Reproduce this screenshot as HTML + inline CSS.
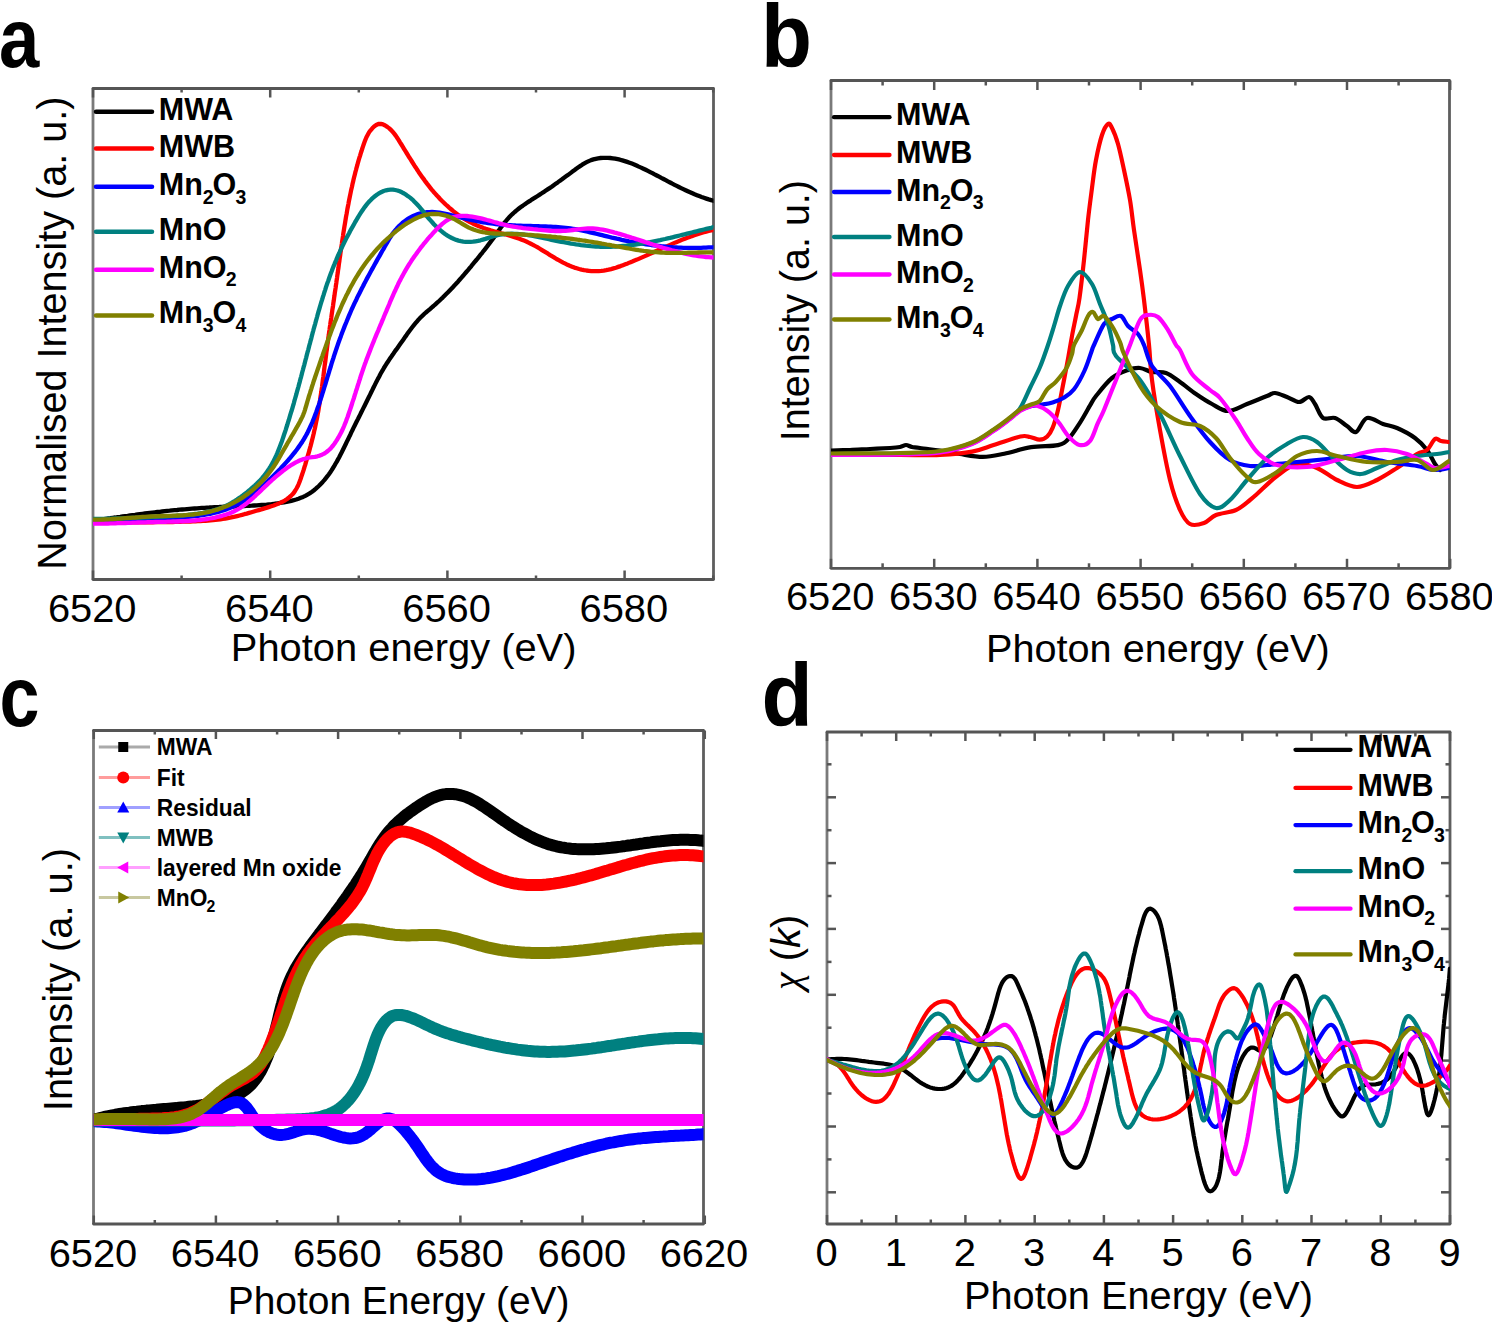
<!DOCTYPE html>
<html><head><meta charset="utf-8"><title>XANES figure</title>
<style>
html,body{margin:0;padding:0;background:#fff;}
body{width:1492px;height:1325px;overflow:hidden;font-family:"Liberation Sans",sans-serif;}
svg{display:block;}
</style></head><body>
<svg width="1492" height="1325" viewBox="0 0 1492 1325" font-family="Liberation Sans, sans-serif" fill="#000">
<defs>
<clipPath id="ca"><rect x="93" y="88.5" width="620.5" height="491"/></clipPath>
<clipPath id="cb"><rect x="831" y="80.5" width="618.5" height="487.5"/></clipPath>
<clipPath id="cc"><rect x="93.75" y="730.5" width="609.75" height="493.5"/></clipPath>
<clipPath id="cd"><rect x="827" y="732" width="623" height="492"/></clipPath>
</defs>
<text transform="translate(-1.0,66.7) scale(0.862,1)" font-size="84" font-weight="bold">a</text>
<text transform="translate(761.0,66.7) scale(0.945,1)" font-size="88.3" font-weight="bold">b</text>
<text transform="translate(-0.6,726.4) scale(0.84,1)" font-size="85.6" font-weight="bold">c</text>
<text transform="translate(761.6,725.5) scale(0.938,1)" font-size="89.4" font-weight="bold">d</text>
<path d="M93,88.5 L93,579.5" stroke="#7a7a7a" stroke-width="2.8" fill="none"/>
<path d="M713.5,88.5 L713.5,579.5" stroke="#5e5e5e" stroke-width="2.8" fill="none"/>
<path d="M93,88.5 L713.5,88.5" stroke="#555" stroke-width="2.8" fill="none" stroke-linecap="round"/>
<path d="M93,579.5 L713.5,579.5" stroke="#555" stroke-width="2.8" fill="none" stroke-linecap="round"/>
<line x1="93.0" y1="579.5" x2="93.0" y2="570.5" stroke="#555555" stroke-width="2.5"/>
<line x1="93.0" y1="88.5" x2="93.0" y2="97.5" stroke="#555555" stroke-width="2.5"/>
<line x1="181.6" y1="579.5" x2="181.6" y2="575.5" stroke="#555555" stroke-width="2.5"/>
<line x1="181.6" y1="88.5" x2="181.6" y2="92.5" stroke="#555555" stroke-width="2.5"/>
<line x1="270.2" y1="579.5" x2="270.2" y2="570.5" stroke="#555555" stroke-width="2.5"/>
<line x1="270.2" y1="88.5" x2="270.2" y2="97.5" stroke="#555555" stroke-width="2.5"/>
<line x1="358.8" y1="579.5" x2="358.8" y2="575.5" stroke="#555555" stroke-width="2.5"/>
<line x1="358.8" y1="88.5" x2="358.8" y2="92.5" stroke="#555555" stroke-width="2.5"/>
<line x1="447.4" y1="579.5" x2="447.4" y2="570.5" stroke="#555555" stroke-width="2.5"/>
<line x1="447.4" y1="88.5" x2="447.4" y2="97.5" stroke="#555555" stroke-width="2.5"/>
<line x1="536.0" y1="579.5" x2="536.0" y2="575.5" stroke="#555555" stroke-width="2.5"/>
<line x1="536.0" y1="88.5" x2="536.0" y2="92.5" stroke="#555555" stroke-width="2.5"/>
<line x1="624.6" y1="579.5" x2="624.6" y2="570.5" stroke="#555555" stroke-width="2.5"/>
<line x1="624.6" y1="88.5" x2="624.6" y2="97.5" stroke="#555555" stroke-width="2.5"/>
<line x1="713.2" y1="579.5" x2="713.2" y2="575.5" stroke="#555555" stroke-width="2.5"/>
<line x1="713.2" y1="88.5" x2="713.2" y2="92.5" stroke="#555555" stroke-width="2.5"/>
<text transform="translate(92.20,622.00) scale(1.022,1)" font-size="39" text-anchor="middle" font-weight="normal" >6520</text>
<text transform="translate(269.40,622.00) scale(1.022,1)" font-size="39" text-anchor="middle" font-weight="normal" >6540</text>
<text transform="translate(446.60,622.00) scale(1.022,1)" font-size="39" text-anchor="middle" font-weight="normal" >6560</text>
<text transform="translate(623.80,622.00) scale(1.022,1)" font-size="39" text-anchor="middle" font-weight="normal" >6580</text>
<text transform="translate(403.65,661.20) scale(1.0227,1)" font-size="39" text-anchor="middle" font-weight="normal" >Photon energy (eV)</text>
<text transform="translate(65.50,333.15) rotate(-90) scale(1,1.01)" font-size="39.6" text-anchor="middle" >Normalised Intensity (a. u.)</text>
<g clip-path="url(#ca)">
<path d="M93.0,520.7 L95.5,520.4 L98.0,520.0 L100.4,519.6 L102.9,519.3 L105.4,518.9 L107.8,518.5 L110.3,518.2 L112.8,517.8 L115.2,517.5 L117.7,517.1 L120.2,516.8 L122.6,516.4 L125.1,516.1 L127.6,515.8 L130.1,515.4 L132.5,515.1 L135.0,514.8 L137.5,514.4 L139.9,514.1 L142.4,513.8 L144.9,513.5 L147.4,513.2 L149.8,512.9 L152.3,512.6 L154.8,512.3 L157.3,512.0 L159.7,511.8 L162.2,511.5 L164.7,511.2 L167.2,510.9 L169.7,510.7 L172.1,510.4 L174.6,510.2 L177.1,510.0 L179.6,509.7 L182.1,509.5 L184.5,509.3 L187.0,509.1 L189.5,508.9 L192.0,508.7 L194.5,508.5 L197.0,508.3 L199.4,508.1 L201.9,507.9 L204.4,507.8 L206.9,507.6 L209.4,507.5 L211.9,507.3 L214.4,507.2 L216.8,507.1 L219.3,507.0 L221.8,506.8 L224.3,506.7 L226.8,506.7 L229.3,506.6 L231.8,506.5 L234.3,506.4 L236.8,506.3 L239.2,506.2 L241.7,506.1 L244.2,506.0 L246.7,505.9 L249.2,505.8 L251.7,505.7 L254.2,505.5 L256.7,505.4 L259.2,505.2 L261.7,505.0 L264.1,504.8 L266.6,504.6 L269.1,504.3 L271.6,504.1 L274.1,503.8 L276.6,503.5 L279.1,503.1 L281.5,502.7 L284.0,502.3 L286.5,501.9 L288.9,501.4 L291.4,500.8 L293.8,500.2 L296.2,499.5 L298.5,498.7 L300.8,497.8 L303.1,496.9 L305.3,495.8 L307.5,494.6 L309.6,493.4 L311.7,492.0 L313.7,490.5 L315.6,488.9 L317.5,487.2 L319.3,485.5 L321.0,483.7 L322.7,481.9 L324.3,480.1 L325.9,478.1 L327.4,476.2 L328.9,474.2 L330.3,472.2 L331.7,470.1 L333.0,468.0 L334.3,465.9 L335.5,463.8 L336.8,461.6 L338.0,459.4 L339.2,457.2 L340.3,455.0 L341.5,452.7 L342.6,450.5 L343.7,448.2 L344.8,446.0 L345.9,443.7 L347.0,441.4 L348.1,439.2 L349.2,436.9 L350.3,434.7 L351.3,432.4 L352.4,430.2 L353.5,427.9 L354.6,425.7 L355.7,423.5 L356.8,421.2 L358.0,419.0 L359.1,416.8 L360.2,414.6 L361.3,412.3 L362.4,410.1 L363.5,407.9 L364.6,405.7 L365.7,403.5 L366.8,401.2 L367.9,399.0 L369.0,396.8 L370.1,394.6 L371.2,392.3 L372.3,390.1 L373.4,387.8 L374.5,385.6 L375.6,383.4 L376.8,381.1 L377.9,378.9 L379.1,376.7 L380.2,374.5 L381.4,372.3 L382.7,370.2 L383.9,368.0 L385.2,365.9 L386.5,363.8 L387.9,361.7 L389.3,359.6 L390.7,357.6 L392.1,355.5 L393.5,353.5 L394.9,351.4 L396.4,349.4 L397.8,347.4 L399.3,345.3 L400.7,343.3 L402.2,341.2 L403.6,339.2 L405.0,337.1 L406.5,335.1 L407.9,333.1 L409.4,331.0 L410.9,329.0 L412.4,327.0 L413.9,325.1 L415.5,323.2 L417.1,321.3 L418.7,319.4 L420.5,317.6 L422.2,315.9 L424.0,314.2 L425.9,312.5 L427.8,310.9 L429.7,309.3 L431.6,307.6 L433.5,306.0 L435.4,304.3 L437.2,302.7 L439.1,301.0 L440.9,299.3 L442.7,297.6 L444.5,295.8 L446.2,294.1 L448.0,292.3 L449.7,290.5 L451.4,288.7 L453.1,286.9 L454.8,285.1 L456.5,283.2 L458.2,281.4 L459.8,279.5 L461.5,277.6 L463.1,275.8 L464.7,273.9 L466.3,272.0 L468.0,270.1 L469.6,268.2 L471.2,266.3 L472.7,264.3 L474.3,262.4 L475.9,260.5 L477.5,258.6 L479.1,256.6 L480.6,254.7 L482.2,252.8 L483.7,250.8 L485.3,248.8 L486.8,246.9 L488.3,244.9 L489.8,242.9 L491.3,240.9 L492.8,238.9 L494.3,236.9 L495.7,234.8 L497.2,232.8 L498.6,230.7 L500.0,228.7 L501.5,226.6 L503.0,224.6 L504.5,222.7 L506.1,220.8 L507.7,218.9 L509.4,217.1 L511.1,215.3 L512.9,213.6 L514.7,212.0 L516.6,210.4 L518.6,208.8 L520.5,207.3 L522.6,205.9 L524.6,204.4 L526.6,203.0 L528.7,201.6 L530.8,200.3 L532.9,198.9 L535.0,197.6 L537.2,196.2 L539.3,194.9 L541.4,193.5 L543.5,192.2 L545.5,190.8 L547.6,189.4 L549.6,188.1 L551.7,186.7 L553.7,185.2 L555.7,183.8 L557.7,182.4 L559.7,180.9 L561.7,179.5 L563.7,178.0 L565.7,176.6 L567.8,175.1 L569.8,173.6 L571.8,172.1 L573.9,170.6 L575.9,169.0 L578.0,167.5 L580.1,166.1 L582.2,164.7 L584.4,163.4 L586.6,162.2 L588.8,161.1 L591.1,160.1 L593.4,159.4 L595.7,158.8 L598.1,158.3 L600.5,158.0 L603.0,157.8 L605.4,157.8 L607.9,157.8 L610.3,158.0 L612.8,158.3 L615.2,158.7 L617.6,159.2 L620.0,159.7 L622.4,160.4 L624.8,161.1 L627.2,161.9 L629.5,162.7 L631.9,163.6 L634.2,164.5 L636.5,165.5 L638.8,166.6 L641.1,167.6 L643.4,168.7 L645.7,169.8 L647.9,170.9 L650.2,172.1 L652.4,173.2 L654.6,174.4 L656.8,175.5 L659.1,176.7 L661.3,177.9 L663.5,179.0 L665.7,180.2 L667.9,181.4 L670.1,182.5 L672.3,183.7 L674.5,184.8 L676.7,185.9 L678.9,187.0 L681.1,188.1 L683.3,189.2 L685.6,190.3 L687.8,191.3 L690.1,192.3 L692.4,193.3 L694.6,194.3 L696.9,195.2 L699.2,196.1 L701.6,197.0 L703.9,197.8 L706.3,198.6 L708.7,199.4 L711.1,200.1 L713.5,200.8 L716.0,201.5" fill="none" stroke="#000000" stroke-width="4.3" stroke-linejoin="round" stroke-linecap="round" />
<path d="M92.9,522.6 L95.5,522.6 L98.0,522.6 L100.5,522.6 L103.0,522.5 L105.5,522.5 L108.0,522.5 L110.5,522.5 L113.0,522.5 L115.5,522.5 L118.0,522.5 L120.5,522.4 L123.0,522.4 L125.5,522.4 L128.0,522.4 L130.5,522.4 L133.0,522.4 L135.5,522.4 L137.9,522.4 L140.4,522.4 L142.9,522.3 L145.4,522.3 L147.9,522.3 L150.4,522.3 L152.8,522.3 L155.3,522.2 L157.8,522.2 L160.3,522.2 L162.8,522.1 L165.3,522.1 L167.8,522.1 L170.3,522.0 L172.8,522.0 L175.3,521.9 L177.8,521.9 L180.3,521.8 L182.8,521.7 L185.3,521.7 L187.8,521.6 L190.3,521.5 L192.9,521.4 L195.4,521.3 L197.9,521.2 L200.4,521.1 L202.9,520.9 L205.5,520.8 L208.0,520.6 L210.5,520.4 L213.0,520.2 L215.4,519.9 L217.9,519.6 L220.4,519.3 L222.8,518.9 L225.3,518.6 L227.7,518.1 L230.1,517.7 L232.5,517.2 L234.8,516.7 L237.2,516.1 L239.6,515.5 L242.0,514.9 L244.3,514.2 L246.7,513.6 L249.1,512.9 L251.5,512.2 L253.9,511.5 L256.3,510.8 L258.8,510.1 L261.2,509.4 L263.7,508.6 L266.2,507.9 L268.7,507.1 L271.2,506.3 L273.7,505.5 L276.1,504.6 L278.4,503.6 L280.7,502.6 L283.0,501.5 L285.1,500.3 L287.1,499.0 L289.0,497.5 L290.8,496.0 L292.5,494.3 L294.0,492.5 L295.3,490.5 L296.5,488.5 L297.7,486.3 L298.7,484.0 L299.6,481.7 L300.5,479.3 L301.3,476.9 L302.1,474.5 L302.9,472.1 L303.7,469.7 L304.4,467.3 L305.2,464.9 L305.9,462.4 L306.6,460.0 L307.3,457.6 L308.0,455.2 L308.7,452.8 L309.4,450.4 L310.0,448.0 L310.7,445.6 L311.3,443.2 L311.9,440.8 L312.5,438.4 L313.1,435.9 L313.7,433.5 L314.2,431.1 L314.8,428.7 L315.3,426.3 L315.8,423.8 L316.3,421.4 L316.8,419.0 L317.3,416.5 L317.7,414.1 L318.2,411.6 L318.6,409.2 L319.0,406.7 L319.4,404.2 L319.8,401.8 L320.2,399.3 L320.5,396.8 L320.9,394.4 L321.3,391.9 L321.6,389.4 L322.0,387.0 L322.3,384.5 L322.6,382.0 L322.9,379.5 L323.3,377.0 L323.6,374.6 L323.9,372.1 L324.2,369.6 L324.5,367.1 L324.8,364.6 L325.2,362.2 L325.5,359.7 L325.8,357.2 L326.1,354.7 L326.4,352.2 L326.8,349.8 L327.1,347.3 L327.4,344.8 L327.8,342.3 L328.1,339.9 L328.4,337.4 L328.8,334.9 L329.1,332.4 L329.5,330.0 L329.8,327.5 L330.2,325.0 L330.5,322.6 L330.9,320.1 L331.3,317.6 L331.6,315.2 L332.0,312.7 L332.3,310.2 L332.7,307.8 L333.1,305.3 L333.4,302.8 L333.8,300.4 L334.1,297.9 L334.5,295.4 L334.8,292.9 L335.2,290.5 L335.6,288.0 L335.9,285.5 L336.3,283.1 L336.6,280.6 L337.0,278.1 L337.3,275.7 L337.7,273.2 L338.0,270.7 L338.4,268.2 L338.7,265.8 L339.0,263.3 L339.4,260.8 L339.7,258.3 L340.1,255.9 L340.4,253.4 L340.8,250.9 L341.1,248.5 L341.5,246.0 L341.9,243.5 L342.2,241.0 L342.6,238.6 L343.0,236.1 L343.3,233.6 L343.7,231.2 L344.1,228.7 L344.5,226.2 L344.9,223.8 L345.3,221.3 L345.7,218.8 L346.1,216.4 L346.6,213.9 L347.0,211.5 L347.4,209.0 L347.9,206.5 L348.4,204.1 L348.8,201.6 L349.3,199.2 L349.8,196.8 L350.3,194.3 L350.8,191.9 L351.3,189.4 L351.9,187.0 L352.4,184.6 L353.0,182.1 L353.5,179.7 L354.1,177.3 L354.7,174.9 L355.3,172.4 L356.0,170.0 L356.6,167.6 L357.3,165.2 L357.9,162.8 L358.6,160.4 L359.3,158.0 L360.1,155.6 L360.8,153.2 L361.6,150.8 L362.3,148.5 L363.1,146.1 L363.9,143.7 L364.8,141.3 L365.7,139.0 L366.7,136.7 L367.9,134.5 L369.1,132.3 L370.6,130.3 L372.3,128.3 L374.1,126.5 L376.2,125.0 L378.4,124.0 L380.7,123.8 L383.0,124.4 L385.2,125.5 L387.3,126.9 L389.3,128.4 L391.1,130.1 L392.8,131.9 L394.4,133.9 L395.9,135.9 L397.3,138.0 L398.7,140.1 L400.0,142.3 L401.4,144.5 L402.7,146.6 L404.0,148.8 L405.3,150.9 L406.6,153.0 L407.9,155.2 L409.2,157.3 L410.6,159.4 L411.9,161.5 L413.2,163.6 L414.5,165.7 L415.9,167.7 L417.2,169.8 L418.6,171.9 L420.0,173.9 L421.4,175.9 L422.8,177.9 L424.3,179.9 L425.7,181.9 L427.2,183.9 L428.8,185.9 L430.3,187.8 L431.9,189.8 L433.5,191.7 L435.2,193.6 L436.9,195.5 L438.6,197.3 L440.3,199.2 L442.1,201.0 L443.9,202.7 L445.7,204.5 L447.6,206.2 L449.4,207.8 L451.4,209.5 L453.3,211.1 L455.3,212.6 L457.3,214.1 L459.3,215.6 L461.4,217.0 L463.5,218.3 L465.6,219.6 L467.7,220.9 L469.9,222.1 L472.1,223.2 L474.3,224.3 L476.6,225.3 L478.9,226.2 L481.2,227.1 L483.5,228.0 L485.9,228.8 L488.3,229.5 L490.6,230.3 L493.0,231.0 L495.4,231.7 L497.8,232.3 L500.2,233.0 L502.7,233.7 L505.1,234.3 L507.5,235.0 L509.9,235.7 L512.3,236.4 L514.6,237.2 L517.0,238.0 L519.4,238.8 L521.7,239.7 L524.0,240.6 L526.3,241.5 L528.5,242.6 L530.8,243.7 L533.0,244.8 L535.1,246.0 L537.3,247.2 L539.5,248.5 L541.6,249.8 L543.7,251.1 L545.9,252.4 L548.0,253.7 L550.1,255.1 L552.3,256.4 L554.4,257.7 L556.5,259.0 L558.7,260.2 L560.9,261.4 L563.1,262.6 L565.3,263.7 L567.5,264.8 L569.8,265.8 L572.1,266.7 L574.4,267.6 L576.7,268.3 L579.1,269.0 L581.5,269.6 L584.0,270.1 L586.4,270.5 L588.9,270.8 L591.4,271.1 L593.9,271.2 L596.3,271.2 L598.8,271.1 L601.3,270.9 L603.7,270.6 L606.2,270.2 L608.6,269.7 L611.1,269.1 L613.5,268.4 L615.9,267.7 L618.2,266.9 L620.6,266.1 L623.0,265.2 L625.3,264.3 L627.7,263.4 L630.0,262.4 L632.3,261.5 L634.6,260.5 L637.0,259.6 L639.3,258.6 L641.5,257.6 L643.8,256.6 L646.1,255.6 L648.4,254.5 L650.7,253.5 L653.0,252.5 L655.2,251.5 L657.5,250.4 L659.8,249.4 L662.1,248.4 L664.3,247.4 L666.6,246.4 L668.9,245.4 L671.2,244.4 L673.4,243.4 L675.7,242.4 L678.0,241.5 L680.3,240.5 L682.6,239.6 L684.9,238.7 L687.3,237.8 L689.6,237.0 L691.9,236.1 L694.3,235.3 L696.6,234.5 L699.0,233.7 L701.4,233.0 L703.8,232.3 L706.2,231.6 L708.6,231.0 L711.1,230.4 L713.5,229.8 L716.0,229.3" fill="none" stroke="#ff0000" stroke-width="4.3" stroke-linejoin="round" stroke-linecap="round" />
<path d="M93.0,520.4 L95.5,520.4 L98.0,520.4 L100.5,520.4 L103.0,520.3 L105.5,520.3 L108.0,520.2 L110.5,520.2 L113.0,520.1 L115.5,520.0 L118.0,520.0 L120.5,519.9 L123.0,519.8 L125.5,519.7 L128.0,519.6 L130.5,519.5 L133.0,519.4 L135.4,519.3 L137.9,519.2 L140.4,519.1 L142.9,519.0 L145.4,518.9 L147.9,518.8 L150.4,518.7 L152.9,518.6 L155.4,518.5 L157.9,518.4 L160.4,518.3 L162.9,518.2 L165.4,518.0 L167.9,517.9 L170.4,517.8 L172.9,517.7 L175.4,517.6 L177.9,517.5 L180.4,517.3 L182.9,517.2 L185.4,517.0 L187.9,516.8 L190.4,516.6 L192.9,516.3 L195.4,516.1 L197.9,515.8 L200.4,515.4 L202.8,515.1 L205.3,514.7 L207.7,514.2 L210.2,513.8 L212.6,513.2 L215.0,512.7 L217.4,512.1 L219.8,511.4 L222.2,510.7 L224.6,509.9 L226.9,509.1 L229.2,508.2 L231.5,507.3 L233.8,506.3 L236.0,505.2 L238.3,504.1 L240.4,502.9 L242.6,501.6 L244.7,500.3 L246.8,498.9 L248.8,497.5 L250.8,496.0 L252.8,494.4 L254.7,492.8 L256.6,491.1 L258.5,489.5 L260.4,487.8 L262.3,486.1 L264.1,484.5 L265.9,482.8 L267.8,481.1 L269.6,479.4 L271.4,477.7 L273.2,475.9 L274.9,474.2 L276.7,472.4 L278.4,470.7 L280.2,468.9 L281.9,467.1 L283.6,465.3 L285.3,463.4 L286.9,461.6 L288.6,459.7 L290.2,457.8 L291.8,455.9 L293.4,453.9 L295.0,452.0 L296.5,450.0 L298.0,447.9 L299.5,445.9 L300.9,443.8 L302.3,441.7 L303.6,439.6 L304.9,437.4 L306.1,435.3 L307.3,433.1 L308.4,430.8 L309.4,428.6 L310.5,426.3 L311.5,424.1 L312.5,421.8 L313.4,419.5 L314.3,417.2 L315.2,414.9 L316.1,412.5 L316.9,410.2 L317.7,407.8 L318.6,405.5 L319.4,403.1 L320.1,400.8 L320.9,398.4 L321.7,396.0 L322.4,393.6 L323.2,391.2 L323.9,388.9 L324.6,386.5 L325.4,384.1 L326.1,381.7 L326.8,379.3 L327.5,376.9 L328.3,374.5 L329.0,372.1 L329.7,369.7 L330.5,367.3 L331.2,364.9 L331.9,362.5 L332.7,360.1 L333.5,357.7 L334.2,355.4 L335.0,353.0 L335.8,350.6 L336.6,348.2 L337.4,345.9 L338.2,343.5 L339.1,341.1 L339.9,338.8 L340.8,336.4 L341.6,334.1 L342.5,331.8 L343.4,329.4 L344.3,327.1 L345.2,324.8 L346.2,322.5 L347.1,320.2 L348.1,317.8 L349.0,315.6 L350.0,313.3 L351.0,311.0 L352.0,308.7 L353.1,306.4 L354.1,304.2 L355.2,301.9 L356.3,299.7 L357.3,297.4 L358.4,295.2 L359.6,292.9 L360.7,290.7 L361.8,288.5 L363.0,286.3 L364.1,284.0 L365.3,281.8 L366.4,279.6 L367.6,277.4 L368.8,275.2 L370.0,273.0 L371.2,270.8 L372.4,268.6 L373.6,266.5 L374.8,264.3 L376.0,262.1 L377.2,259.9 L378.5,257.7 L379.7,255.6 L380.9,253.4 L382.1,251.2 L383.4,249.1 L384.6,246.9 L385.9,244.7 L387.1,242.6 L388.4,240.4 L389.6,238.3 L391.0,236.2 L392.3,234.1 L393.8,232.1 L395.4,230.2 L397.0,228.3 L398.7,226.4 L400.5,224.7 L402.3,223.0 L404.3,221.4 L406.3,220.0 L408.3,218.6 L410.5,217.3 L412.7,216.2 L415.0,215.2 L417.3,214.4 L419.7,213.6 L422.1,213.0 L424.6,212.6 L427.0,212.2 L429.5,212.1 L432.0,212.0 L434.5,212.1 L437.0,212.3 L439.4,212.6 L441.9,213.1 L444.3,213.6 L446.8,214.1 L449.2,214.7 L451.7,215.3 L454.1,215.9 L456.5,216.4 L458.9,217.0 L461.4,217.6 L463.8,218.2 L466.2,218.8 L468.7,219.4 L471.1,219.9 L473.5,220.5 L476.0,221.0 L478.4,221.5 L480.9,221.9 L483.3,222.3 L485.8,222.7 L488.2,223.1 L490.7,223.4 L493.2,223.7 L495.7,224.0 L498.1,224.3 L500.6,224.5 L503.1,224.7 L505.6,224.9 L508.1,225.1 L510.6,225.2 L513.1,225.3 L515.6,225.5 L518.1,225.6 L520.6,225.7 L523.1,225.8 L525.6,225.9 L528.1,225.9 L530.6,226.0 L533.1,226.1 L535.6,226.1 L538.1,226.2 L540.6,226.3 L543.2,226.4 L545.7,226.5 L548.2,226.6 L550.7,226.7 L553.1,226.9 L555.6,227.0 L558.1,227.2 L560.6,227.4 L563.1,227.6 L565.6,227.9 L568.0,228.2 L570.5,228.5 L573.0,228.8 L575.4,229.2 L577.9,229.7 L580.3,230.1 L582.8,230.6 L585.2,231.2 L587.6,231.7 L590.1,232.3 L592.5,232.8 L594.9,233.4 L597.3,234.0 L599.8,234.6 L602.2,235.2 L604.6,235.8 L607.0,236.4 L609.5,237.0 L611.9,237.6 L614.4,238.1 L616.8,238.7 L619.2,239.2 L621.7,239.8 L624.1,240.3 L626.6,240.8 L629.0,241.3 L631.5,241.7 L633.9,242.2 L636.4,242.6 L638.9,243.1 L641.3,243.5 L643.8,243.9 L646.3,244.3 L648.7,244.6 L651.2,245.0 L653.7,245.3 L656.1,245.6 L658.6,245.9 L661.1,246.2 L663.6,246.4 L666.1,246.7 L668.5,246.9 L671.0,247.1 L673.5,247.3 L676.0,247.4 L678.5,247.6 L681.0,247.7 L683.5,247.8 L686.0,247.9 L688.5,247.9 L691.0,247.9 L693.5,247.9 L696.0,247.9 L698.5,247.9 L701.0,247.8 L703.5,247.7 L706.0,247.6 L708.5,247.4 L711.0,247.3 L713.5,247.1 L716.0,246.8" fill="none" stroke="#0000ff" stroke-width="4.3" stroke-linejoin="round" stroke-linecap="round" />
<path d="M93.0,518.9 L95.5,518.9 L98.0,518.9 L100.5,518.8 L103.0,518.8 L105.5,518.8 L108.0,518.7 L110.5,518.6 L113.0,518.6 L115.5,518.5 L118.0,518.4 L120.5,518.4 L123.0,518.3 L125.5,518.2 L127.9,518.1 L130.4,518.0 L132.9,517.9 L135.4,517.8 L137.9,517.7 L140.4,517.6 L142.9,517.5 L145.4,517.4 L147.9,517.3 L150.4,517.2 L152.9,517.1 L155.4,516.9 L157.9,516.8 L160.4,516.7 L162.9,516.6 L165.3,516.5 L167.8,516.3 L170.3,516.2 L172.8,516.1 L175.3,515.9 L177.8,515.7 L180.3,515.6 L182.8,515.4 L185.3,515.1 L187.8,514.9 L190.3,514.6 L192.8,514.3 L195.2,514.0 L197.7,513.7 L200.2,513.3 L202.7,512.9 L205.1,512.4 L207.6,511.9 L210.0,511.4 L212.4,510.7 L214.8,510.1 L217.2,509.4 L219.5,508.6 L221.8,507.7 L224.1,506.8 L226.3,505.7 L228.5,504.6 L230.7,503.5 L232.8,502.2 L235.0,500.9 L237.0,499.6 L239.1,498.1 L241.1,496.7 L243.1,495.2 L245.1,493.6 L247.1,492.1 L249.1,490.5 L251.0,488.8 L252.9,487.2 L254.8,485.5 L256.6,483.8 L258.4,482.0 L260.2,480.2 L261.9,478.4 L263.5,476.5 L265.0,474.5 L266.5,472.6 L267.9,470.5 L269.3,468.5 L270.6,466.4 L271.8,464.3 L273.0,462.1 L274.1,459.9 L275.2,457.7 L276.3,455.4 L277.3,453.1 L278.2,450.8 L279.1,448.5 L280.0,446.2 L280.9,443.8 L281.8,441.5 L282.6,439.1 L283.4,436.7 L284.2,434.3 L285.0,432.0 L285.8,429.6 L286.5,427.2 L287.3,424.8 L288.0,422.4 L288.8,420.0 L289.5,417.6 L290.2,415.2 L290.9,412.8 L291.7,410.5 L292.4,408.1 L293.1,405.7 L293.8,403.3 L294.4,400.9 L295.1,398.5 L295.8,396.1 L296.5,393.7 L297.1,391.3 L297.8,388.9 L298.5,386.5 L299.1,384.1 L299.8,381.6 L300.4,379.2 L301.1,376.8 L301.7,374.4 L302.3,372.0 L303.0,369.6 L303.6,367.2 L304.3,364.8 L304.9,362.4 L305.5,360.0 L306.2,357.6 L306.8,355.1 L307.4,352.7 L308.1,350.3 L308.7,347.9 L309.3,345.5 L310.0,343.1 L310.6,340.7 L311.3,338.3 L311.9,335.8 L312.5,333.4 L313.2,331.0 L313.8,328.6 L314.5,326.2 L315.2,323.8 L315.8,321.4 L316.5,319.0 L317.2,316.5 L317.8,314.1 L318.5,311.7 L319.2,309.3 L319.9,306.9 L320.6,304.5 L321.3,302.1 L322.1,299.7 L322.8,297.3 L323.6,294.9 L324.3,292.5 L325.1,290.1 L325.8,287.8 L326.6,285.4 L327.4,283.0 L328.3,280.7 L329.1,278.3 L329.9,276.0 L330.8,273.6 L331.7,271.3 L332.5,269.0 L333.4,266.7 L334.4,264.4 L335.3,262.1 L336.3,259.8 L337.2,257.5 L338.2,255.2 L339.3,253.0 L340.3,250.7 L341.3,248.5 L342.4,246.2 L343.5,244.0 L344.6,241.8 L345.7,239.6 L346.8,237.4 L348.0,235.2 L349.2,233.0 L350.3,230.8 L351.5,228.6 L352.8,226.4 L354.0,224.2 L355.2,222.0 L356.5,219.9 L357.8,217.7 L359.1,215.5 L360.4,213.4 L361.8,211.3 L363.2,209.2 L364.7,207.1 L366.2,205.1 L367.8,203.1 L369.5,201.2 L371.3,199.4 L373.2,197.7 L375.2,196.0 L377.2,194.5 L379.3,193.2 L381.5,192.0 L383.7,191.0 L386.0,190.3 L388.3,189.8 L390.6,189.6 L392.9,189.6 L395.2,190.0 L397.4,190.5 L399.7,191.3 L401.9,192.3 L404.1,193.5 L406.3,194.9 L408.4,196.4 L410.4,197.9 L412.4,199.6 L414.2,201.4 L416.0,203.2 L417.7,205.0 L419.4,206.9 L421.0,208.8 L422.5,210.7 L424.1,212.7 L425.6,214.6 L427.2,216.6 L428.8,218.5 L430.5,220.4 L432.2,222.3 L433.9,224.2 L435.7,226.0 L437.5,227.8 L439.4,229.5 L441.4,231.1 L443.4,232.7 L445.4,234.2 L447.5,235.6 L449.6,236.8 L451.8,238.0 L454.0,239.0 L456.3,239.9 L458.5,240.6 L460.9,241.2 L463.3,241.6 L465.7,241.8 L468.1,241.9 L470.6,241.9 L473.0,241.7 L475.5,241.3 L478.0,240.9 L480.5,240.3 L482.9,239.6 L485.4,238.9 L487.8,238.1 L490.3,237.3 L492.7,236.5 L495.1,235.8 L497.5,235.2 L500.0,234.7 L502.4,234.4 L504.8,234.1 L507.3,233.9 L509.7,233.8 L512.1,233.7 L514.6,233.8 L517.0,233.9 L519.5,234.1 L521.9,234.3 L524.4,234.6 L526.8,234.9 L529.3,235.3 L531.7,235.7 L534.2,236.2 L536.6,236.7 L539.1,237.2 L541.6,237.7 L544.0,238.2 L546.5,238.7 L548.9,239.2 L551.4,239.8 L553.9,240.3 L556.3,240.8 L558.8,241.3 L561.3,241.8 L563.7,242.2 L566.2,242.7 L568.7,243.1 L571.1,243.6 L573.6,244.0 L576.1,244.4 L578.5,244.7 L581.0,245.1 L583.5,245.4 L585.9,245.7 L588.4,245.9 L590.9,246.2 L593.4,246.4 L595.8,246.5 L598.3,246.7 L600.8,246.8 L603.3,246.8 L605.7,246.8 L608.2,246.8 L610.7,246.8 L613.2,246.7 L615.7,246.6 L618.1,246.4 L620.6,246.2 L623.1,246.0 L625.6,245.8 L628.1,245.5 L630.5,245.2 L633.0,244.9 L635.5,244.6 L638.0,244.2 L640.4,243.8 L642.9,243.4 L645.4,243.0 L647.9,242.5 L650.3,242.1 L652.8,241.6 L655.3,241.1 L657.7,240.6 L660.2,240.1 L662.6,239.5 L665.1,239.0 L667.6,238.4 L670.0,237.9 L672.5,237.3 L674.9,236.7 L677.3,236.1 L679.8,235.5 L682.2,234.9 L684.6,234.3 L687.1,233.7 L689.5,233.1 L691.9,232.5 L694.3,231.9 L696.7,231.3 L699.2,230.7 L701.6,230.1 L704.0,229.5 L706.3,228.9 L708.7,228.3 L711.1,227.8 L713.5,227.2 L715.9,226.7" fill="none" stroke="#008080" stroke-width="4.3" stroke-linejoin="round" stroke-linecap="round" />
<path d="M93.0,523.5 L95.5,523.5 L98.0,523.5 L100.5,523.5 L103.0,523.5 L105.5,523.5 L108.0,523.5 L110.5,523.4 L112.9,523.4 L115.4,523.3 L117.9,523.2 L120.4,523.2 L122.9,523.1 L125.4,523.0 L127.9,522.9 L130.4,522.8 L132.9,522.7 L135.4,522.6 L137.8,522.5 L140.3,522.4 L142.8,522.4 L145.3,522.3 L147.8,522.2 L150.3,522.1 L152.8,522.1 L155.3,522.0 L157.8,521.9 L160.3,521.9 L162.8,521.8 L165.3,521.8 L167.8,521.7 L170.2,521.7 L172.7,521.6 L175.2,521.6 L177.7,521.5 L180.2,521.4 L182.7,521.3 L185.2,521.2 L187.7,521.0 L190.2,520.9 L192.7,520.7 L195.1,520.5 L197.6,520.2 L200.1,520.0 L202.6,519.7 L205.0,519.3 L207.5,519.0 L210.0,518.5 L212.4,518.1 L214.9,517.6 L217.3,517.0 L219.7,516.4 L222.1,515.8 L224.5,515.0 L226.9,514.3 L229.2,513.4 L231.5,512.5 L233.7,511.5 L235.9,510.4 L238.1,509.2 L240.2,508.0 L242.2,506.6 L244.2,505.2 L246.2,503.8 L248.1,502.2 L250.0,500.6 L251.9,499.0 L253.8,497.3 L255.6,495.6 L257.4,493.8 L259.3,492.1 L261.1,490.4 L262.9,488.6 L264.7,486.9 L266.6,485.1 L268.4,483.4 L270.3,481.7 L272.1,480.0 L274.0,478.3 L275.9,476.7 L277.8,475.1 L279.7,473.5 L281.6,472.0 L283.5,470.4 L285.5,469.0 L287.5,467.5 L289.5,466.2 L291.6,464.8 L293.7,463.6 L295.8,462.4 L298.0,461.3 L300.2,460.3 L302.5,459.4 L304.9,458.7 L307.3,458.0 L309.8,457.5 L312.3,457.1 L314.9,456.8 L317.4,456.3 L319.8,455.6 L322.0,454.7 L324.2,453.6 L326.2,452.3 L328.1,450.8 L329.8,449.2 L331.5,447.4 L333.1,445.5 L334.6,443.5 L336.0,441.4 L337.3,439.3 L338.6,437.2 L339.8,435.0 L341.0,432.8 L342.1,430.5 L343.1,428.3 L344.1,426.0 L345.0,423.7 L346.0,421.3 L346.8,419.0 L347.7,416.7 L348.5,414.3 L349.3,411.9 L350.1,409.6 L350.9,407.2 L351.7,404.8 L352.4,402.4 L353.2,400.1 L354.0,397.7 L354.7,395.3 L355.5,392.9 L356.2,390.5 L357.0,388.2 L357.7,385.8 L358.5,383.4 L359.2,381.1 L360.0,378.7 L360.7,376.3 L361.5,374.0 L362.3,371.6 L363.1,369.3 L363.9,366.9 L364.7,364.6 L365.6,362.2 L366.4,359.9 L367.3,357.6 L368.2,355.2 L369.1,352.9 L370.0,350.6 L370.9,348.3 L371.8,346.0 L372.7,343.7 L373.7,341.3 L374.6,339.0 L375.6,336.7 L376.5,334.4 L377.5,332.1 L378.5,329.8 L379.4,327.5 L380.4,325.2 L381.4,322.9 L382.3,320.6 L383.3,318.3 L384.2,316.0 L385.2,313.7 L386.2,311.4 L387.1,309.1 L388.1,306.8 L389.1,304.5 L390.0,302.2 L391.0,299.9 L392.0,297.6 L393.0,295.3 L394.0,293.0 L395.1,290.8 L396.1,288.5 L397.2,286.3 L398.2,284.0 L399.3,281.8 L400.5,279.6 L401.6,277.4 L402.8,275.2 L404.0,273.0 L405.2,270.9 L406.5,268.7 L407.7,266.6 L409.0,264.5 L410.4,262.4 L411.7,260.3 L413.1,258.3 L414.5,256.2 L416.0,254.2 L417.4,252.2 L418.9,250.2 L420.4,248.2 L422.0,246.2 L423.5,244.2 L425.1,242.3 L426.7,240.4 L428.3,238.4 L430.0,236.5 L431.7,234.7 L433.3,232.8 L435.1,230.9 L436.8,229.1 L438.6,227.3 L440.4,225.6 L442.3,223.9 L444.2,222.4 L446.1,220.9 L448.2,219.6 L450.3,218.5 L452.4,217.6 L454.7,216.8 L457.0,216.3 L459.5,216.0 L462.0,215.8 L464.5,215.9 L467.0,216.0 L469.6,216.3 L472.2,216.7 L474.7,217.1 L477.2,217.6 L479.7,218.1 L482.1,218.7 L484.6,219.3 L487.0,220.0 L489.4,220.6 L491.7,221.3 L494.1,222.0 L496.5,222.6 L498.8,223.3 L501.2,223.9 L503.6,224.5 L506.0,225.1 L508.4,225.7 L510.8,226.2 L513.2,226.6 L515.7,227.0 L518.2,227.4 L520.7,227.7 L523.2,228.1 L525.6,228.4 L528.2,228.6 L530.7,228.9 L533.2,229.2 L535.7,229.4 L538.1,229.7 L540.6,229.9 L543.1,230.2 L545.6,230.4 L548.0,230.6 L550.5,230.8 L553.0,230.9 L555.4,231.0 L557.9,231.0 L560.4,231.0 L562.9,230.9 L565.4,230.8 L567.8,230.6 L570.3,230.3 L572.8,230.0 L575.3,229.7 L577.8,229.4 L580.3,229.1 L582.8,228.8 L585.3,228.6 L587.8,228.5 L590.3,228.5 L592.8,228.5 L595.2,228.7 L597.7,229.0 L600.1,229.3 L602.6,229.7 L605.0,230.2 L607.4,230.7 L609.8,231.3 L612.3,231.9 L614.7,232.6 L617.1,233.2 L619.5,233.9 L621.9,234.6 L624.3,235.3 L626.6,236.1 L629.0,236.8 L631.4,237.6 L633.8,238.3 L636.2,239.1 L638.5,239.8 L640.9,240.6 L643.3,241.4 L645.7,242.2 L648.0,242.9 L650.4,243.7 L652.8,244.5 L655.2,245.2 L657.5,246.0 L659.9,246.7 L662.3,247.5 L664.7,248.2 L667.1,248.9 L669.5,249.6 L671.9,250.3 L674.3,250.9 L676.7,251.5 L679.1,252.2 L681.5,252.7 L683.9,253.3 L686.3,253.8 L688.8,254.4 L691.2,254.8 L693.7,255.3 L696.1,255.7 L698.6,256.1 L701.0,256.4 L703.5,256.7 L706.0,257.0 L708.5,257.2 L711.0,257.4 L713.5,257.5 L716.1,257.6" fill="none" stroke="#ff00ff" stroke-width="4.3" stroke-linejoin="round" stroke-linecap="round" />
<path d="M92.9,519.7 L95.5,519.7 L98.0,519.7 L100.5,519.6 L103.0,519.5 L105.5,519.4 L108.0,519.3 L110.5,519.2 L113.0,519.0 L115.5,518.9 L118.0,518.7 L120.5,518.6 L122.9,518.4 L125.4,518.2 L127.9,518.0 L130.4,517.8 L132.8,517.6 L135.3,517.5 L137.8,517.3 L140.3,517.1 L142.7,516.9 L145.2,516.8 L147.7,516.6 L150.2,516.5 L152.7,516.4 L155.2,516.3 L157.7,516.2 L160.2,516.1 L162.7,516.0 L165.2,515.9 L167.8,515.9 L170.3,515.8 L172.8,515.7 L175.3,515.6 L177.8,515.5 L180.3,515.4 L182.9,515.3 L185.4,515.1 L187.9,514.9 L190.4,514.7 L192.8,514.5 L195.3,514.2 L197.8,513.9 L200.2,513.5 L202.7,513.1 L205.1,512.7 L207.6,512.2 L210.0,511.6 L212.4,511.0 L214.7,510.3 L217.1,509.6 L219.5,508.8 L221.8,508.0 L224.1,507.1 L226.4,506.2 L228.6,505.2 L230.9,504.1 L233.1,503.0 L235.3,501.9 L237.5,500.7 L239.6,499.4 L241.7,498.1 L243.8,496.7 L245.8,495.3 L247.9,493.9 L249.8,492.4 L251.8,490.8 L253.7,489.2 L255.6,487.5 L257.4,485.8 L259.2,484.1 L261.0,482.3 L262.7,480.4 L264.4,478.6 L266.1,476.6 L267.7,474.7 L269.2,472.7 L270.7,470.7 L272.2,468.7 L273.6,466.7 L275.0,464.6 L276.3,462.5 L277.6,460.4 L278.9,458.3 L280.1,456.2 L281.3,454.0 L282.5,451.9 L283.8,449.7 L285.0,447.6 L286.3,445.4 L287.5,443.2 L288.8,441.1 L290.1,438.9 L291.3,436.7 L292.6,434.6 L293.9,432.4 L295.1,430.2 L296.3,428.1 L297.6,425.9 L298.8,423.7 L300.0,421.5 L301.1,419.3 L302.2,417.1 L303.2,414.8 L304.1,412.5 L304.9,410.1 L305.6,407.7 L306.3,405.3 L307.0,402.9 L307.7,400.5 L308.4,398.1 L309.1,395.7 L309.9,393.4 L310.6,391.0 L311.4,388.6 L312.1,386.2 L312.9,383.9 L313.6,381.5 L314.4,379.2 L315.2,376.8 L316.0,374.5 L316.8,372.1 L317.6,369.8 L318.4,367.4 L319.2,365.1 L320.0,362.7 L320.8,360.4 L321.6,358.0 L322.5,355.7 L323.3,353.3 L324.1,351.0 L325.0,348.6 L325.8,346.3 L326.6,343.9 L327.5,341.6 L328.3,339.2 L329.2,336.8 L330.1,334.5 L330.9,332.1 L331.8,329.8 L332.7,327.4 L333.6,325.1 L334.5,322.7 L335.5,320.4 L336.4,318.1 L337.3,315.8 L338.3,313.4 L339.3,311.1 L340.3,308.8 L341.3,306.5 L342.3,304.2 L343.3,302.0 L344.4,299.7 L345.5,297.4 L346.5,295.2 L347.7,293.0 L348.8,290.7 L349.9,288.5 L351.1,286.3 L352.3,284.2 L353.5,282.0 L354.7,279.8 L356.0,277.7 L357.3,275.6 L358.6,273.5 L359.9,271.4 L361.3,269.3 L362.7,267.3 L364.1,265.3 L365.5,263.3 L367.0,261.3 L368.5,259.3 L370.0,257.4 L371.6,255.5 L373.2,253.6 L374.8,251.7 L376.4,249.8 L378.1,248.0 L379.8,246.2 L381.5,244.4 L383.3,242.6 L385.1,240.9 L386.9,239.2 L388.8,237.5 L390.7,235.8 L392.6,234.2 L394.5,232.5 L396.5,230.9 L398.5,229.4 L400.5,227.8 L402.6,226.3 L404.7,224.8 L406.8,223.4 L409.0,222.1 L411.2,220.8 L413.4,219.6 L415.6,218.5 L417.8,217.5 L420.1,216.6 L422.4,215.8 L424.8,215.1 L427.1,214.6 L429.5,214.2 L431.8,214.0 L434.3,213.9 L436.7,214.0 L439.1,214.2 L441.5,214.6 L444.0,215.1 L446.4,215.8 L448.8,216.6 L451.1,217.6 L453.5,218.7 L455.7,219.8 L457.9,221.1 L460.1,222.5 L462.3,223.8 L464.5,225.1 L466.6,226.4 L468.8,227.6 L471.1,228.6 L473.4,229.5 L475.7,230.3 L478.0,231.0 L480.4,231.6 L482.8,232.1 L485.2,232.5 L487.6,232.8 L490.1,233.1 L492.6,233.3 L495.1,233.5 L497.6,233.6 L500.1,233.7 L502.6,233.8 L505.1,233.9 L507.6,233.9 L510.1,234.0 L512.7,234.1 L515.2,234.2 L517.7,234.3 L520.2,234.4 L522.7,234.5 L525.2,234.7 L527.7,234.8 L530.2,234.9 L532.7,235.1 L535.2,235.3 L537.7,235.5 L540.2,235.7 L542.6,235.9 L545.1,236.1 L547.6,236.3 L550.1,236.5 L552.6,236.8 L555.0,237.0 L557.5,237.3 L560.0,237.5 L562.5,237.8 L564.9,238.1 L567.4,238.4 L569.9,238.7 L572.3,239.0 L574.8,239.3 L577.3,239.7 L579.7,240.0 L582.2,240.4 L584.7,240.7 L587.1,241.1 L589.6,241.5 L592.1,241.9 L594.5,242.3 L597.0,242.7 L599.4,243.1 L601.9,243.6 L604.3,244.0 L606.8,244.5 L609.3,244.9 L611.7,245.4 L614.2,245.8 L616.6,246.3 L619.1,246.7 L621.5,247.2 L624.0,247.7 L626.5,248.1 L628.9,248.5 L631.4,249.0 L633.8,249.4 L636.3,249.8 L638.8,250.2 L641.2,250.5 L643.7,250.9 L646.2,251.2 L648.7,251.5 L651.1,251.8 L653.6,252.0 L656.1,252.2 L658.6,252.4 L661.1,252.6 L663.6,252.7 L666.1,252.8 L668.6,252.9 L671.1,252.9 L673.6,252.9 L676.1,252.9 L678.6,252.9 L681.1,252.9 L683.6,252.9 L686.1,252.8 L688.6,252.7 L691.1,252.7 L693.6,252.6 L696.1,252.6 L698.6,252.5 L701.1,252.4 L703.6,252.4 L706.0,252.3 L708.5,252.3 L711.0,252.3 L713.5,252.3 L716.0,252.3" fill="none" stroke="#808000" stroke-width="4.3" stroke-linejoin="round" stroke-linecap="round" />
</g>
<path d="M96,111.7 L152,111.7" fill="none" stroke="#000000" stroke-width="4.5" stroke-linejoin="round" stroke-linecap="round" />
<text transform="translate(158.80,119.80) scale(1.0,1)" font-size="30.5" text-anchor="start" font-weight="bold" >MWA</text>
<path d="M96,148.5 L152,148.5" fill="none" stroke="#ff0000" stroke-width="4.5" stroke-linejoin="round" stroke-linecap="round" />
<text transform="translate(158.80,157.00) scale(1.0,1)" font-size="30.5" text-anchor="start" font-weight="bold" >MWB</text>
<path d="M96,186.7 L152,186.7" fill="none" stroke="#0000ff" stroke-width="4.5" stroke-linejoin="round" stroke-linecap="round" />
<text transform="translate(158.80,195.30) scale(1.0,1)" font-size="30.5" text-anchor="start" font-weight="bold" >Mn<tspan font-size='19.5' dy='8.8'>2</tspan><tspan dy='-8.8' dx='-1.2'>O</tspan><tspan font-size='19.5' dy='8.8' dx='-0.8'>3</tspan></text>
<path d="M96,231.7 L152,231.7" fill="none" stroke="#008080" stroke-width="4.5" stroke-linejoin="round" stroke-linecap="round" />
<text transform="translate(158.80,240.10) scale(1.0,1)" font-size="30.5" text-anchor="start" font-weight="bold" >MnO</text>
<path d="M96,269.7 L152,269.7" fill="none" stroke="#ff00ff" stroke-width="4.5" stroke-linejoin="round" stroke-linecap="round" />
<text transform="translate(158.80,277.50) scale(1.0,1)" font-size="30.5" text-anchor="start" font-weight="bold" >MnO<tspan font-size='19.5' dy='8.8' dx='-0.8'>2</tspan></text>
<path d="M96,315.5 L152,315.5" fill="none" stroke="#808000" stroke-width="4.5" stroke-linejoin="round" stroke-linecap="round" />
<text transform="translate(158.80,323.00) scale(1.0,1)" font-size="30.5" text-anchor="start" font-weight="bold" >Mn<tspan font-size='19.5' dy='8.8'>3</tspan><tspan dy='-8.8' dx='-1.2'>O</tspan><tspan font-size='19.5' dy='8.8' dx='-0.8'>4</tspan></text>
<path d="M831,80.5 L831,568.3" stroke="#7a7a7a" stroke-width="2.8" fill="none"/>
<path d="M1449.5,80.5 L1449.5,568.3" stroke="#5e5e5e" stroke-width="2.8" fill="none"/>
<path d="M831,80.5 L1449.5,80.5" stroke="#555" stroke-width="2.8" fill="none" stroke-linecap="round"/>
<path d="M831,568.3 L1449.5,568.3" stroke="#555" stroke-width="2.8" fill="none" stroke-linecap="round"/>
<line x1="831.0" y1="568.3" x2="831.0" y2="558.8" stroke="#555555" stroke-width="2.5"/>
<line x1="831.0" y1="80.5" x2="831.0" y2="90.0" stroke="#555555" stroke-width="2.5"/>
<line x1="882.6" y1="568.3" x2="882.6" y2="563.3" stroke="#555555" stroke-width="2.5"/>
<line x1="882.6" y1="80.5" x2="882.6" y2="85.5" stroke="#555555" stroke-width="2.5"/>
<line x1="934.2" y1="568.3" x2="934.2" y2="558.8" stroke="#555555" stroke-width="2.5"/>
<line x1="934.2" y1="80.5" x2="934.2" y2="90.0" stroke="#555555" stroke-width="2.5"/>
<line x1="985.8" y1="568.3" x2="985.8" y2="563.3" stroke="#555555" stroke-width="2.5"/>
<line x1="985.8" y1="80.5" x2="985.8" y2="85.5" stroke="#555555" stroke-width="2.5"/>
<line x1="1037.4" y1="568.3" x2="1037.4" y2="558.8" stroke="#555555" stroke-width="2.5"/>
<line x1="1037.4" y1="80.5" x2="1037.4" y2="90.0" stroke="#555555" stroke-width="2.5"/>
<line x1="1089.0" y1="568.3" x2="1089.0" y2="563.3" stroke="#555555" stroke-width="2.5"/>
<line x1="1089.0" y1="80.5" x2="1089.0" y2="85.5" stroke="#555555" stroke-width="2.5"/>
<line x1="1140.6" y1="568.3" x2="1140.6" y2="558.8" stroke="#555555" stroke-width="2.5"/>
<line x1="1140.6" y1="80.5" x2="1140.6" y2="90.0" stroke="#555555" stroke-width="2.5"/>
<line x1="1192.2" y1="568.3" x2="1192.2" y2="563.3" stroke="#555555" stroke-width="2.5"/>
<line x1="1192.2" y1="80.5" x2="1192.2" y2="85.5" stroke="#555555" stroke-width="2.5"/>
<line x1="1243.8" y1="568.3" x2="1243.8" y2="558.8" stroke="#555555" stroke-width="2.5"/>
<line x1="1243.8" y1="80.5" x2="1243.8" y2="90.0" stroke="#555555" stroke-width="2.5"/>
<line x1="1295.4" y1="568.3" x2="1295.4" y2="563.3" stroke="#555555" stroke-width="2.5"/>
<line x1="1295.4" y1="80.5" x2="1295.4" y2="85.5" stroke="#555555" stroke-width="2.5"/>
<line x1="1347.0" y1="568.3" x2="1347.0" y2="558.8" stroke="#555555" stroke-width="2.5"/>
<line x1="1347.0" y1="80.5" x2="1347.0" y2="90.0" stroke="#555555" stroke-width="2.5"/>
<line x1="1398.6" y1="568.3" x2="1398.6" y2="563.3" stroke="#555555" stroke-width="2.5"/>
<line x1="1398.6" y1="80.5" x2="1398.6" y2="85.5" stroke="#555555" stroke-width="2.5"/>
<line x1="1450.2" y1="568.3" x2="1450.2" y2="558.8" stroke="#555555" stroke-width="2.5"/>
<line x1="1450.2" y1="80.5" x2="1450.2" y2="90.0" stroke="#555555" stroke-width="2.5"/>
<text transform="translate(830.20,609.80) scale(1.022,1)" font-size="39" text-anchor="middle" font-weight="normal" >6520</text>
<text transform="translate(933.40,609.80) scale(1.022,1)" font-size="39" text-anchor="middle" font-weight="normal" >6530</text>
<text transform="translate(1036.60,609.80) scale(1.022,1)" font-size="39" text-anchor="middle" font-weight="normal" >6540</text>
<text transform="translate(1139.80,609.80) scale(1.022,1)" font-size="39" text-anchor="middle" font-weight="normal" >6550</text>
<text transform="translate(1243.00,609.80) scale(1.022,1)" font-size="39" text-anchor="middle" font-weight="normal" >6560</text>
<text transform="translate(1346.20,609.80) scale(1.022,1)" font-size="39" text-anchor="middle" font-weight="normal" >6570</text>
<text transform="translate(1449.40,609.80) scale(1.022,1)" font-size="39" text-anchor="middle" font-weight="normal" >6580</text>
<text transform="translate(1157.85,662.10) scale(1.016,1)" font-size="39" text-anchor="middle" font-weight="normal" >Photon energy (eV)</text>
<text transform="translate(809.00,310.60) rotate(-90) scale(1,1.022)" font-size="39.5" text-anchor="middle" >Intensity (a. u.)</text>
<g clip-path="url(#cb)">
<path d="M831.0,450.5 C834.2,450.4 843.5,450.2 850.0,450.0 C856.5,449.8 863.3,449.3 870.0,449.0 C876.7,448.7 885.0,448.3 890.0,448.0 C895.0,447.7 897.3,447.5 900.0,447.0 C902.7,446.5 904.0,445.0 906.0,445.0 C908.0,445.0 909.7,446.5 912.0,447.0 C914.3,447.5 914.3,447.2 920.0,448.0 C925.7,448.8 939.3,450.5 946.0,451.5 C952.7,452.5 953.9,453.1 960.0,454.0 C966.1,454.9 975.5,456.9 982.9,456.9 C990.3,456.8 996.2,455.3 1004.3,453.7 C1012.3,452.1 1022.2,448.6 1031.2,447.2 C1040.2,445.8 1051.8,446.5 1058.0,445.1 C1064.2,443.7 1065.1,442.2 1068.7,438.6 C1072.3,435.0 1075.8,429.1 1079.4,423.6 C1083.0,418.1 1087.3,410.0 1090.1,405.4 C1092.9,400.8 1092.3,400.6 1096.0,396.0 C1099.7,391.4 1106.7,382.3 1112.0,378.0 C1117.3,373.7 1123.3,371.7 1128.0,370.0 C1132.7,368.3 1136.0,367.7 1140.0,368.0 C1144.0,368.3 1147.7,371.2 1152.0,372.0 C1156.3,372.8 1161.3,371.3 1166.0,373.0 C1170.7,374.7 1175.0,378.5 1180.0,382.0 C1185.0,385.5 1190.7,390.3 1196.0,394.0 C1201.3,397.7 1206.7,401.2 1212.0,404.0 C1217.3,406.8 1222.2,411.0 1228.0,411.0 C1233.8,411.0 1240.5,406.5 1247.0,404.0 C1253.5,401.5 1262.3,397.8 1267.0,396.0 C1271.7,394.2 1271.7,392.8 1275.0,393.0 C1278.3,393.2 1283.0,395.5 1287.0,397.0 C1291.0,398.5 1295.3,402.0 1299.0,402.0 C1302.7,402.0 1306.3,396.7 1309.0,397.0 C1311.7,397.3 1312.7,400.5 1315.0,404.0 C1317.3,407.5 1319.7,415.7 1323.0,418.0 C1326.3,420.3 1331.0,416.7 1335.0,418.0 C1339.0,419.3 1343.5,423.7 1347.0,426.0 C1350.5,428.3 1352.7,433.3 1356.0,432.0 C1359.3,430.7 1362.5,419.3 1367.0,418.0 C1371.5,416.7 1378.0,422.3 1383.0,424.0 C1388.0,425.7 1391.7,425.7 1397.0,428.0 C1402.3,430.3 1410.0,434.3 1415.0,438.0 C1420.0,441.7 1423.7,445.7 1427.0,450.0 C1430.3,454.3 1432.8,460.7 1435.0,464.0 C1437.2,467.3 1439.2,469.0 1440.0,470.0" fill="none" stroke="#000000" stroke-width="4.2" stroke-linejoin="round" stroke-linecap="round" />
<path d="M831.0,455.0 C842.5,455.0 881.8,455.0 900.0,455.0 C918.2,455.0 928.0,455.4 940.0,454.8 C952.0,454.2 963.3,453.2 972.2,451.6 C981.1,450.0 985.6,447.6 993.6,445.1 C1001.6,442.6 1014.3,437.9 1020.4,436.5 C1026.5,435.1 1026.8,436.5 1030.0,437.0 C1033.2,437.5 1036.8,439.8 1039.7,439.7 C1042.6,439.6 1045.1,438.5 1047.2,436.5 C1049.3,434.5 1050.8,432.3 1052.6,427.9 C1054.4,423.5 1056.1,418.0 1058.0,410.0 C1059.9,402.0 1062.2,389.0 1064.0,380.0 C1065.8,371.0 1067.2,363.3 1068.5,356.0 C1069.8,348.7 1070.8,342.7 1072.0,336.0 C1073.2,329.3 1074.8,322.3 1076.0,316.0 C1077.2,309.7 1078.2,307.3 1079.5,298.0 C1080.8,288.7 1082.6,273.0 1084.0,260.0 C1085.4,247.0 1086.7,232.0 1088.0,220.0 C1089.3,208.0 1090.7,198.0 1092.0,188.0 C1093.3,178.0 1094.3,168.8 1096.0,160.0 C1097.7,151.2 1100.0,141.0 1102.0,135.0 C1104.0,129.0 1106.3,125.2 1108.0,124.0 C1109.7,122.8 1110.3,124.7 1112.0,128.0 C1113.7,131.3 1116.0,137.0 1118.0,144.0 C1120.0,151.0 1122.0,160.7 1124.0,170.0 C1126.0,179.3 1128.3,190.0 1130.0,200.0 C1131.7,210.0 1132.3,218.3 1134.0,230.0 C1135.7,241.7 1138.3,258.3 1140.0,270.0 C1141.7,281.7 1142.5,287.5 1144.0,300.0 C1145.5,312.5 1147.7,331.7 1149.0,345.0 C1150.3,358.3 1150.2,365.8 1152.0,380.0 C1153.8,394.2 1157.0,413.3 1160.0,430.0 C1163.0,446.7 1166.7,466.7 1170.0,480.0 C1173.3,493.3 1176.7,502.7 1180.0,510.0 C1183.3,517.3 1186.0,521.8 1190.0,524.0 C1194.0,526.2 1199.7,524.5 1204.0,523.0 C1208.3,521.5 1210.7,517.2 1216.0,515.0 C1221.3,512.8 1230.3,512.5 1236.0,510.0 C1241.7,507.5 1246.5,502.7 1250.0,500.0 C1253.5,497.3 1252.5,498.0 1257.0,494.0 C1261.5,490.0 1270.3,481.0 1277.0,476.0 C1283.7,471.0 1290.3,465.3 1297.0,464.0 C1303.7,462.7 1310.3,465.3 1317.0,468.0 C1323.7,470.7 1330.3,476.8 1337.0,480.0 C1343.7,483.2 1350.3,487.0 1357.0,487.0 C1363.7,487.0 1370.3,483.2 1377.0,480.0 C1383.7,476.8 1390.3,472.3 1397.0,468.0 C1403.7,463.7 1412.0,457.0 1417.0,454.0 C1422.0,451.0 1424.0,452.5 1427.0,450.0 C1430.0,447.5 1432.7,440.5 1435.0,439.0 C1437.3,437.5 1438.7,440.5 1441.0,441.0 C1443.3,441.5 1447.7,441.8 1449.0,442.0" fill="none" stroke="#ff0000" stroke-width="4.2" stroke-linejoin="round" stroke-linecap="round" />
<path d="M831.0,454.5 C842.5,454.4 881.8,454.4 900.0,454.0 C918.2,453.6 928.0,453.8 940.0,452.0 C952.0,450.2 963.1,447.1 972.0,443.5 C980.9,439.9 987.3,434.6 993.6,430.5 C999.9,426.4 1005.2,422.2 1009.7,418.8 C1014.2,415.4 1016.8,412.3 1020.4,410.2 C1024.0,408.1 1027.6,406.9 1031.2,406.0 C1034.8,405.1 1038.3,405.2 1041.9,404.6 C1045.5,404.0 1049.0,403.5 1052.6,402.4 C1056.2,401.3 1059.8,400.2 1063.4,398.0 C1067.0,395.8 1070.4,394.0 1074.0,389.3 C1077.6,384.6 1081.8,376.6 1084.8,370.0 C1087.8,363.4 1090.5,354.2 1092.0,350.0 C1093.5,345.8 1092.0,349.3 1094.0,345.0 C1096.0,340.7 1101.0,328.3 1104.0,324.0 C1107.0,319.7 1109.2,320.3 1112.0,319.0 C1114.8,317.7 1118.3,314.8 1121.0,316.0 C1123.7,317.2 1125.2,323.0 1128.0,326.0 C1130.8,329.0 1135.3,330.8 1138.0,334.0 C1140.7,337.2 1141.7,339.7 1144.0,345.0 C1146.3,350.3 1147.7,359.2 1152.0,366.0 C1156.3,372.8 1163.7,377.7 1170.0,386.0 C1176.3,394.3 1183.3,406.7 1190.0,416.0 C1196.7,425.3 1203.3,434.7 1210.0,442.0 C1216.7,449.3 1223.3,456.0 1230.0,460.0 C1236.7,464.0 1243.8,465.2 1250.0,466.0 C1256.2,466.8 1260.8,465.5 1267.0,465.0 C1273.2,464.5 1277.0,464.0 1287.0,463.0 C1297.0,462.0 1315.3,460.2 1327.0,459.0 C1338.7,457.8 1347.0,455.5 1357.0,456.0 C1367.0,456.5 1377.0,460.3 1387.0,462.0 C1397.0,463.7 1409.3,464.7 1417.0,466.0 C1424.7,467.3 1427.7,469.7 1433.0,470.0 C1438.3,470.3 1446.3,468.3 1449.0,468.0" fill="none" stroke="#0000ff" stroke-width="4.2" stroke-linejoin="round" stroke-linecap="round" />
<path d="M831.0,454.0 C842.5,453.9 881.8,453.9 900.0,453.5 C918.2,453.1 928.0,453.2 940.0,451.5 C952.0,449.8 963.1,446.6 972.0,443.0 C980.9,439.4 987.3,434.1 993.6,430.0 C999.9,425.9 1005.3,421.9 1009.7,418.3 C1014.1,414.7 1016.6,413.6 1020.0,408.5 C1023.4,403.4 1026.7,394.9 1030.0,388.0 C1033.3,381.1 1037.0,374.2 1040.0,367.0 C1043.0,359.8 1045.7,351.8 1048.0,345.0 C1050.3,338.2 1052.0,332.5 1054.0,326.0 C1056.0,319.5 1057.7,312.7 1060.0,306.0 C1062.3,299.3 1064.7,291.7 1068.0,286.0 C1071.3,280.3 1076.0,272.3 1080.0,272.0 C1084.0,271.7 1088.7,278.7 1092.0,284.0 C1095.3,289.3 1097.3,297.3 1100.0,304.0 C1102.7,310.7 1105.8,317.2 1108.0,324.0 C1110.2,330.8 1111.7,339.7 1113.0,345.0 C1114.3,350.3 1111.5,350.2 1116.0,356.0 C1120.5,361.8 1132.7,370.3 1140.0,380.0 C1147.3,389.7 1153.3,401.3 1160.0,414.0 C1166.7,426.7 1173.3,442.7 1180.0,456.0 C1186.7,469.3 1194.0,485.3 1200.0,494.0 C1206.0,502.7 1211.0,507.0 1216.0,508.0 C1221.0,509.0 1224.8,504.7 1230.0,500.0 C1235.2,495.3 1240.8,487.0 1247.0,480.0 C1253.2,473.0 1260.3,464.0 1267.0,458.0 C1273.7,452.0 1281.0,447.5 1287.0,444.0 C1293.0,440.5 1298.0,437.3 1303.0,437.0 C1308.0,436.7 1312.0,438.5 1317.0,442.0 C1322.0,445.5 1328.0,453.3 1333.0,458.0 C1338.0,462.7 1342.3,467.3 1347.0,470.0 C1351.7,472.7 1356.0,474.3 1361.0,474.0 C1366.0,473.7 1371.0,470.3 1377.0,468.0 C1383.0,465.7 1390.3,462.0 1397.0,460.0 C1403.7,458.0 1410.3,457.0 1417.0,456.0 C1423.7,455.0 1431.7,454.7 1437.0,454.0 C1442.3,453.3 1447.0,452.3 1449.0,452.0" fill="none" stroke="#008080" stroke-width="4.2" stroke-linejoin="round" stroke-linecap="round" />
<path d="M831.0,455.0 C842.5,454.9 881.8,454.9 900.0,454.5 C918.2,454.1 928.0,454.2 940.0,452.5 C952.0,450.8 963.1,447.6 972.0,444.0 C980.9,440.4 987.3,435.1 993.6,431.0 C999.9,426.9 1005.2,422.7 1009.7,419.3 C1014.2,415.9 1016.8,412.9 1020.4,410.7 C1024.0,408.5 1028.5,407.0 1031.2,406.2 C1033.9,405.4 1033.8,404.8 1036.5,405.6 C1039.2,406.4 1043.6,408.2 1047.2,410.8 C1050.8,413.4 1054.4,417.2 1058.0,421.5 C1061.6,425.8 1065.1,432.6 1068.7,436.5 C1072.3,440.4 1075.8,444.3 1079.4,445.0 C1083.0,445.7 1087.1,444.4 1090.1,440.8 C1093.1,437.2 1095.3,428.7 1097.6,423.6 C1099.9,418.5 1100.9,417.3 1104.0,410.0 C1107.1,402.7 1112.0,390.0 1116.0,380.0 C1120.0,370.0 1125.7,355.8 1128.0,350.0 C1130.3,344.2 1128.0,350.0 1130.0,345.0 C1132.0,340.0 1137.0,325.0 1140.0,320.0 C1143.0,315.0 1145.0,315.5 1148.0,315.0 C1151.0,314.5 1154.7,314.5 1158.0,317.0 C1161.3,319.5 1165.0,325.3 1168.0,330.0 C1171.0,334.7 1174.0,341.7 1176.0,345.0 C1178.0,348.3 1177.3,345.2 1180.0,350.0 C1182.7,354.8 1187.0,367.3 1192.0,374.0 C1197.0,380.7 1205.3,386.0 1210.0,390.0 C1214.7,394.0 1215.7,393.0 1220.0,398.0 C1224.3,403.0 1231.5,413.3 1236.0,420.0 C1240.5,426.7 1243.2,432.3 1247.0,438.0 C1250.8,443.7 1254.0,449.5 1259.0,454.0 C1264.0,458.5 1269.0,462.8 1277.0,465.0 C1285.0,467.2 1297.0,467.8 1307.0,467.0 C1317.0,466.2 1327.0,462.5 1337.0,460.0 C1347.0,457.5 1358.7,453.7 1367.0,452.0 C1375.3,450.3 1380.3,449.7 1387.0,450.0 C1393.7,450.3 1400.3,451.7 1407.0,454.0 C1413.7,456.3 1422.3,461.7 1427.0,464.0 C1431.7,466.3 1431.3,467.7 1435.0,468.0 C1438.7,468.3 1446.7,466.3 1449.0,466.0" fill="none" stroke="#ff00ff" stroke-width="4.2" stroke-linejoin="round" stroke-linecap="round" />
<path d="M831.0,453.5 C842.5,453.4 881.8,453.4 900.0,453.0 C918.2,452.6 928.0,452.8 940.0,451.0 C952.0,449.2 963.1,446.1 972.0,442.5 C980.9,438.9 987.3,433.6 993.6,429.5 C999.9,425.4 1005.2,421.2 1009.7,417.8 C1014.2,414.4 1016.8,411.4 1020.4,409.2 C1024.0,407.0 1028.0,405.9 1031.2,404.5 C1034.4,403.1 1037.0,403.5 1039.7,401.0 C1042.4,398.5 1044.5,392.5 1047.2,389.3 C1049.9,386.1 1052.6,385.4 1055.8,381.8 C1059.0,378.2 1063.8,372.6 1066.5,368.0 C1069.2,363.4 1070.8,357.8 1072.0,354.0 C1073.2,350.2 1072.3,349.0 1074.0,345.0 C1075.7,341.0 1079.7,334.8 1082.0,330.0 C1084.3,325.2 1086.2,319.0 1088.0,316.0 C1089.8,313.0 1091.3,311.5 1093.0,312.0 C1094.7,312.5 1096.2,318.3 1098.0,319.0 C1099.8,319.7 1101.7,314.8 1104.0,316.0 C1106.3,317.2 1109.3,321.7 1112.0,326.0 C1114.7,330.3 1118.0,337.3 1120.0,342.0 C1122.0,346.7 1120.7,346.7 1124.0,354.0 C1127.3,361.3 1134.7,377.3 1140.0,386.0 C1145.3,394.7 1149.3,400.0 1156.0,406.0 C1162.7,412.0 1172.7,418.7 1180.0,422.0 C1187.3,425.3 1194.0,423.3 1200.0,426.0 C1206.0,428.7 1211.0,432.7 1216.0,438.0 C1221.0,443.3 1225.0,451.7 1230.0,458.0 C1235.0,464.3 1241.5,472.0 1246.0,476.0 C1250.5,480.0 1251.8,482.7 1257.0,482.0 C1262.2,481.3 1270.3,476.3 1277.0,472.0 C1283.7,467.7 1290.3,459.5 1297.0,456.0 C1303.7,452.5 1310.3,451.0 1317.0,451.0 C1323.7,451.0 1328.7,454.2 1337.0,456.0 C1345.3,457.8 1357.0,461.0 1367.0,462.0 C1377.0,463.0 1388.7,462.3 1397.0,462.0 C1405.3,461.7 1411.0,458.7 1417.0,460.0 C1423.0,461.3 1427.7,469.8 1433.0,470.0 C1438.3,470.2 1446.3,462.5 1449.0,461.0" fill="none" stroke="#808000" stroke-width="4.2" stroke-linejoin="round" stroke-linecap="round" />
</g>
<path d="M834,117.2 L889.5,117.2" fill="none" stroke="#000000" stroke-width="4.3" stroke-linejoin="round" stroke-linecap="round" />
<text transform="translate(896.00,125.30) scale(1.0,1)" font-size="30.5" text-anchor="start" font-weight="bold" >MWA</text>
<path d="M834,155 L889.5,155" fill="none" stroke="#ff0000" stroke-width="4.3" stroke-linejoin="round" stroke-linecap="round" />
<text transform="translate(896.00,163.00) scale(1.0,1)" font-size="30.5" text-anchor="start" font-weight="bold" >MWB</text>
<path d="M834,192 L889.5,192" fill="none" stroke="#0000ff" stroke-width="4.3" stroke-linejoin="round" stroke-linecap="round" />
<text transform="translate(896.00,200.50) scale(1.0,1)" font-size="30.5" text-anchor="start" font-weight="bold" >Mn<tspan font-size='19.5' dy='8.8'>2</tspan><tspan dy='-8.8' dx='-1.2'>O</tspan><tspan font-size='19.5' dy='8.8' dx='-0.8'>3</tspan></text>
<path d="M834,237 L889.5,237" fill="none" stroke="#008080" stroke-width="4.3" stroke-linejoin="round" stroke-linecap="round" />
<text transform="translate(896.00,245.50) scale(1.0,1)" font-size="30.5" text-anchor="start" font-weight="bold" >MnO</text>
<path d="M834,274.5 L889.5,274.5" fill="none" stroke="#ff00ff" stroke-width="4.3" stroke-linejoin="round" stroke-linecap="round" />
<text transform="translate(896.00,283.00) scale(1.0,1)" font-size="30.5" text-anchor="start" font-weight="bold" >MnO<tspan font-size='19.5' dy='8.8' dx='-0.8'>2</tspan></text>
<path d="M834,319.5 L889.5,319.5" fill="none" stroke="#808000" stroke-width="4.3" stroke-linejoin="round" stroke-linecap="round" />
<text transform="translate(896.00,328.00) scale(1.0,1)" font-size="30.5" text-anchor="start" font-weight="bold" >Mn<tspan font-size='19.5' dy='8.8'>3</tspan><tspan dy='-8.8' dx='-1.2'>O</tspan><tspan font-size='19.5' dy='8.8' dx='-0.8'>4</tspan></text>
<path d="M93.5,730.5 L93.5,1224" stroke="#7a7a7a" stroke-width="2.8" fill="none"/>
<path d="M703.5,730.5 L703.5,1224" stroke="#5e5e5e" stroke-width="2.8" fill="none"/>
<path d="M93.5,730.5 L703.5,730.5" stroke="#555" stroke-width="2.8" fill="none" stroke-linecap="round"/>
<path d="M93.5,1224 L703.5,1224" stroke="#555" stroke-width="2.8" fill="none" stroke-linecap="round"/>
<line x1="93.8" y1="1224.0" x2="93.8" y2="1215.5" stroke="#555555" stroke-width="2.5"/>
<line x1="93.8" y1="730.5" x2="93.8" y2="739.0" stroke="#555555" stroke-width="2.5"/>
<line x1="154.8" y1="1224.0" x2="154.8" y2="1220.0" stroke="#555555" stroke-width="2.5"/>
<line x1="154.8" y1="730.5" x2="154.8" y2="734.5" stroke="#555555" stroke-width="2.5"/>
<line x1="215.9" y1="1224.0" x2="215.9" y2="1215.5" stroke="#555555" stroke-width="2.5"/>
<line x1="215.9" y1="730.5" x2="215.9" y2="739.0" stroke="#555555" stroke-width="2.5"/>
<line x1="277.1" y1="1224.0" x2="277.1" y2="1220.0" stroke="#555555" stroke-width="2.5"/>
<line x1="277.1" y1="730.5" x2="277.1" y2="734.5" stroke="#555555" stroke-width="2.5"/>
<line x1="338.1" y1="1224.0" x2="338.1" y2="1215.5" stroke="#555555" stroke-width="2.5"/>
<line x1="338.1" y1="730.5" x2="338.1" y2="739.0" stroke="#555555" stroke-width="2.5"/>
<line x1="399.2" y1="1224.0" x2="399.2" y2="1220.0" stroke="#555555" stroke-width="2.5"/>
<line x1="399.2" y1="730.5" x2="399.2" y2="734.5" stroke="#555555" stroke-width="2.5"/>
<line x1="460.4" y1="1224.0" x2="460.4" y2="1215.5" stroke="#555555" stroke-width="2.5"/>
<line x1="460.4" y1="730.5" x2="460.4" y2="739.0" stroke="#555555" stroke-width="2.5"/>
<line x1="521.5" y1="1224.0" x2="521.5" y2="1220.0" stroke="#555555" stroke-width="2.5"/>
<line x1="521.5" y1="730.5" x2="521.5" y2="734.5" stroke="#555555" stroke-width="2.5"/>
<line x1="582.5" y1="1224.0" x2="582.5" y2="1215.5" stroke="#555555" stroke-width="2.5"/>
<line x1="582.5" y1="730.5" x2="582.5" y2="739.0" stroke="#555555" stroke-width="2.5"/>
<line x1="643.6" y1="1224.0" x2="643.6" y2="1220.0" stroke="#555555" stroke-width="2.5"/>
<line x1="643.6" y1="730.5" x2="643.6" y2="734.5" stroke="#555555" stroke-width="2.5"/>
<line x1="704.8" y1="1224.0" x2="704.8" y2="1215.5" stroke="#555555" stroke-width="2.5"/>
<line x1="704.8" y1="730.5" x2="704.8" y2="739.0" stroke="#555555" stroke-width="2.5"/>
<text transform="translate(92.95,1266.50) scale(1.022,1)" font-size="39" text-anchor="middle" font-weight="normal" >6520</text>
<text transform="translate(215.15,1266.50) scale(1.022,1)" font-size="39" text-anchor="middle" font-weight="normal" >6540</text>
<text transform="translate(337.35,1266.50) scale(1.022,1)" font-size="39" text-anchor="middle" font-weight="normal" >6560</text>
<text transform="translate(459.55,1266.50) scale(1.022,1)" font-size="39" text-anchor="middle" font-weight="normal" >6580</text>
<text transform="translate(581.75,1266.50) scale(1.022,1)" font-size="39" text-anchor="middle" font-weight="normal" >6600</text>
<text transform="translate(703.95,1266.50) scale(1.022,1)" font-size="39" text-anchor="middle" font-weight="normal" >6620</text>
<text transform="translate(398.60,1313.50) scale(0.998,1)" font-size="39" text-anchor="middle" font-weight="normal" >Photon Energy (eV)</text>
<text transform="translate(71.70,979.55) rotate(-90) scale(1,1.022)" font-size="39.8" text-anchor="middle" >Intensity (a. u.)</text>
<g clip-path="url(#cc)">
<path d="M90.0,1120.8 L92.5,1120.1 L95.0,1119.4 L97.5,1118.7 L99.9,1118.1 L102.4,1117.5 L104.8,1116.9 L107.3,1116.3 L109.8,1115.8 L112.2,1115.3 L114.7,1114.9 L117.1,1114.4 L119.6,1114.0 L122.0,1113.6 L124.5,1113.2 L127.0,1112.9 L129.4,1112.6 L131.9,1112.2 L134.3,1111.9 L136.8,1111.7 L139.2,1111.4 L141.7,1111.1 L144.1,1110.9 L146.6,1110.6 L149.1,1110.4 L151.5,1110.2 L154.0,1110.0 L156.4,1109.8 L158.9,1109.5 L161.4,1109.3 L163.9,1109.1 L166.3,1108.9 L168.8,1108.7 L171.3,1108.5 L173.8,1108.3 L176.3,1108.1 L178.8,1107.8 L181.3,1107.6 L183.8,1107.4 L186.3,1107.1 L188.8,1106.8 L191.3,1106.6 L193.9,1106.3 L196.4,1106.0 L198.9,1105.6 L201.4,1105.3 L204.0,1104.9 L206.5,1104.5 L209.0,1104.0 L211.5,1103.6 L213.9,1103.0 L216.4,1102.5 L218.8,1101.9 L221.2,1101.2 L223.6,1100.5 L225.9,1099.8 L228.2,1099.0 L230.5,1098.1 L232.7,1097.2 L234.8,1096.2 L237.0,1095.1 L239.0,1094.0 L241.1,1092.7 L243.0,1091.4 L244.9,1090.1 L246.8,1088.6 L248.5,1087.1 L250.2,1085.4 L251.9,1083.7 L253.4,1081.9 L254.9,1080.0 L256.4,1078.1 L257.8,1076.0 L259.1,1073.9 L260.4,1071.8 L261.6,1069.6 L262.7,1067.3 L263.9,1065.0 L264.9,1062.7 L265.9,1060.3 L266.9,1057.9 L267.9,1055.4 L268.8,1053.0 L269.6,1050.5 L270.4,1048.0 L271.2,1045.5 L272.0,1043.0 L272.7,1040.5 L273.4,1037.9 L274.1,1035.4 L274.7,1033.0 L275.4,1030.5 L276.0,1028.0 L276.6,1025.5 L277.2,1023.1 L277.8,1020.6 L278.4,1018.2 L278.9,1015.8 L279.5,1013.3 L280.1,1010.9 L280.7,1008.5 L281.3,1006.1 L282.0,1003.8 L282.6,1001.4 L283.3,999.0 L283.9,996.7 L284.7,994.4 L285.4,992.1 L286.2,989.8 L287.0,987.5 L287.8,985.2 L288.7,983.0 L289.6,980.7 L290.6,978.5 L291.6,976.3 L292.7,974.1 L293.8,971.9 L294.9,969.7 L296.1,967.6 L297.4,965.5 L298.7,963.3 L300.0,961.2 L301.3,959.1 L302.7,957.0 L304.1,955.0 L305.5,952.9 L306.9,950.8 L308.4,948.8 L309.9,946.7 L311.4,944.7 L312.9,942.6 L314.4,940.6 L315.9,938.6 L317.4,936.6 L318.9,934.6 L320.4,932.5 L321.9,930.5 L323.4,928.5 L324.9,926.5 L326.5,924.5 L328.0,922.5 L329.5,920.5 L331.0,918.5 L332.5,916.5 L334.0,914.5 L335.5,912.5 L336.9,910.5 L338.4,908.5 L339.9,906.5 L341.4,904.5 L342.8,902.4 L344.3,900.4 L345.7,898.4 L347.2,896.4 L348.6,894.3 L350.0,892.3 L351.4,890.2 L352.8,888.2 L354.2,886.1 L355.6,884.1 L356.9,882.0 L358.3,879.9 L359.6,877.8 L361.0,875.7 L362.3,873.6 L363.6,871.5 L364.8,869.4 L366.1,867.3 L367.4,865.1 L368.6,863.0 L369.8,860.8 L371.1,858.7 L372.3,856.5 L373.5,854.3 L374.8,852.2 L376.1,850.1 L377.3,847.9 L378.6,845.8 L380.0,843.7 L381.3,841.7 L382.7,839.6 L384.1,837.6 L385.6,835.6 L387.1,833.6 L388.7,831.7 L390.3,829.8 L392.0,828.0 L393.7,826.1 L395.5,824.3 L397.3,822.6 L399.1,820.9 L401.0,819.2 L403.0,817.5 L404.9,815.9 L406.9,814.3 L409.0,812.8 L411.0,811.3 L413.1,809.8 L415.2,808.3 L417.3,806.9 L419.4,805.5 L421.6,804.1 L423.7,802.8 L425.9,801.5 L428.1,800.3 L430.3,799.1 L432.5,798.0 L434.7,797.1 L436.9,796.2 L439.2,795.5 L441.4,794.9 L443.7,794.4 L446.0,794.1 L448.3,793.9 L450.6,793.9 L452.9,794.0 L455.2,794.2 L457.5,794.6 L459.8,795.1 L462.1,795.7 L464.3,796.4 L466.6,797.2 L468.8,798.1 L471.0,799.2 L473.2,800.3 L475.4,801.4 L477.6,802.7 L479.8,804.0 L481.9,805.4 L484.1,806.8 L486.2,808.2 L488.4,809.7 L490.5,811.2 L492.7,812.7 L494.8,814.2 L496.9,815.7 L499.0,817.2 L501.2,818.7 L503.3,820.2 L505.4,821.6 L507.6,823.1 L509.7,824.5 L511.8,825.9 L514.0,827.2 L516.1,828.6 L518.3,829.9 L520.4,831.2 L522.6,832.4 L524.8,833.6 L527.0,834.8 L529.2,836.0 L531.4,837.1 L533.6,838.2 L535.8,839.2 L538.0,840.2 L540.3,841.1 L542.5,842.0 L544.8,842.9 L547.1,843.7 L549.4,844.4 L551.8,845.1 L554.1,845.7 L556.5,846.3 L558.9,846.8 L561.3,847.3 L563.7,847.7 L566.1,848.1 L568.6,848.4 L571.0,848.7 L573.5,848.9 L576.0,849.1 L578.5,849.2 L581.0,849.3 L583.5,849.3 L586.0,849.3 L588.5,849.3 L591.1,849.3 L593.6,849.2 L596.1,849.0 L598.6,848.9 L601.1,848.7 L603.7,848.5 L606.2,848.3 L608.7,848.0 L611.2,847.8 L613.7,847.5 L616.2,847.2 L618.6,846.9 L621.1,846.6 L623.6,846.2 L626.1,845.9 L628.6,845.5 L631.0,845.2 L633.5,844.8 L636.0,844.5 L638.4,844.1 L640.9,843.7 L643.4,843.4 L645.8,843.0 L648.3,842.7 L650.7,842.4 L653.2,842.0 L655.7,841.7 L658.1,841.4 L660.6,841.2 L663.1,840.9 L665.5,840.7 L668.0,840.5 L670.5,840.3 L673.0,840.1 L675.4,840.0 L677.9,839.9 L680.4,839.8 L682.9,839.8 L685.4,839.8 L687.9,839.8 L690.4,839.9 L692.9,840.0 L695.5,840.1 L698.0,840.3 L700.5,840.6 L703.0,840.8 L705.6,841.2 L708.1,841.6" fill="none" stroke="#000000" stroke-width="12" stroke-linejoin="round" stroke-linecap="butt" />
<path d="M90.0,1120.1 L92.5,1120.0 L95.0,1119.9 L97.5,1119.8 L100.0,1119.7 L102.5,1119.6 L105.0,1119.5 L107.5,1119.4 L110.0,1119.4 L112.4,1119.3 L114.9,1119.3 L117.4,1119.2 L119.9,1119.2 L122.4,1119.1 L124.9,1119.1 L127.4,1119.0 L129.9,1119.0 L132.4,1119.0 L134.9,1118.9 L137.4,1118.9 L139.9,1118.8 L142.4,1118.8 L144.9,1118.8 L147.4,1118.7 L149.9,1118.7 L152.4,1118.6 L154.9,1118.6 L157.5,1118.5 L160.0,1118.4 L162.5,1118.3 L165.0,1118.1 L167.5,1117.9 L170.0,1117.7 L172.4,1117.4 L174.9,1117.1 L177.3,1116.7 L179.7,1116.3 L182.1,1115.7 L184.4,1115.1 L186.7,1114.4 L189.0,1113.7 L191.2,1112.8 L193.4,1111.8 L195.6,1110.8 L197.7,1109.6 L199.8,1108.4 L201.9,1107.1 L203.9,1105.7 L205.9,1104.3 L207.9,1102.8 L209.9,1101.3 L211.9,1099.7 L213.9,1098.2 L215.9,1096.6 L217.9,1095.1 L220.0,1093.5 L222.0,1092.0 L224.1,1090.5 L226.2,1089.0 L228.3,1087.6 L230.4,1086.2 L232.6,1084.9 L234.9,1083.7 L237.1,1082.5 L239.4,1081.3 L241.6,1080.1 L243.8,1078.9 L245.9,1077.7 L248.0,1076.4 L250.1,1075.1 L252.0,1073.7 L253.9,1072.2 L255.6,1070.6 L257.2,1068.8 L258.7,1067.0 L260.1,1065.1 L261.4,1063.0 L262.6,1060.9 L263.7,1058.8 L264.8,1056.6 L265.9,1054.3 L266.9,1052.1 L268.0,1049.8 L268.9,1047.6 L269.9,1045.3 L270.8,1043.0 L271.7,1040.6 L272.6,1038.3 L273.5,1036.0 L274.4,1033.6 L275.2,1031.2 L276.1,1028.9 L276.9,1026.5 L277.7,1024.1 L278.5,1021.7 L279.3,1019.3 L280.1,1016.9 L280.9,1014.5 L281.7,1012.1 L282.5,1009.7 L283.3,1007.3 L284.1,1004.9 L284.9,1002.6 L285.8,1000.2 L286.6,997.8 L287.4,995.4 L288.3,993.1 L289.2,990.7 L290.1,988.4 L291.0,986.1 L291.9,983.7 L292.9,981.4 L293.8,979.2 L294.8,976.9 L295.9,974.6 L296.9,972.4 L298.0,970.2 L299.2,968.0 L300.3,965.8 L301.5,963.7 L302.8,961.6 L304.0,959.5 L305.3,957.4 L306.7,955.4 L308.1,953.3 L309.6,951.4 L311.0,949.4 L312.6,947.5 L314.1,945.5 L315.7,943.6 L317.3,941.8 L319.0,939.9 L320.6,938.0 L322.3,936.2 L324.0,934.4 L325.7,932.5 L327.4,930.7 L329.1,928.9 L330.9,927.1 L332.6,925.3 L334.3,923.5 L336.0,921.6 L337.8,919.8 L339.5,918.0 L341.2,916.1 L342.8,914.3 L344.5,912.4 L346.1,910.6 L347.7,908.7 L349.3,906.7 L350.9,904.8 L352.4,902.8 L353.8,900.9 L355.3,898.8 L356.7,896.8 L358.0,894.7 L359.3,892.6 L360.6,890.5 L361.8,888.3 L362.9,886.1 L364.0,883.9 L365.0,881.6 L366.0,879.3 L367.0,877.0 L368.0,874.7 L368.9,872.3 L369.9,870.0 L370.9,867.6 L371.8,865.3 L372.8,862.9 L373.8,860.6 L374.9,858.3 L376.0,856.0 L377.1,853.7 L378.3,851.5 L379.6,849.3 L381.0,847.1 L382.4,845.0 L383.9,843.0 L385.5,841.0 L387.2,839.2 L388.9,837.5 L390.7,836.0 L392.6,834.6 L394.5,833.5 L396.5,832.6 L398.6,832.0 L400.7,831.6 L402.8,831.6 L405.0,831.7 L407.3,832.1 L409.5,832.6 L411.8,833.3 L414.0,834.1 L416.3,834.9 L418.6,835.8 L420.8,836.7 L423.0,837.7 L425.3,838.7 L427.5,839.8 L429.7,840.9 L431.9,842.0 L434.2,843.2 L436.4,844.4 L438.6,845.6 L440.8,846.9 L443.0,848.2 L445.2,849.5 L447.4,850.8 L449.6,852.2 L451.8,853.5 L454.0,854.9 L456.2,856.2 L458.4,857.6 L460.6,858.9 L462.8,860.3 L465.0,861.7 L467.2,863.0 L469.4,864.3 L471.7,865.6 L473.9,866.9 L476.1,868.2 L478.3,869.4 L480.6,870.6 L482.8,871.8 L485.1,873.0 L487.3,874.1 L489.6,875.2 L491.8,876.2 L494.1,877.2 L496.4,878.1 L498.7,879.0 L501.0,879.8 L503.3,880.6 L505.6,881.3 L508.0,882.0 L510.3,882.5 L512.7,883.1 L515.0,883.5 L517.4,883.9 L519.8,884.3 L522.2,884.5 L524.6,884.7 L527.0,884.9 L529.4,885.0 L531.9,885.1 L534.3,885.1 L536.7,885.1 L539.2,885.0 L541.6,884.9 L544.1,884.7 L546.5,884.5 L549.0,884.2 L551.4,883.9 L553.9,883.6 L556.4,883.2 L558.8,882.8 L561.3,882.4 L563.8,881.9 L566.2,881.5 L568.7,880.9 L571.2,880.4 L573.7,879.8 L576.1,879.3 L578.6,878.6 L581.1,878.0 L583.5,877.4 L586.0,876.7 L588.4,876.0 L590.9,875.4 L593.3,874.7 L595.8,874.0 L598.2,873.2 L600.7,872.5 L603.1,871.8 L605.5,871.1 L607.9,870.4 L610.3,869.6 L612.7,868.9 L615.1,868.2 L617.5,867.5 L619.9,866.7 L622.3,866.0 L624.6,865.3 L627.0,864.7 L629.4,864.0 L631.8,863.3 L634.1,862.7 L636.5,862.1 L638.9,861.4 L641.3,860.8 L643.7,860.3 L646.0,859.7 L648.4,859.2 L650.8,858.7 L653.2,858.2 L655.6,857.8 L658.0,857.4 L660.4,857.0 L662.9,856.6 L665.3,856.3 L667.7,856.0 L670.2,855.7 L672.6,855.5 L675.1,855.4 L677.6,855.2 L680.1,855.1 L682.6,855.1 L685.1,855.1 L687.7,855.1 L690.2,855.2 L692.8,855.3 L695.3,855.5 L697.9,855.8 L700.6,856.1 L703.2,856.4 L705.8,856.8 L708.5,857.3" fill="none" stroke="#ff0000" stroke-width="12" stroke-linejoin="round" stroke-linecap="butt" />
<path d="M90.4,1121.4 L92.7,1121.3 L95.0,1121.3 L97.4,1121.4 L99.7,1121.5 L102.1,1121.7 L104.6,1121.9 L107.0,1122.1 L109.4,1122.3 L111.9,1122.6 L114.4,1122.9 L116.9,1123.3 L119.4,1123.6 L121.9,1123.9 L124.4,1124.3 L127.0,1124.7 L129.5,1125.0 L132.0,1125.4 L134.6,1125.8 L137.1,1126.1 L139.7,1126.4 L142.2,1126.8 L144.8,1127.1 L147.3,1127.3 L149.9,1127.6 L152.4,1127.8 L154.9,1128.0 L157.5,1128.1 L160.0,1128.2 L162.5,1128.2 L165.0,1128.2 L167.5,1128.2 L169.9,1128.0 L172.4,1127.8 L174.8,1127.6 L177.2,1127.3 L179.6,1126.9 L182.0,1126.4 L184.4,1125.9 L186.7,1125.2 L189.0,1124.5 L191.3,1123.7 L193.6,1122.8 L195.8,1121.8 L198.0,1120.8 L200.2,1119.7 L202.4,1118.5 L204.6,1117.3 L206.8,1116.1 L209.0,1114.8 L211.1,1113.6 L213.3,1112.3 L215.5,1111.0 L217.7,1109.8 L219.9,1108.6 L222.1,1107.4 L224.3,1106.3 L226.5,1105.2 L228.7,1104.2 L231.0,1103.3 L233.2,1102.7 L235.4,1102.2 L237.5,1102.1 L239.6,1102.4 L241.5,1103.1 L243.3,1104.3 L245.1,1105.9 L246.8,1107.8 L248.4,1110.0 L250.0,1112.3 L251.5,1114.7 L253.1,1117.0 L254.7,1119.3 L256.4,1121.4 L258.1,1123.4 L259.8,1125.3 L261.6,1127.0 L263.4,1128.5 L265.3,1129.9 L267.2,1131.1 L269.2,1132.2 L271.3,1133.1 L273.3,1133.8 L275.5,1134.4 L277.7,1134.7 L279.9,1134.9 L282.2,1134.9 L284.6,1134.6 L287.1,1134.2 L289.6,1133.5 L292.1,1132.7 L294.7,1131.9 L297.3,1131.0 L299.9,1130.2 L302.4,1129.5 L305.0,1129.1 L307.4,1128.8 L309.9,1128.8 L312.3,1128.9 L314.6,1129.2 L317.0,1129.6 L319.4,1130.2 L321.7,1130.8 L324.1,1131.6 L326.5,1132.3 L328.9,1133.1 L331.3,1134.0 L333.7,1134.8 L336.1,1135.6 L338.5,1136.3 L340.9,1137.0 L343.3,1137.5 L345.6,1137.9 L348.0,1138.2 L350.3,1138.4 L352.7,1138.3 L355.0,1138.1 L357.2,1137.6 L359.5,1136.8 L361.7,1135.8 L363.9,1134.6 L366.1,1133.0 L368.2,1131.4 L370.4,1129.6 L372.4,1127.7 L374.5,1125.9 L376.6,1124.1 L378.6,1122.5 L380.7,1121.1 L382.7,1119.9 L384.7,1119.0 L386.7,1118.5 L388.7,1118.4 L390.7,1118.8 L392.7,1119.5 L394.7,1120.6 L396.6,1122.0 L398.5,1123.6 L400.4,1125.4 L402.2,1127.2 L404.0,1129.2 L405.7,1131.2 L407.3,1133.1 L408.9,1135.0 L410.5,1137.0 L412.0,1139.0 L413.5,1140.9 L414.9,1143.0 L416.3,1145.0 L417.8,1147.1 L419.2,1149.2 L420.6,1151.3 L422.0,1153.5 L423.5,1155.6 L425.0,1157.8 L426.5,1159.9 L428.1,1162.0 L429.7,1164.0 L431.3,1165.9 L433.1,1167.7 L434.9,1169.4 L436.7,1171.0 L438.7,1172.4 L440.8,1173.7 L442.9,1174.8 L445.2,1175.8 L447.4,1176.6 L449.8,1177.2 L452.2,1177.8 L454.6,1178.3 L457.0,1178.7 L459.4,1179.0 L461.9,1179.2 L464.3,1179.4 L466.7,1179.5 L469.2,1179.6 L471.6,1179.6 L474.0,1179.5 L476.5,1179.4 L478.9,1179.2 L481.4,1179.0 L483.8,1178.7 L486.2,1178.4 L488.7,1178.0 L491.1,1177.6 L493.5,1177.1 L496.0,1176.6 L498.4,1176.1 L500.8,1175.5 L503.3,1174.9 L505.7,1174.3 L508.1,1173.7 L510.6,1173.0 L513.0,1172.3 L515.4,1171.5 L517.8,1170.8 L520.2,1170.0 L522.7,1169.3 L525.1,1168.5 L527.5,1167.7 L529.9,1166.9 L532.3,1166.1 L534.7,1165.2 L537.1,1164.4 L539.5,1163.6 L541.9,1162.8 L544.3,1162.0 L546.6,1161.2 L549.0,1160.4 L551.4,1159.6 L553.8,1158.8 L556.2,1158.0 L558.5,1157.2 L560.9,1156.4 L563.3,1155.7 L565.6,1154.9 L568.0,1154.1 L570.4,1153.4 L572.8,1152.7 L575.1,1151.9 L577.5,1151.2 L579.9,1150.5 L582.3,1149.8 L584.6,1149.2 L587.0,1148.5 L589.4,1147.8 L591.8,1147.2 L594.2,1146.6 L596.6,1146.0 L599.0,1145.4 L601.4,1144.8 L603.8,1144.3 L606.2,1143.7 L608.6,1143.2 L611.0,1142.7 L613.5,1142.3 L615.9,1141.8 L618.3,1141.4 L620.8,1141.0 L623.3,1140.6 L625.7,1140.2 L628.2,1139.8 L630.7,1139.5 L633.1,1139.2 L635.6,1138.9 L638.1,1138.6 L640.6,1138.4 L643.1,1138.1 L645.6,1137.9 L648.1,1137.7 L650.6,1137.5 L653.1,1137.3 L655.6,1137.1 L658.2,1136.9 L660.7,1136.7 L663.2,1136.6 L665.7,1136.4 L668.2,1136.3 L670.7,1136.1 L673.2,1136.0 L675.7,1135.8 L678.2,1135.7 L680.7,1135.6 L683.2,1135.4 L685.7,1135.3 L688.2,1135.2 L690.7,1135.0 L693.2,1134.9 L695.6,1134.8 L698.1,1134.6 L700.5,1134.5 L703.0,1134.3 L705.4,1134.1 L707.9,1134.0" fill="none" stroke="#0000ff" stroke-width="12" stroke-linejoin="round" stroke-linecap="butt" />
<path d="M89.8,1120.6 L92.3,1120.6 L94.8,1120.5 L97.4,1120.5 L99.9,1120.5 L102.4,1120.5 L104.9,1120.5 L107.5,1120.5 L110.0,1120.5 L112.5,1120.5 L115.0,1120.5 L117.5,1120.5 L120.0,1120.5 L122.5,1120.5 L125.0,1120.5 L127.5,1120.5 L130.0,1120.5 L132.5,1120.5 L135.0,1120.5 L137.5,1120.5 L140.0,1120.5 L142.5,1120.5 L145.0,1120.5 L147.4,1120.5 L149.9,1120.5 L152.4,1120.5 L154.9,1120.5 L157.4,1120.5 L159.9,1120.5 L162.3,1120.5 L164.8,1120.5 L167.3,1120.5 L169.8,1120.5 L172.3,1120.5 L174.7,1120.5 L177.2,1120.5 L179.7,1120.5 L182.2,1120.5 L184.6,1120.5 L187.1,1120.5 L189.6,1120.5 L192.1,1120.5 L194.5,1120.5 L197.0,1120.5 L199.5,1120.5 L202.0,1120.5 L204.4,1120.5 L206.9,1120.5 L209.4,1120.5 L211.9,1120.5 L214.4,1120.5 L216.8,1120.5 L219.3,1120.5 L221.8,1120.4 L224.3,1120.4 L226.8,1120.4 L229.3,1120.4 L231.8,1120.4 L234.2,1120.4 L236.7,1120.3 L239.2,1120.3 L241.7,1120.3 L244.2,1120.3 L246.7,1120.3 L249.2,1120.2 L251.7,1120.2 L254.2,1120.2 L256.7,1120.1 L259.2,1120.1 L261.7,1120.1 L264.3,1120.0 L266.8,1120.0 L269.3,1120.0 L271.8,1119.9 L274.3,1119.9 L276.9,1119.8 L279.4,1119.8 L281.9,1119.7 L284.4,1119.7 L287.0,1119.6 L289.5,1119.5 L292.1,1119.5 L294.6,1119.4 L297.2,1119.3 L299.7,1119.2 L302.2,1119.1 L304.7,1118.9 L307.2,1118.7 L309.7,1118.5 L312.2,1118.2 L314.6,1117.9 L317.1,1117.5 L319.5,1117.0 L321.8,1116.5 L324.1,1115.8 L326.4,1115.1 L328.7,1114.3 L330.9,1113.4 L333.0,1112.4 L335.1,1111.3 L337.2,1110.1 L339.2,1108.8 L341.1,1107.3 L343.0,1105.7 L344.8,1104.0 L346.6,1102.2 L348.3,1100.4 L349.9,1098.4 L351.5,1096.4 L353.0,1094.4 L354.4,1092.3 L355.8,1090.2 L357.1,1088.0 L358.3,1085.9 L359.5,1083.7 L360.6,1081.5 L361.7,1079.3 L362.7,1077.1 L363.6,1074.9 L364.5,1072.7 L365.4,1070.4 L366.3,1068.1 L367.1,1065.8 L367.9,1063.4 L368.7,1061.1 L369.5,1058.6 L370.2,1056.2 L371.0,1053.7 L371.8,1051.2 L372.6,1048.7 L373.4,1046.1 L374.2,1043.6 L375.1,1041.0 L376.0,1038.5 L377.0,1036.0 L378.0,1033.6 L379.2,1031.1 L380.4,1028.8 L381.7,1026.5 L383.1,1024.4 L384.6,1022.4 L386.1,1020.6 L387.8,1019.0 L389.5,1017.7 L391.2,1016.6 L393.1,1015.8 L395.0,1015.3 L397.0,1015.0 L399.1,1014.9 L401.2,1015.0 L403.4,1015.4 L405.6,1015.8 L407.8,1016.5 L410.1,1017.3 L412.4,1018.1 L414.8,1019.1 L417.1,1020.2 L419.5,1021.3 L421.9,1022.4 L424.3,1023.6 L426.7,1024.8 L429.1,1025.9 L431.4,1027.0 L433.8,1028.1 L436.2,1029.1 L438.5,1030.1 L440.8,1031.0 L443.1,1031.8 L445.4,1032.7 L447.8,1033.4 L450.1,1034.2 L452.4,1034.9 L454.7,1035.6 L457.0,1036.3 L459.3,1036.9 L461.6,1037.6 L463.9,1038.2 L466.3,1038.8 L468.6,1039.4 L471.0,1040.0 L473.3,1040.6 L475.7,1041.2 L478.1,1041.8 L480.5,1042.4 L482.9,1043.0 L485.3,1043.5 L487.8,1044.1 L490.2,1044.6 L492.6,1045.2 L495.1,1045.7 L497.5,1046.2 L500.0,1046.7 L502.5,1047.1 L504.9,1047.6 L507.4,1048.0 L509.9,1048.4 L512.4,1048.8 L514.9,1049.2 L517.4,1049.6 L519.9,1049.9 L522.4,1050.2 L524.9,1050.5 L527.4,1050.8 L529.9,1051.0 L532.4,1051.2 L534.8,1051.4 L537.3,1051.5 L539.8,1051.7 L542.3,1051.8 L544.8,1051.8 L547.3,1051.9 L549.8,1051.9 L552.3,1051.8 L554.7,1051.8 L557.2,1051.7 L559.7,1051.6 L562.2,1051.5 L564.6,1051.4 L567.1,1051.2 L569.6,1051.0 L572.0,1050.8 L574.5,1050.6 L577.0,1050.3 L579.4,1050.1 L581.9,1049.8 L584.3,1049.5 L586.8,1049.2 L589.3,1048.9 L591.7,1048.6 L594.2,1048.2 L596.6,1047.9 L599.1,1047.5 L601.5,1047.2 L604.0,1046.8 L606.4,1046.4 L608.9,1046.0 L611.3,1045.7 L613.8,1045.3 L616.3,1044.9 L618.7,1044.5 L621.2,1044.1 L623.6,1043.8 L626.1,1043.4 L628.5,1043.0 L631.0,1042.6 L633.4,1042.3 L635.9,1041.9 L638.4,1041.6 L640.8,1041.2 L643.3,1040.9 L645.8,1040.6 L648.2,1040.3 L650.7,1040.0 L653.2,1039.7 L655.6,1039.5 L658.1,1039.3 L660.6,1039.0 L663.1,1038.8 L665.5,1038.6 L668.0,1038.5 L670.5,1038.3 L673.0,1038.2 L675.5,1038.1 L678.0,1038.0 L680.5,1038.0 L683.0,1038.0 L685.5,1038.0 L688.0,1038.0 L690.5,1038.1 L693.0,1038.2 L695.5,1038.3 L698.1,1038.5 L700.6,1038.7 L703.1,1038.9 L705.6,1039.2 L708.2,1039.5" fill="none" stroke="#008080" stroke-width="12" stroke-linejoin="round" stroke-linecap="butt" />
<path d="M90.0,1120.0 L708.0,1120.0" fill="none" stroke="#ff00ff" stroke-width="12" stroke-linejoin="round" stroke-linecap="butt" />
<path d="M90.1,1119.6 L92.5,1119.5 L95.0,1119.4 L97.5,1119.3 L100.0,1119.2 L102.4,1119.1 L104.9,1119.1 L107.4,1119.0 L109.9,1119.0 L112.4,1119.0 L114.9,1119.0 L117.3,1119.0 L119.8,1119.0 L122.3,1119.0 L124.8,1119.0 L127.3,1119.0 L129.8,1119.1 L132.3,1119.1 L134.8,1119.1 L137.3,1119.2 L139.9,1119.2 L142.4,1119.3 L144.9,1119.3 L147.5,1119.3 L150.0,1119.4 L152.5,1119.4 L155.1,1119.4 L157.6,1119.4 L160.2,1119.3 L162.7,1119.3 L165.2,1119.2 L167.7,1119.0 L170.2,1118.8 L172.7,1118.6 L175.1,1118.3 L177.6,1117.9 L180.0,1117.5 L182.3,1116.9 L184.6,1116.3 L186.9,1115.6 L189.1,1114.8 L191.3,1113.9 L193.4,1112.8 L195.5,1111.7 L197.6,1110.5 L199.5,1109.2 L201.5,1107.7 L203.4,1106.3 L205.4,1104.8 L207.3,1103.2 L209.1,1101.6 L211.0,1099.9 L212.9,1098.3 L214.8,1096.6 L216.7,1095.0 L218.6,1093.3 L220.5,1091.7 L222.5,1090.2 L224.5,1088.6 L226.5,1087.2 L228.5,1085.7 L230.6,1084.3 L232.7,1083.0 L234.8,1081.6 L236.9,1080.3 L239.0,1079.0 L241.1,1077.7 L243.1,1076.4 L245.2,1075.0 L247.2,1073.7 L249.2,1072.3 L251.2,1070.9 L253.1,1069.5 L254.9,1068.0 L256.7,1066.4 L258.4,1064.8 L260.1,1063.2 L261.7,1061.4 L263.3,1059.7 L264.8,1057.8 L266.3,1056.0 L267.7,1054.0 L269.0,1052.1 L270.3,1050.1 L271.6,1048.0 L272.8,1045.9 L274.0,1043.8 L275.1,1041.6 L276.2,1039.4 L277.3,1037.2 L278.4,1034.9 L279.4,1032.7 L280.4,1030.3 L281.3,1028.0 L282.3,1025.7 L283.2,1023.3 L284.1,1020.9 L285.0,1018.5 L285.9,1016.1 L286.7,1013.7 L287.6,1011.2 L288.4,1008.8 L289.3,1006.4 L290.1,1003.9 L290.9,1001.5 L291.8,999.0 L292.6,996.6 L293.5,994.2 L294.3,991.7 L295.2,989.3 L296.0,986.9 L296.9,984.5 L297.8,982.2 L298.8,979.8 L299.7,977.5 L300.7,975.2 L301.7,972.9 L302.7,970.6 L303.8,968.4 L304.9,966.2 L306.0,964.0 L307.2,961.8 L308.4,959.7 L309.7,957.6 L311.0,955.5 L312.4,953.5 L313.8,951.5 L315.3,949.6 L316.9,947.7 L318.5,945.8 L320.2,944.0 L321.9,942.3 L323.7,940.6 L325.6,939.1 L327.5,937.6 L329.5,936.2 L331.5,934.9 L333.6,933.8 L335.7,932.7 L337.9,931.8 L340.1,931.1 L342.4,930.5 L344.7,930.0 L347.1,929.6 L349.5,929.4 L351.9,929.2 L354.3,929.2 L356.8,929.2 L359.2,929.4 L361.7,929.6 L364.1,929.8 L366.6,930.2 L369.1,930.5 L371.6,930.9 L374.1,931.4 L376.6,931.8 L379.2,932.3 L381.7,932.7 L384.2,933.2 L386.7,933.6 L389.2,934.0 L391.8,934.3 L394.3,934.7 L396.8,934.9 L399.3,935.1 L401.8,935.3 L404.3,935.3 L406.8,935.4 L409.3,935.4 L411.8,935.3 L414.3,935.3 L416.8,935.2 L419.3,935.1 L421.8,935.0 L424.3,935.0 L426.7,934.9 L429.2,934.9 L431.6,934.9 L434.1,935.0 L436.5,935.1 L439.0,935.3 L441.4,935.6 L443.9,935.9 L446.3,936.3 L448.7,936.7 L451.1,937.3 L453.5,937.8 L456.0,938.4 L458.4,939.0 L460.8,939.7 L463.2,940.4 L465.6,941.1 L468.0,941.8 L470.4,942.6 L472.8,943.3 L475.3,944.0 L477.7,944.7 L480.1,945.4 L482.5,946.0 L484.9,946.7 L487.4,947.3 L489.8,947.8 L492.3,948.3 L494.7,948.8 L497.2,949.3 L499.6,949.8 L502.1,950.2 L504.5,950.5 L507.0,950.9 L509.5,951.2 L511.9,951.5 L514.4,951.8 L516.9,952.0 L519.3,952.2 L521.8,952.4 L524.3,952.6 L526.8,952.7 L529.2,952.8 L531.7,952.9 L534.2,953.0 L536.7,953.0 L539.1,953.0 L541.6,953.0 L544.1,953.0 L546.6,952.9 L549.0,952.9 L551.5,952.8 L554.0,952.7 L556.5,952.6 L559.0,952.4 L561.4,952.3 L563.9,952.1 L566.4,951.9 L568.9,951.7 L571.4,951.5 L573.8,951.3 L576.3,951.0 L578.8,950.8 L581.3,950.5 L583.8,950.3 L586.3,950.0 L588.7,949.7 L591.2,949.4 L593.7,949.1 L596.2,948.8 L598.7,948.5 L601.2,948.2 L603.6,947.8 L606.1,947.5 L608.6,947.2 L611.1,946.8 L613.6,946.5 L616.1,946.2 L618.5,945.8 L621.0,945.5 L623.5,945.1 L626.0,944.8 L628.5,944.5 L631.0,944.1 L633.4,943.8 L635.9,943.5 L638.4,943.2 L640.9,942.8 L643.4,942.5 L645.9,942.2 L648.4,941.9 L650.8,941.6 L653.3,941.4 L655.8,941.1 L658.3,940.8 L660.8,940.6 L663.3,940.4 L665.7,940.1 L668.2,939.9 L670.7,939.7 L673.2,939.5 L675.7,939.4 L678.1,939.2 L680.6,939.1 L683.1,938.9 L685.6,938.8 L688.1,938.8 L690.6,938.7 L693.0,938.6 L695.5,938.6 L698.0,938.6 L700.5,938.6 L703.0,938.6 L705.4,938.7 L707.9,938.8" fill="none" stroke="#808000" stroke-width="12" stroke-linejoin="round" stroke-linecap="butt" />
</g>
<line x1="98.8" y1="747.0" x2="150.0" y2="747.0" stroke="#aaaaaa" stroke-width="3"/>
<rect x="118.25" y="742" width="10" height="10" fill="#000000"/>
<text transform="translate(156.80,755.00) scale(0.99,1)" font-size="23" text-anchor="start" font-weight="bold" >MWA</text>
<line x1="98.8" y1="777.5" x2="150.0" y2="777.5" stroke="#ff9c9c" stroke-width="3"/>
<circle cx="123.25" cy="777.5" r="6" fill="#ff0000"/>
<text transform="translate(156.80,785.50) scale(0.99,1)" font-size="23" text-anchor="start" font-weight="bold" >Fit</text>
<line x1="98.8" y1="807.5" x2="150.0" y2="807.5" stroke="#a0a0ff" stroke-width="3"/>
<polygon points="117.25,812.5 129.25,812.5 123.25,801.5" fill="#0000ff"/>
<text transform="translate(156.80,815.50) scale(0.99,1)" font-size="23" text-anchor="start" font-weight="bold" >Residual</text>
<line x1="98.8" y1="837.5" x2="150.0" y2="837.5" stroke="#80c0c0" stroke-width="3"/>
<polygon points="117.25,832.5 129.25,832.5 123.25,843.5" fill="#008080"/>
<text transform="translate(156.80,845.50) scale(0.99,1)" font-size="23" text-anchor="start" font-weight="bold" >MWB</text>
<line x1="98.8" y1="867.5" x2="150.0" y2="867.5" stroke="#ffa0ff" stroke-width="3"/>
<polygon points="128.25,861.5 128.25,873.5 117.25,867.5" fill="#ff00ff"/>
<text transform="translate(156.80,875.50) scale(0.99,1)" font-size="23" text-anchor="start" font-weight="bold" >layered Mn oxide</text>
<line x1="98.8" y1="897.5" x2="150.0" y2="897.5" stroke="#c8c8a0" stroke-width="3"/>
<polygon points="118.25,891.5 118.25,903.5 129.25,897.5" fill="#808000"/>
<text transform="translate(156.80,905.50) scale(0.99,1)" font-size="23" text-anchor="start" font-weight="bold" >MnO<tspan font-size='16' dy='6' dx='-0.8'>2</tspan></text>
<path d="M827,732 L827,1224" stroke="#7a7a7a" stroke-width="2.8" fill="none"/>
<path d="M1450,732 L1450,1224" stroke="#5e5e5e" stroke-width="2.8" fill="none"/>
<path d="M827,732 L1450,732" stroke="#555" stroke-width="2.8" fill="none" stroke-linecap="round"/>
<path d="M827,1224 L1450,1224" stroke="#555" stroke-width="2.8" fill="none" stroke-linecap="round"/>
<line x1="827.0" y1="1224.0" x2="827.0" y2="1215.0" stroke="#555555" stroke-width="2.5"/>
<line x1="827.0" y1="732.0" x2="827.0" y2="741.0" stroke="#555555" stroke-width="2.5"/>
<line x1="861.6" y1="1224.0" x2="861.6" y2="1219.5" stroke="#555555" stroke-width="2.5"/>
<line x1="861.6" y1="732.0" x2="861.6" y2="736.5" stroke="#555555" stroke-width="2.5"/>
<line x1="896.2" y1="1224.0" x2="896.2" y2="1215.0" stroke="#555555" stroke-width="2.5"/>
<line x1="896.2" y1="732.0" x2="896.2" y2="741.0" stroke="#555555" stroke-width="2.5"/>
<line x1="930.8" y1="1224.0" x2="930.8" y2="1219.5" stroke="#555555" stroke-width="2.5"/>
<line x1="930.8" y1="732.0" x2="930.8" y2="736.5" stroke="#555555" stroke-width="2.5"/>
<line x1="965.4" y1="1224.0" x2="965.4" y2="1215.0" stroke="#555555" stroke-width="2.5"/>
<line x1="965.4" y1="732.0" x2="965.4" y2="741.0" stroke="#555555" stroke-width="2.5"/>
<line x1="1000.0" y1="1224.0" x2="1000.0" y2="1219.5" stroke="#555555" stroke-width="2.5"/>
<line x1="1000.0" y1="732.0" x2="1000.0" y2="736.5" stroke="#555555" stroke-width="2.5"/>
<line x1="1034.7" y1="1224.0" x2="1034.7" y2="1215.0" stroke="#555555" stroke-width="2.5"/>
<line x1="1034.7" y1="732.0" x2="1034.7" y2="741.0" stroke="#555555" stroke-width="2.5"/>
<line x1="1069.3" y1="1224.0" x2="1069.3" y2="1219.5" stroke="#555555" stroke-width="2.5"/>
<line x1="1069.3" y1="732.0" x2="1069.3" y2="736.5" stroke="#555555" stroke-width="2.5"/>
<line x1="1103.9" y1="1224.0" x2="1103.9" y2="1215.0" stroke="#555555" stroke-width="2.5"/>
<line x1="1103.9" y1="732.0" x2="1103.9" y2="741.0" stroke="#555555" stroke-width="2.5"/>
<line x1="1138.5" y1="1224.0" x2="1138.5" y2="1219.5" stroke="#555555" stroke-width="2.5"/>
<line x1="1138.5" y1="732.0" x2="1138.5" y2="736.5" stroke="#555555" stroke-width="2.5"/>
<line x1="1173.1" y1="1224.0" x2="1173.1" y2="1215.0" stroke="#555555" stroke-width="2.5"/>
<line x1="1173.1" y1="732.0" x2="1173.1" y2="741.0" stroke="#555555" stroke-width="2.5"/>
<line x1="1207.7" y1="1224.0" x2="1207.7" y2="1219.5" stroke="#555555" stroke-width="2.5"/>
<line x1="1207.7" y1="732.0" x2="1207.7" y2="736.5" stroke="#555555" stroke-width="2.5"/>
<line x1="1242.3" y1="1224.0" x2="1242.3" y2="1215.0" stroke="#555555" stroke-width="2.5"/>
<line x1="1242.3" y1="732.0" x2="1242.3" y2="741.0" stroke="#555555" stroke-width="2.5"/>
<line x1="1276.9" y1="1224.0" x2="1276.9" y2="1219.5" stroke="#555555" stroke-width="2.5"/>
<line x1="1276.9" y1="732.0" x2="1276.9" y2="736.5" stroke="#555555" stroke-width="2.5"/>
<line x1="1311.5" y1="1224.0" x2="1311.5" y2="1215.0" stroke="#555555" stroke-width="2.5"/>
<line x1="1311.5" y1="732.0" x2="1311.5" y2="741.0" stroke="#555555" stroke-width="2.5"/>
<line x1="1346.2" y1="1224.0" x2="1346.2" y2="1219.5" stroke="#555555" stroke-width="2.5"/>
<line x1="1346.2" y1="732.0" x2="1346.2" y2="736.5" stroke="#555555" stroke-width="2.5"/>
<line x1="1380.8" y1="1224.0" x2="1380.8" y2="1215.0" stroke="#555555" stroke-width="2.5"/>
<line x1="1380.8" y1="732.0" x2="1380.8" y2="741.0" stroke="#555555" stroke-width="2.5"/>
<line x1="1415.4" y1="1224.0" x2="1415.4" y2="1219.5" stroke="#555555" stroke-width="2.5"/>
<line x1="1415.4" y1="732.0" x2="1415.4" y2="736.5" stroke="#555555" stroke-width="2.5"/>
<line x1="1450.0" y1="1224.0" x2="1450.0" y2="1215.0" stroke="#555555" stroke-width="2.5"/>
<line x1="1450.0" y1="732.0" x2="1450.0" y2="741.0" stroke="#555555" stroke-width="2.5"/>
<line x1="827.0" y1="1192.3" x2="836.0" y2="1192.3" stroke="#555555" stroke-width="2.5"/>
<line x1="1450.0" y1="1192.3" x2="1441.0" y2="1192.3" stroke="#555555" stroke-width="2.5"/>
<line x1="827.0" y1="1159.4" x2="831.5" y2="1159.4" stroke="#555555" stroke-width="2.5"/>
<line x1="1450.0" y1="1159.4" x2="1445.5" y2="1159.4" stroke="#555555" stroke-width="2.5"/>
<line x1="827.0" y1="1126.5" x2="836.0" y2="1126.5" stroke="#555555" stroke-width="2.5"/>
<line x1="1450.0" y1="1126.5" x2="1441.0" y2="1126.5" stroke="#555555" stroke-width="2.5"/>
<line x1="827.0" y1="1093.5" x2="831.5" y2="1093.5" stroke="#555555" stroke-width="2.5"/>
<line x1="1450.0" y1="1093.5" x2="1445.5" y2="1093.5" stroke="#555555" stroke-width="2.5"/>
<line x1="827.0" y1="1060.6" x2="836.0" y2="1060.6" stroke="#555555" stroke-width="2.5"/>
<line x1="1450.0" y1="1060.6" x2="1441.0" y2="1060.6" stroke="#555555" stroke-width="2.5"/>
<line x1="827.0" y1="1027.7" x2="831.5" y2="1027.7" stroke="#555555" stroke-width="2.5"/>
<line x1="1450.0" y1="1027.7" x2="1445.5" y2="1027.7" stroke="#555555" stroke-width="2.5"/>
<line x1="827.0" y1="994.8" x2="836.0" y2="994.8" stroke="#555555" stroke-width="2.5"/>
<line x1="1450.0" y1="994.8" x2="1441.0" y2="994.8" stroke="#555555" stroke-width="2.5"/>
<line x1="827.0" y1="961.9" x2="831.5" y2="961.9" stroke="#555555" stroke-width="2.5"/>
<line x1="1450.0" y1="961.9" x2="1445.5" y2="961.9" stroke="#555555" stroke-width="2.5"/>
<line x1="827.0" y1="928.9" x2="836.0" y2="928.9" stroke="#555555" stroke-width="2.5"/>
<line x1="1450.0" y1="928.9" x2="1441.0" y2="928.9" stroke="#555555" stroke-width="2.5"/>
<line x1="827.0" y1="896.0" x2="831.5" y2="896.0" stroke="#555555" stroke-width="2.5"/>
<line x1="1450.0" y1="896.0" x2="1445.5" y2="896.0" stroke="#555555" stroke-width="2.5"/>
<line x1="827.0" y1="863.1" x2="836.0" y2="863.1" stroke="#555555" stroke-width="2.5"/>
<line x1="1450.0" y1="863.1" x2="1441.0" y2="863.1" stroke="#555555" stroke-width="2.5"/>
<line x1="827.0" y1="830.2" x2="831.5" y2="830.2" stroke="#555555" stroke-width="2.5"/>
<line x1="1450.0" y1="830.2" x2="1445.5" y2="830.2" stroke="#555555" stroke-width="2.5"/>
<line x1="827.0" y1="797.3" x2="836.0" y2="797.3" stroke="#555555" stroke-width="2.5"/>
<line x1="1450.0" y1="797.3" x2="1441.0" y2="797.3" stroke="#555555" stroke-width="2.5"/>
<line x1="827.0" y1="764.3" x2="831.5" y2="764.3" stroke="#555555" stroke-width="2.5"/>
<line x1="1450.0" y1="764.3" x2="1445.5" y2="764.3" stroke="#555555" stroke-width="2.5"/>
<text transform="translate(826.50,1266.00) scale(1.022,1)" font-size="39" text-anchor="middle" font-weight="normal" >0</text>
<text transform="translate(895.72,1266.00) scale(1.022,1)" font-size="39" text-anchor="middle" font-weight="normal" >1</text>
<text transform="translate(964.94,1266.00) scale(1.022,1)" font-size="39" text-anchor="middle" font-weight="normal" >2</text>
<text transform="translate(1034.16,1266.00) scale(1.022,1)" font-size="39" text-anchor="middle" font-weight="normal" >3</text>
<text transform="translate(1103.38,1266.00) scale(1.022,1)" font-size="39" text-anchor="middle" font-weight="normal" >4</text>
<text transform="translate(1172.60,1266.00) scale(1.022,1)" font-size="39" text-anchor="middle" font-weight="normal" >5</text>
<text transform="translate(1241.82,1266.00) scale(1.022,1)" font-size="39" text-anchor="middle" font-weight="normal" >6</text>
<text transform="translate(1311.04,1266.00) scale(1.022,1)" font-size="39" text-anchor="middle" font-weight="normal" >7</text>
<text transform="translate(1380.26,1266.00) scale(1.022,1)" font-size="39" text-anchor="middle" font-weight="normal" >8</text>
<text transform="translate(1449.48,1266.00) scale(1.022,1)" font-size="39" text-anchor="middle" font-weight="normal" >9</text>
<text transform="translate(1138.45,1308.60) scale(1.019,1)" font-size="39" text-anchor="middle" font-weight="normal" >Photon Energy (eV)</text>
<text transform="translate(799.5,990) rotate(-90) scale(1,1.0)" font-size="40" text-anchor="start"><tspan font-family="Liberation Serif" font-style="italic">χ</tspan> (<tspan font-style="italic">k</tspan>)</text>
<g clip-path="url(#cd)">
<path d="M827.0,1059.7 L829.5,1059.4 L831.9,1059.1 L834.4,1059.0 L836.9,1058.9 L839.3,1058.9 L841.8,1058.9 L844.2,1059.0 L846.7,1059.2 L849.2,1059.4 L851.6,1059.6 L854.1,1059.9 L856.6,1060.2 L859.0,1060.5 L861.5,1060.9 L864.0,1061.2 L866.5,1061.5 L868.9,1061.9 L871.4,1062.2 L873.9,1062.5 L876.5,1062.8 L879.0,1063.1 L881.5,1063.4 L884.0,1063.7 L886.4,1064.1 L888.9,1064.5 L891.3,1065.0 L893.7,1065.7 L896.0,1066.4 L898.3,1067.3 L900.5,1068.3 L902.6,1069.5 L904.8,1070.8 L906.8,1072.2 L908.9,1073.7 L910.9,1075.2 L912.9,1076.8 L914.9,1078.4 L917.0,1080.0 L919.0,1081.5 L921.1,1082.9 L923.3,1084.2 L925.5,1085.4 L927.8,1086.5 L930.1,1087.4 L932.5,1088.1 L934.9,1088.6 L937.3,1088.9 L939.7,1089.0 L942.1,1088.9 L944.4,1088.6 L946.6,1088.0 L948.8,1087.2 L950.9,1086.1 L952.8,1084.9 L954.7,1083.4 L956.5,1081.7 L958.2,1079.9 L959.9,1078.0 L961.5,1076.0 L963.0,1073.9 L964.5,1071.8 L966.0,1069.6 L967.4,1067.5 L968.8,1065.3 L970.2,1063.1 L971.5,1060.9 L972.8,1058.8 L974.1,1056.6 L975.3,1054.4 L976.5,1052.2 L977.7,1050.0 L978.8,1047.8 L980.0,1045.6 L981.0,1043.3 L982.1,1041.1 L983.1,1038.9 L984.1,1036.7 L985.1,1034.4 L986.0,1032.2 L986.9,1029.9 L987.8,1027.7 L988.6,1025.4 L989.4,1023.2 L990.2,1020.9 L991.0,1018.6 L991.7,1016.3 L992.5,1013.9 L993.2,1011.5 L993.9,1009.1 L994.6,1006.6 L995.3,1004.1 L996.0,1001.5 L996.7,998.9 L997.4,996.3 L998.1,993.6 L998.9,991.0 L999.7,988.4 L1000.6,986.0 L1001.6,983.8 L1002.7,981.7 L1004.0,979.9 L1005.4,978.3 L1006.9,977.1 L1008.5,976.3 L1010.2,976.0 L1011.8,976.2 L1013.4,977.1 L1014.8,978.6 L1016.1,980.8 L1017.3,983.3 L1018.4,985.8 L1019.5,988.3 L1020.5,990.7 L1021.5,993.0 L1022.5,995.4 L1023.4,997.7 L1024.4,1000.0 L1025.3,1002.3 L1026.1,1004.6 L1027.0,1006.9 L1027.8,1009.3 L1028.6,1011.6 L1029.4,1014.0 L1030.2,1016.3 L1030.9,1018.7 L1031.7,1021.1 L1032.4,1023.4 L1033.1,1025.8 L1033.8,1028.2 L1034.4,1030.6 L1035.1,1033.0 L1035.7,1035.5 L1036.4,1037.9 L1037.0,1040.3 L1037.6,1042.7 L1038.2,1045.2 L1038.8,1047.6 L1039.4,1050.1 L1039.9,1052.5 L1040.5,1054.9 L1041.0,1057.4 L1041.6,1059.8 L1042.1,1062.3 L1042.6,1064.8 L1043.1,1067.2 L1043.6,1069.7 L1044.2,1072.1 L1044.7,1074.6 L1045.2,1077.0 L1045.7,1079.5 L1046.2,1081.9 L1046.7,1084.4 L1047.2,1086.8 L1047.7,1089.2 L1048.2,1091.7 L1048.6,1094.1 L1049.1,1096.5 L1049.6,1099.0 L1050.2,1101.4 L1050.7,1103.8 L1051.2,1106.2 L1051.7,1108.6 L1052.2,1111.0 L1052.7,1113.4 L1053.3,1115.8 L1053.8,1118.1 L1054.3,1120.5 L1054.9,1122.9 L1055.5,1125.3 L1056.0,1127.7 L1056.6,1130.2 L1057.2,1132.6 L1057.8,1135.1 L1058.4,1137.6 L1059.0,1140.2 L1059.7,1142.8 L1060.3,1145.4 L1061.0,1148.0 L1061.7,1150.7 L1062.5,1153.2 L1063.4,1155.7 L1064.4,1158.0 L1065.5,1160.2 L1066.8,1162.2 L1068.2,1163.9 L1069.8,1165.4 L1071.7,1166.6 L1073.5,1167.4 L1075.4,1167.7 L1077.1,1167.6 L1078.7,1166.9 L1080.1,1165.8 L1081.4,1164.2 L1082.6,1162.4 L1083.7,1160.2 L1084.7,1157.9 L1085.7,1155.4 L1086.6,1152.7 L1087.4,1150.0 L1088.2,1147.3 L1089.0,1144.7 L1089.7,1142.1 L1090.5,1139.5 L1091.2,1137.0 L1091.9,1134.6 L1092.6,1132.1 L1093.2,1129.7 L1093.9,1127.3 L1094.6,1124.9 L1095.2,1122.5 L1095.9,1120.2 L1096.5,1117.8 L1097.1,1115.5 L1097.8,1113.1 L1098.4,1110.8 L1099.0,1108.4 L1099.6,1106.0 L1100.3,1103.7 L1100.9,1101.3 L1101.5,1098.9 L1102.1,1096.5 L1102.7,1094.2 L1103.3,1091.8 L1104.0,1089.4 L1104.6,1087.0 L1105.2,1084.6 L1105.8,1082.2 L1106.4,1079.7 L1107.0,1077.3 L1107.6,1074.9 L1108.2,1072.5 L1108.8,1070.1 L1109.4,1067.6 L1110.0,1065.2 L1110.6,1062.8 L1111.1,1060.4 L1111.7,1057.9 L1112.3,1055.5 L1112.9,1053.0 L1113.5,1050.6 L1114.0,1048.2 L1114.6,1045.7 L1115.2,1043.3 L1115.7,1040.8 L1116.3,1038.4 L1116.9,1035.9 L1117.4,1033.5 L1118.0,1031.0 L1118.5,1028.6 L1119.1,1026.1 L1119.6,1023.7 L1120.2,1021.2 L1120.7,1018.7 L1121.2,1016.3 L1121.8,1013.8 L1122.3,1011.4 L1122.8,1008.9 L1123.3,1006.5 L1123.9,1004.0 L1124.4,1001.6 L1124.9,999.1 L1125.4,996.6 L1125.9,994.2 L1126.4,991.7 L1126.9,989.3 L1127.4,986.8 L1127.9,984.4 L1128.4,981.9 L1128.9,979.5 L1129.4,977.1 L1129.8,974.6 L1130.3,972.2 L1130.8,969.8 L1131.3,967.4 L1131.8,965.0 L1132.3,962.6 L1132.8,960.2 L1133.3,957.8 L1133.8,955.4 L1134.4,953.0 L1134.9,950.7 L1135.4,948.3 L1136.0,945.9 L1136.6,943.5 L1137.2,941.1 L1137.8,938.6 L1138.4,936.2 L1139.1,933.7 L1139.7,931.2 L1140.4,928.6 L1141.2,926.0 L1142.0,923.3 L1142.8,920.6 L1143.6,917.9 L1144.5,915.3 L1145.5,913.0 L1146.6,911.1 L1147.8,909.6 L1149.1,908.8 L1150.5,908.7 L1152.1,909.4 L1153.8,910.7 L1155.4,912.5 L1156.8,914.6 L1158.0,916.8 L1159.0,919.0 L1159.8,921.4 L1160.5,923.8 L1161.2,926.3 L1161.7,928.8 L1162.3,931.3 L1162.8,933.8 L1163.3,936.3 L1163.8,938.8 L1164.3,941.3 L1164.8,943.8 L1165.3,946.2 L1165.7,948.7 L1166.2,951.2 L1166.7,953.7 L1167.1,956.1 L1167.6,958.6 L1168.0,961.1 L1168.4,963.5 L1168.9,966.0 L1169.3,968.4 L1169.7,970.9 L1170.1,973.3 L1170.5,975.8 L1170.9,978.2 L1171.3,980.7 L1171.7,983.1 L1172.1,985.6 L1172.5,988.0 L1172.9,990.5 L1173.3,992.9 L1173.7,995.4 L1174.0,997.8 L1174.4,1000.3 L1174.8,1002.7 L1175.1,1005.2 L1175.5,1007.6 L1175.8,1010.1 L1176.2,1012.5 L1176.5,1015.0 L1176.9,1017.5 L1177.2,1019.9 L1177.6,1022.4 L1177.9,1024.8 L1178.3,1027.3 L1178.6,1029.8 L1179.0,1032.2 L1179.3,1034.7 L1179.6,1037.2 L1180.0,1039.7 L1180.3,1042.2 L1180.7,1044.7 L1181.0,1047.2 L1181.3,1049.7 L1181.7,1052.2 L1182.0,1054.7 L1182.4,1057.2 L1182.7,1059.7 L1183.0,1062.2 L1183.4,1064.7 L1183.7,1067.2 L1184.1,1069.7 L1184.4,1072.2 L1184.7,1074.8 L1185.1,1077.3 L1185.4,1079.8 L1185.8,1082.3 L1186.1,1084.7 L1186.4,1087.2 L1186.8,1089.7 L1187.1,1092.2 L1187.5,1094.7 L1187.8,1097.1 L1188.2,1099.6 L1188.5,1102.0 L1188.9,1104.5 L1189.2,1106.9 L1189.6,1109.3 L1189.9,1111.7 L1190.3,1114.1 L1190.6,1116.5 L1191.0,1118.9 L1191.4,1121.3 L1191.7,1123.7 L1192.1,1126.0 L1192.5,1128.4 L1192.9,1130.8 L1193.3,1133.2 L1193.7,1135.6 L1194.2,1138.1 L1194.6,1140.5 L1195.1,1142.9 L1195.5,1145.4 L1196.0,1147.9 L1196.5,1150.4 L1197.1,1152.9 L1197.6,1155.4 L1198.2,1158.0 L1198.8,1160.5 L1199.4,1163.2 L1200.0,1165.8 L1200.7,1168.5 L1201.3,1171.2 L1202.0,1173.9 L1202.8,1176.7 L1203.5,1179.4 L1204.3,1182.1 L1205.2,1184.5 L1206.1,1186.7 L1207.0,1188.6 L1208.0,1190.0 L1209.1,1191.0 L1210.3,1191.3 L1211.5,1191.0 L1212.8,1190.2 L1214.0,1188.9 L1215.1,1187.4 L1216.1,1185.7 L1216.9,1183.7 L1217.7,1181.6 L1218.4,1179.3 L1219.0,1176.9 L1219.5,1174.4 L1220.0,1171.8 L1220.4,1169.2 L1220.8,1166.4 L1221.1,1163.7 L1221.4,1160.9 L1221.8,1158.2 L1222.1,1155.5 L1222.4,1152.9 L1222.7,1150.3 L1223.1,1147.7 L1223.5,1145.2 L1223.8,1142.8 L1224.2,1140.3 L1224.6,1137.9 L1225.0,1135.6 L1225.4,1133.2 L1225.8,1130.9 L1226.2,1128.5 L1226.6,1126.2 L1227.0,1123.9 L1227.4,1121.5 L1227.9,1119.2 L1228.3,1116.8 L1228.7,1114.4 L1229.1,1112.0 L1229.5,1109.6 L1229.9,1107.1 L1230.3,1104.6 L1230.7,1102.1 L1231.1,1099.5 L1231.6,1096.9 L1232.0,1094.3 L1232.4,1091.7 L1232.9,1089.1 L1233.4,1086.5 L1233.9,1084.0 L1234.4,1081.4 L1235.0,1078.9 L1235.6,1076.4 L1236.2,1073.9 L1236.9,1071.4 L1237.6,1069.1 L1238.4,1066.7 L1239.2,1064.5 L1240.1,1062.3 L1241.0,1060.1 L1242.0,1058.1 L1243.1,1056.1 L1244.2,1054.2 L1245.4,1052.5 L1246.7,1050.8 L1248.1,1049.5 L1249.5,1048.4 L1251.0,1047.7 L1252.6,1047.5 L1254.3,1047.8 L1256.1,1048.7 L1257.8,1049.8 L1259.6,1050.7 L1261.2,1051.0 L1262.7,1050.5 L1264.2,1049.4 L1265.5,1047.7 L1266.7,1045.7 L1267.8,1043.3 L1268.9,1040.8 L1269.9,1038.3 L1270.9,1035.7 L1271.8,1033.1 L1272.6,1030.6 L1273.5,1028.0 L1274.3,1025.5 L1275.0,1023.0 L1275.8,1020.5 L1276.5,1018.0 L1277.3,1015.6 L1278.0,1013.1 L1278.7,1010.7 L1279.4,1008.3 L1280.1,1005.9 L1280.8,1003.5 L1281.6,1001.2 L1282.4,998.9 L1283.2,996.6 L1284.0,994.3 L1284.9,992.1 L1285.8,989.9 L1286.7,987.7 L1287.7,985.6 L1288.8,983.5 L1289.9,981.4 L1291.1,979.4 L1292.3,977.8 L1293.6,976.5 L1294.9,975.8 L1296.2,975.8 L1297.5,976.6 L1298.7,978.4 L1300.0,980.9 L1301.1,983.7 L1302.2,986.4 L1303.1,989.1 L1303.9,991.7 L1304.7,994.2 L1305.4,996.7 L1306.0,999.2 L1306.6,1001.6 L1307.1,1004.1 L1307.6,1006.5 L1308.1,1008.9 L1308.6,1011.4 L1309.1,1013.8 L1309.6,1016.2 L1310.1,1018.6 L1310.5,1021.0 L1311.0,1023.5 L1311.4,1025.9 L1311.9,1028.3 L1312.3,1030.7 L1312.8,1033.1 L1313.2,1035.5 L1313.6,1038.0 L1314.1,1040.4 L1314.5,1042.8 L1315.0,1045.2 L1315.5,1047.7 L1315.9,1050.1 L1316.4,1052.5 L1316.9,1055.0 L1317.4,1057.4 L1317.9,1059.9 L1318.4,1062.4 L1318.9,1064.8 L1319.5,1067.3 L1320.0,1069.8 L1320.6,1072.3 L1321.2,1074.8 L1321.8,1077.3 L1322.5,1079.7 L1323.2,1082.2 L1323.9,1084.6 L1324.6,1087.1 L1325.4,1089.5 L1326.3,1091.9 L1327.2,1094.2 L1328.1,1096.5 L1329.1,1098.8 L1330.2,1101.0 L1331.3,1103.2 L1332.4,1105.3 L1333.7,1107.4 L1335.0,1109.4 L1336.3,1111.3 L1337.8,1113.2 L1339.3,1114.9 L1340.8,1116.1 L1342.3,1116.4 L1343.7,1115.9 L1345.1,1114.6 L1346.4,1112.7 L1347.7,1110.5 L1349.0,1108.0 L1350.3,1105.4 L1351.5,1102.8 L1352.8,1100.1 L1354.0,1097.5 L1355.3,1095.1 L1356.5,1092.7 L1357.9,1090.6 L1359.4,1088.8 L1361.0,1087.2 L1362.7,1086.0 L1364.6,1085.1 L1366.7,1084.7 L1369.0,1084.5 L1371.3,1084.5 L1373.6,1084.5 L1375.8,1084.3 L1377.9,1083.9 L1379.9,1083.4 L1381.9,1082.6 L1383.8,1081.7 L1385.6,1080.5 L1387.4,1079.2 L1389.1,1077.5 L1390.7,1075.6 L1392.4,1073.4 L1393.9,1071.0 L1395.5,1068.2 L1397.0,1065.3 L1398.4,1062.4 L1399.9,1059.7 L1401.3,1057.2 L1402.7,1055.3 L1404.1,1053.9 L1405.4,1053.2 L1406.7,1053.0 L1408.0,1053.5 L1409.3,1054.3 L1410.5,1055.6 L1411.7,1057.3 L1412.9,1059.2 L1413.9,1061.3 L1414.9,1063.5 L1415.9,1065.9 L1416.8,1068.2 L1417.6,1070.6 L1418.3,1072.9 L1419.0,1075.2 L1419.6,1077.5 L1420.2,1079.8 L1420.8,1082.2 L1421.3,1084.6 L1421.8,1087.1 L1422.3,1089.6 L1422.8,1092.3 L1423.2,1095.0 L1423.7,1097.9 L1424.2,1100.8 L1424.8,1103.9 L1425.3,1106.8 L1425.9,1109.4 L1426.5,1111.8 L1427.1,1113.6 L1427.8,1114.8 L1428.5,1115.3 L1429.2,1114.9 L1430.0,1113.7 L1430.8,1111.9 L1431.6,1109.8 L1432.4,1107.5 L1433.1,1105.2 L1433.7,1102.8 L1434.4,1100.3 L1435.0,1097.8 L1435.6,1095.3 L1436.1,1092.8 L1436.6,1090.3 L1437.1,1087.7 L1437.5,1085.2 L1438.0,1082.7 L1438.4,1080.2 L1438.7,1077.7 L1439.1,1075.2 L1439.4,1072.7 L1439.7,1070.2 L1440.0,1067.7 L1440.3,1065.2 L1440.5,1062.7 L1440.8,1060.3 L1441.0,1057.8 L1441.3,1055.3 L1441.5,1052.8 L1441.7,1050.4 L1441.9,1047.9 L1442.1,1045.4 L1442.3,1043.0 L1442.5,1040.5 L1442.7,1038.1 L1442.9,1035.6 L1443.1,1033.1 L1443.3,1030.6 L1443.5,1028.2 L1443.7,1025.7 L1444.0,1023.2 L1444.2,1020.7 L1444.5,1018.2 L1444.7,1015.8 L1445.0,1013.3 L1445.3,1010.8 L1445.6,1008.3 L1445.9,1005.8 L1446.2,1003.3 L1446.5,1000.8 L1446.8,998.3 L1447.1,995.8 L1447.4,993.3 L1447.7,990.8 L1448.0,988.3 L1448.3,985.8 L1448.6,983.3 L1448.8,980.9 L1449.1,978.4 L1449.3,975.9 L1449.5,973.4 L1449.7,971.0 L1449.9,968.5" fill="none" stroke="#000000" stroke-width="4.2" stroke-linejoin="round" stroke-linecap="round" />
<path d="M826.6,1060.2 L829.5,1060.9 L832.1,1061.8 L834.4,1062.9 L836.5,1064.2 L838.4,1065.6 L840.1,1067.3 L841.7,1069.0 L843.2,1070.9 L844.6,1072.9 L846.0,1074.9 L847.3,1077.0 L848.7,1079.1 L850.0,1081.3 L851.4,1083.4 L852.9,1085.6 L854.5,1087.7 L856.2,1089.7 L858.0,1091.7 L859.9,1093.5 L861.8,1095.3 L863.8,1096.8 L865.8,1098.2 L867.9,1099.4 L869.9,1100.4 L872.0,1101.2 L874.0,1101.6 L876.1,1101.8 L878.0,1101.7 L879.9,1101.3 L881.8,1100.5 L883.6,1099.3 L885.2,1097.8 L886.8,1096.0 L888.4,1094.0 L889.8,1091.8 L891.2,1089.4 L892.6,1086.9 L893.8,1084.3 L895.0,1081.7 L896.2,1079.0 L897.3,1076.5 L898.3,1074.0 L899.3,1071.6 L900.3,1069.3 L901.2,1067.1 L902.1,1064.9 L903.0,1062.8 L903.9,1060.6 L904.8,1058.5 L905.6,1056.4 L906.5,1054.2 L907.4,1052.0 L908.4,1049.8 L909.3,1047.5 L910.3,1045.2 L911.3,1043.0 L912.3,1040.7 L913.3,1038.3 L914.3,1036.0 L915.4,1033.7 L916.5,1031.4 L917.6,1029.0 L918.8,1026.7 L920.0,1024.4 L921.2,1022.1 L922.4,1019.8 L923.7,1017.5 L925.0,1015.3 L926.4,1013.2 L927.8,1011.1 L929.4,1009.2 L931.0,1007.4 L932.8,1005.8 L934.6,1004.4 L936.6,1003.2 L938.8,1002.3 L941.1,1001.7 L943.5,1001.4 L945.9,1001.4 L948.2,1001.9 L950.3,1002.7 L952.2,1004.1 L953.8,1005.8 L955.2,1007.9 L956.4,1010.2 L957.7,1012.6 L959.0,1014.9 L960.4,1017.1 L961.9,1019.2 L963.6,1021.1 L965.4,1022.9 L967.2,1024.7 L969.0,1026.4 L970.8,1028.2 L972.5,1029.9 L974.2,1031.7 L975.8,1033.6 L977.4,1035.5 L978.8,1037.5 L980.2,1039.5 L981.6,1041.5 L982.9,1043.6 L984.1,1045.7 L985.3,1047.9 L986.4,1050.0 L987.5,1052.3 L988.5,1054.5 L989.5,1056.8 L990.5,1059.1 L991.4,1061.4 L992.2,1063.8 L993.0,1066.2 L993.8,1068.6 L994.5,1071.0 L995.2,1073.4 L995.9,1075.8 L996.5,1078.3 L997.1,1080.8 L997.7,1083.2 L998.3,1085.7 L998.8,1088.2 L999.3,1090.7 L999.8,1093.2 L1000.3,1095.6 L1000.7,1098.1 L1001.2,1100.6 L1001.6,1103.1 L1002.0,1105.5 L1002.4,1108.0 L1002.8,1110.4 L1003.2,1112.8 L1003.6,1115.2 L1004.0,1117.6 L1004.4,1120.0 L1004.8,1122.4 L1005.2,1124.8 L1005.6,1127.2 L1006.0,1129.6 L1006.4,1132.0 L1006.8,1134.4 L1007.3,1136.8 L1007.8,1139.3 L1008.3,1141.7 L1008.8,1144.2 L1009.4,1146.7 L1009.9,1149.2 L1010.5,1151.7 L1011.2,1154.2 L1011.9,1156.8 L1012.6,1159.5 L1013.3,1162.1 L1014.1,1164.8 L1014.9,1167.5 L1015.8,1170.1 L1016.7,1172.5 L1017.6,1174.7 L1018.5,1176.5 L1019.4,1177.9 L1020.4,1178.7 L1021.3,1179.0 L1022.2,1178.5 L1023.1,1177.5 L1024.0,1176.1 L1024.9,1174.2 L1025.7,1172.0 L1026.6,1169.6 L1027.4,1167.1 L1028.2,1164.5 L1029.0,1161.9 L1029.8,1159.4 L1030.5,1156.8 L1031.2,1154.3 L1031.9,1151.8 L1032.6,1149.3 L1033.3,1146.8 L1034.0,1144.3 L1034.6,1141.8 L1035.3,1139.3 L1035.9,1136.8 L1036.5,1134.3 L1037.1,1131.9 L1037.6,1129.4 L1038.2,1127.0 L1038.7,1124.5 L1039.3,1122.1 L1039.8,1119.6 L1040.3,1117.2 L1040.8,1114.7 L1041.3,1112.3 L1041.8,1109.9 L1042.3,1107.4 L1042.7,1105.0 L1043.2,1102.6 L1043.6,1100.2 L1044.1,1097.7 L1044.5,1095.3 L1044.9,1092.9 L1045.3,1090.4 L1045.8,1088.0 L1046.2,1085.6 L1046.6,1083.1 L1047.0,1080.7 L1047.4,1078.3 L1047.8,1075.8 L1048.2,1073.4 L1048.5,1070.9 L1048.9,1068.5 L1049.3,1066.0 L1049.7,1063.6 L1050.1,1061.1 L1050.6,1058.7 L1051.0,1056.2 L1051.4,1053.8 L1051.8,1051.3 L1052.3,1048.9 L1052.7,1046.4 L1053.2,1044.0 L1053.6,1041.5 L1054.1,1039.1 L1054.6,1036.6 L1055.2,1034.2 L1055.7,1031.7 L1056.2,1029.3 L1056.8,1026.9 L1057.4,1024.4 L1058.0,1022.0 L1058.6,1019.5 L1059.3,1017.1 L1060.0,1014.7 L1060.7,1012.2 L1061.4,1009.8 L1062.2,1007.4 L1063.0,1005.0 L1063.8,1002.6 L1064.6,1000.1 L1065.5,997.7 L1066.4,995.3 L1067.3,992.9 L1068.3,990.5 L1069.3,988.1 L1070.4,985.8 L1071.4,983.4 L1072.6,981.1 L1073.8,978.8 L1075.0,976.7 L1076.3,974.8 L1077.8,973.0 L1079.3,971.4 L1080.9,970.1 L1082.6,969.1 L1084.4,968.4 L1086.3,968.0 L1088.4,968.1 L1090.6,968.5 L1092.9,969.3 L1095.2,970.5 L1097.5,972.0 L1099.6,973.6 L1101.5,975.5 L1103.2,977.5 L1104.6,979.6 L1105.7,981.8 L1106.7,984.1 L1107.5,986.4 L1108.2,988.8 L1108.8,991.2 L1109.4,993.6 L1110.0,996.0 L1110.6,998.4 L1111.2,1000.9 L1111.8,1003.3 L1112.3,1005.7 L1112.9,1008.2 L1113.4,1010.7 L1114.0,1013.1 L1114.5,1015.6 L1115.0,1018.1 L1115.6,1020.5 L1116.1,1023.0 L1116.6,1025.5 L1117.1,1027.9 L1117.6,1030.4 L1118.2,1032.8 L1118.7,1035.3 L1119.2,1037.7 L1119.7,1040.2 L1120.2,1042.6 L1120.7,1045.0 L1121.2,1047.5 L1121.8,1049.9 L1122.3,1052.3 L1122.8,1054.6 L1123.3,1057.0 L1123.9,1059.4 L1124.4,1061.8 L1125.0,1064.2 L1125.5,1066.6 L1126.1,1069.0 L1126.6,1071.4 L1127.2,1073.8 L1127.8,1076.2 L1128.3,1078.7 L1128.9,1081.1 L1129.5,1083.6 L1130.1,1086.2 L1130.7,1088.7 L1131.3,1091.3 L1131.9,1093.9 L1132.6,1096.4 L1133.3,1099.0 L1134.1,1101.5 L1134.9,1103.9 L1135.9,1106.2 L1136.9,1108.4 L1138.1,1110.4 L1139.4,1112.3 L1140.9,1113.9 L1142.5,1115.4 L1144.3,1116.6 L1146.2,1117.6 L1148.3,1118.4 L1150.5,1119.0 L1152.8,1119.3 L1155.2,1119.5 L1157.7,1119.4 L1160.2,1119.1 L1162.8,1118.7 L1165.4,1118.0 L1168.0,1117.2 L1170.5,1116.3 L1172.9,1115.2 L1175.2,1114.1 L1177.4,1112.8 L1179.5,1111.4 L1181.4,1109.9 L1183.2,1108.4 L1184.9,1106.7 L1186.4,1105.0 L1187.9,1103.2 L1189.2,1101.3 L1190.5,1099.3 L1191.6,1097.2 L1192.6,1095.1 L1193.6,1092.9 L1194.5,1090.7 L1195.3,1088.4 L1196.1,1086.0 L1196.8,1083.6 L1197.4,1081.2 L1198.1,1078.7 L1198.6,1076.2 L1199.2,1073.7 L1199.7,1071.2 L1200.2,1068.7 L1200.7,1066.1 L1201.3,1063.6 L1201.8,1061.1 L1202.3,1058.6 L1202.9,1056.1 L1203.4,1053.6 L1204.0,1051.1 L1204.7,1048.7 L1205.4,1046.3 L1206.0,1043.9 L1206.8,1041.6 L1207.5,1039.2 L1208.3,1036.9 L1209.0,1034.5 L1209.8,1032.2 L1210.6,1029.9 L1211.4,1027.6 L1212.2,1025.3 L1213.0,1023.0 L1213.9,1020.6 L1214.7,1018.3 L1215.5,1016.0 L1216.3,1013.6 L1217.1,1011.2 L1217.9,1008.8 L1218.7,1006.4 L1219.6,1004.1 L1220.6,1001.7 L1221.7,999.4 L1223.0,997.1 L1224.4,994.9 L1226.2,992.8 L1228.1,990.9 L1230.1,989.4 L1232.2,988.4 L1234.2,988.2 L1236.1,988.9 L1237.8,990.4 L1239.4,992.3 L1241.0,994.4 L1242.4,996.5 L1243.8,998.7 L1245.0,1001.0 L1246.2,1003.2 L1247.4,1005.5 L1248.4,1007.8 L1249.4,1010.1 L1250.4,1012.5 L1251.3,1014.8 L1252.1,1017.2 L1252.9,1019.6 L1253.7,1021.9 L1254.4,1024.3 L1255.1,1026.7 L1255.7,1029.1 L1256.3,1031.5 L1256.9,1033.9 L1257.5,1036.3 L1258.0,1038.7 L1258.6,1041.1 L1259.1,1043.5 L1259.6,1045.9 L1260.2,1048.3 L1260.7,1050.7 L1261.3,1053.1 L1261.8,1055.5 L1262.4,1057.9 L1263.0,1060.3 L1263.7,1062.7 L1264.3,1065.2 L1265.1,1067.6 L1265.8,1070.0 L1266.6,1072.5 L1267.4,1074.9 L1268.3,1077.4 L1269.3,1079.9 L1270.3,1082.4 L1271.4,1084.8 L1272.5,1087.2 L1273.8,1089.4 L1275.0,1091.6 L1276.4,1093.6 L1277.8,1095.5 L1279.3,1097.1 L1280.8,1098.5 L1282.4,1099.6 L1284.1,1100.5 L1285.9,1101.1 L1287.7,1101.3 L1289.7,1101.1 L1291.6,1100.7 L1293.6,1099.9 L1295.7,1098.9 L1297.8,1097.6 L1299.8,1096.1 L1301.9,1094.5 L1303.9,1092.6 L1305.9,1090.7 L1307.9,1088.6 L1309.7,1086.5 L1311.6,1084.3 L1313.3,1082.1 L1314.9,1079.8 L1316.4,1077.6 L1317.9,1075.4 L1319.4,1073.2 L1320.7,1071.0 L1322.1,1068.8 L1323.4,1066.7 L1324.8,1064.6 L1326.1,1062.6 L1327.4,1060.6 L1328.8,1058.7 L1330.2,1056.9 L1331.7,1055.1 L1333.2,1053.5 L1334.8,1051.9 L1336.4,1050.5 L1338.2,1049.2 L1340.0,1047.9 L1342.0,1046.8 L1344.0,1045.8 L1346.2,1044.9 L1348.4,1044.2 L1350.8,1043.5 L1353.2,1042.9 L1355.8,1042.5 L1358.4,1042.1 L1361.1,1041.8 L1363.9,1041.7 L1366.6,1041.7 L1369.3,1041.8 L1371.9,1042.1 L1374.4,1042.5 L1376.7,1043.0 L1378.9,1043.7 L1380.9,1044.5 L1382.8,1045.5 L1384.6,1046.6 L1386.4,1047.9 L1388.0,1049.2 L1389.5,1050.7 L1391.1,1052.3 L1392.5,1054.1 L1393.9,1055.9 L1395.3,1057.9 L1396.7,1059.9 L1398.1,1062.1 L1399.6,1064.3 L1401.0,1066.6 L1402.5,1068.9 L1404.0,1071.2 L1405.5,1073.5 L1407.1,1075.6 L1408.7,1077.6 L1410.4,1079.5 L1412.1,1081.2 L1413.9,1082.7 L1415.8,1083.9 L1417.8,1084.9 L1419.8,1085.5 L1421.9,1085.8 L1424.2,1085.7 L1426.5,1085.2 L1428.8,1084.3 L1431.2,1083.2 L1433.6,1081.9 L1436.0,1080.3 L1438.3,1078.5 L1440.4,1076.7 L1442.5,1074.8 L1444.4,1072.9 L1446.0,1071.0 L1447.5,1069.2 L1448.7,1067.5 L1449.6,1065.9" fill="none" stroke="#ff0000" stroke-width="4.2" stroke-linejoin="round" stroke-linecap="round" />
<path d="M827.1,1060.1 L829.3,1060.9 L831.5,1061.8 L833.8,1062.6 L836.1,1063.5 L838.4,1064.4 L840.8,1065.3 L843.2,1066.1 L845.5,1067.0 L847.9,1067.8 L850.4,1068.7 L852.8,1069.4 L855.2,1070.2 L857.7,1070.9 L860.1,1071.5 L862.6,1072.1 L865.1,1072.6 L867.6,1073.0 L870.0,1073.3 L872.5,1073.6 L875.0,1073.7 L877.4,1073.8 L879.8,1073.8 L882.3,1073.6 L884.7,1073.4 L887.1,1073.0 L889.4,1072.5 L891.7,1072.0 L894.0,1071.3 L896.3,1070.5 L898.5,1069.5 L900.7,1068.5 L902.8,1067.3 L904.9,1066.0 L906.9,1064.6 L908.8,1063.0 L910.7,1061.3 L912.6,1059.5 L914.4,1057.6 L916.2,1055.7 L917.9,1053.8 L919.7,1051.8 L921.4,1049.9 L923.2,1048.0 L925.0,1046.2 L926.9,1044.5 L928.8,1042.9 L930.7,1041.5 L932.8,1040.3 L934.9,1039.4 L937.1,1038.6 L939.4,1038.1 L941.8,1037.8 L944.3,1037.8 L946.8,1037.8 L949.3,1038.0 L951.9,1038.4 L954.5,1038.8 L957.0,1039.2 L959.5,1039.7 L962.0,1040.2 L964.4,1040.7 L966.8,1041.2 L969.2,1041.7 L971.6,1042.1 L974.0,1042.5 L976.4,1043.0 L978.8,1043.3 L981.2,1043.6 L983.6,1043.9 L986.1,1044.1 L988.6,1044.3 L991.1,1044.4 L993.6,1044.5 L996.1,1044.7 L998.6,1044.9 L1000.9,1045.3 L1003.2,1045.8 L1005.4,1046.6 L1007.4,1047.5 L1009.3,1048.8 L1010.9,1050.3 L1012.5,1052.1 L1013.9,1054.0 L1015.2,1056.1 L1016.5,1058.4 L1017.6,1060.8 L1018.7,1063.3 L1019.7,1065.8 L1020.7,1068.3 L1021.7,1070.9 L1022.7,1073.4 L1023.7,1075.8 L1024.8,1078.1 L1025.8,1080.3 L1027.0,1082.4 L1028.2,1084.5 L1029.4,1086.5 L1030.7,1088.4 L1032.0,1090.3 L1033.3,1092.3 L1034.7,1094.2 L1036.1,1096.3 L1037.5,1098.4 L1038.9,1100.6 L1040.4,1102.9 L1041.9,1105.3 L1043.5,1107.7 L1045.0,1110.0 L1046.5,1112.0 L1048.1,1113.7 L1049.6,1114.8 L1051.2,1115.3 L1052.7,1115.1 L1054.2,1114.2 L1055.7,1112.7 L1057.2,1110.8 L1058.6,1108.5 L1059.9,1106.0 L1061.2,1103.3 L1062.5,1100.6 L1063.6,1098.0 L1064.7,1095.5 L1065.7,1093.1 L1066.7,1090.8 L1067.6,1088.6 L1068.4,1086.4 L1069.2,1084.3 L1070.0,1082.2 L1070.8,1080.1 L1071.5,1078.1 L1072.3,1076.0 L1073.0,1073.9 L1073.8,1071.8 L1074.6,1069.6 L1075.4,1067.4 L1076.3,1065.0 L1077.2,1062.6 L1078.1,1060.1 L1079.1,1057.4 L1080.2,1054.7 L1081.3,1051.9 L1082.5,1049.2 L1083.8,1046.5 L1085.1,1044.0 L1086.5,1041.5 L1088.0,1039.3 L1089.6,1037.3 L1091.2,1035.7 L1092.9,1034.3 L1094.6,1033.3 L1096.5,1032.8 L1098.4,1032.7 L1100.4,1033.1 L1102.4,1034.0 L1104.5,1035.3 L1106.7,1036.9 L1108.9,1038.6 L1111.0,1040.4 L1113.2,1042.2 L1115.4,1043.9 L1117.5,1045.4 L1119.6,1046.5 L1121.6,1047.3 L1123.5,1047.7 L1125.4,1047.7 L1127.3,1047.5 L1129.2,1046.9 L1131.0,1046.1 L1132.9,1045.1 L1134.8,1044.0 L1136.7,1042.7 L1138.6,1041.3 L1140.6,1039.9 L1142.6,1038.4 L1144.7,1036.9 L1146.9,1035.5 L1149.2,1034.1 L1151.5,1032.8 L1154.0,1031.7 L1156.4,1030.7 L1158.9,1029.9 L1161.3,1029.2 L1163.7,1028.8 L1166.1,1028.6 L1168.3,1028.7 L1170.5,1029.1 L1172.6,1029.8 L1174.5,1030.7 L1176.3,1031.9 L1178.0,1033.3 L1179.6,1034.9 L1181.1,1036.7 L1182.6,1038.7 L1183.9,1040.9 L1185.2,1043.1 L1186.3,1045.5 L1187.5,1047.9 L1188.5,1050.5 L1189.5,1053.0 L1190.4,1055.6 L1191.3,1058.2 L1192.2,1060.7 L1193.0,1063.2 L1193.7,1065.7 L1194.5,1068.1 L1195.2,1070.5 L1195.9,1072.8 L1196.5,1075.1 L1197.1,1077.4 L1197.7,1079.7 L1198.3,1081.9 L1198.9,1084.2 L1199.4,1086.5 L1200.0,1088.8 L1200.5,1091.1 L1201.0,1093.4 L1201.5,1095.8 L1202.0,1098.2 L1202.5,1100.7 L1203.0,1103.2 L1203.6,1105.7 L1204.3,1108.3 L1205.1,1110.8 L1206.0,1113.4 L1207.0,1116.0 L1208.1,1118.6 L1209.4,1121.0 L1210.7,1123.2 L1212.1,1125.0 L1213.4,1126.2 L1214.8,1126.9 L1216.2,1126.8 L1217.6,1126.1 L1218.9,1124.7 L1220.1,1122.8 L1221.3,1120.5 L1222.3,1118.0 L1223.3,1115.3 L1224.2,1112.6 L1225.0,1109.9 L1225.7,1107.4 L1226.3,1104.8 L1226.8,1102.4 L1227.3,1100.0 L1227.7,1097.6 L1228.1,1095.2 L1228.5,1092.9 L1228.9,1090.5 L1229.4,1088.1 L1229.8,1085.7 L1230.3,1083.3 L1230.8,1080.9 L1231.3,1078.5 L1231.8,1076.1 L1232.4,1073.6 L1232.9,1071.2 L1233.5,1068.8 L1234.1,1066.3 L1234.7,1063.9 L1235.3,1061.4 L1236.0,1059.0 L1236.6,1056.5 L1237.3,1054.1 L1238.0,1051.6 L1238.8,1049.2 L1239.6,1046.8 L1240.4,1044.4 L1241.3,1042.0 L1242.3,1039.7 L1243.4,1037.5 L1244.5,1035.3 L1245.8,1033.1 L1247.2,1031.1 L1248.8,1029.2 L1250.5,1027.3 L1252.3,1025.7 L1254.1,1024.6 L1255.9,1024.3 L1257.6,1025.1 L1259.1,1026.6 L1260.6,1028.7 L1262.0,1031.0 L1263.2,1033.3 L1264.4,1035.5 L1265.6,1037.6 L1266.6,1039.6 L1267.7,1041.7 L1268.7,1043.7 L1269.6,1045.9 L1270.6,1048.2 L1271.6,1050.7 L1272.5,1053.3 L1273.5,1056.0 L1274.6,1058.8 L1275.6,1061.5 L1276.8,1064.1 L1278.0,1066.5 L1279.3,1068.6 L1280.7,1070.4 L1282.2,1071.9 L1283.8,1072.8 L1285.5,1073.3 L1287.3,1073.3 L1289.2,1073.0 L1291.1,1072.3 L1293.1,1071.4 L1295.1,1070.1 L1297.1,1068.7 L1299.0,1067.0 L1300.9,1065.2 L1302.8,1063.3 L1304.6,1061.3 L1306.2,1059.3 L1307.8,1057.2 L1309.2,1055.2 L1310.6,1053.1 L1311.9,1051.1 L1313.1,1049.0 L1314.3,1046.9 L1315.6,1044.8 L1316.8,1042.6 L1318.0,1040.4 L1319.3,1038.2 L1320.7,1035.9 L1322.1,1033.6 L1323.6,1031.3 L1325.2,1029.2 L1326.8,1027.3 L1328.3,1025.9 L1329.9,1025.0 L1331.4,1024.9 L1332.8,1025.5 L1334.1,1026.8 L1335.4,1028.5 L1336.6,1030.8 L1337.7,1033.3 L1338.7,1035.9 L1339.7,1038.7 L1340.7,1041.4 L1341.6,1044.0 L1342.4,1046.5 L1343.2,1048.9 L1344.0,1051.2 L1344.7,1053.5 L1345.4,1055.8 L1346.1,1058.0 L1346.7,1060.2 L1347.4,1062.4 L1348.1,1064.6 L1348.8,1066.9 L1349.4,1069.1 L1350.2,1071.4 L1350.9,1073.8 L1351.7,1076.3 L1352.5,1078.8 L1353.3,1081.4 L1354.2,1084.1 L1355.2,1086.8 L1356.2,1089.4 L1357.4,1091.9 L1358.7,1094.2 L1360.1,1096.2 L1361.6,1097.8 L1363.3,1099.1 L1365.0,1099.9 L1366.9,1100.5 L1368.7,1100.6 L1370.6,1100.4 L1372.4,1099.8 L1374.1,1098.8 L1375.7,1097.5 L1377.3,1095.9 L1378.7,1094.0 L1380.1,1091.9 L1381.4,1089.6 L1382.6,1087.2 L1383.8,1084.6 L1384.8,1082.1 L1385.8,1079.5 L1386.8,1076.9 L1387.6,1074.4 L1388.4,1071.9 L1389.2,1069.4 L1389.9,1067.0 L1390.6,1064.6 L1391.3,1062.3 L1392.0,1060.0 L1392.7,1057.7 L1393.4,1055.4 L1394.1,1053.1 L1394.8,1050.8 L1395.6,1048.6 L1396.5,1046.3 L1397.4,1044.1 L1398.4,1041.9 L1399.5,1039.6 L1400.7,1037.3 L1401.9,1035.1 L1403.3,1032.9 L1404.8,1031.0 L1406.4,1029.5 L1408.0,1028.5 L1409.8,1028.1 L1411.7,1028.5 L1413.7,1029.8 L1415.6,1031.5 L1417.4,1033.5 L1419.1,1035.5 L1420.6,1037.6 L1422.0,1039.7 L1423.3,1041.9 L1424.6,1044.1 L1425.8,1046.3 L1426.9,1048.6 L1428.0,1050.8 L1429.1,1053.1 L1430.2,1055.3 L1431.3,1057.6 L1432.5,1059.7 L1433.8,1061.9 L1435.1,1064.0 L1436.5,1066.0 L1438.0,1068.0 L1439.5,1070.0 L1441.1,1071.9 L1442.7,1073.9 L1444.2,1075.8 L1445.8,1077.8 L1447.2,1079.8 L1448.6,1081.9 L1449.9,1084.0" fill="none" stroke="#0000ff" stroke-width="4.2" stroke-linejoin="round" stroke-linecap="round" />
<path d="M827.5,1060.2 L829.4,1060.6 L831.5,1061.1 L833.6,1061.7 L835.8,1062.3 L838.1,1062.9 L840.5,1063.6 L843.0,1064.4 L845.5,1065.1 L848.0,1065.9 L850.6,1066.6 L853.2,1067.4 L855.8,1068.0 L858.5,1068.7 L861.1,1069.3 L863.8,1069.8 L866.4,1070.3 L869.0,1070.7 L871.5,1070.9 L874.1,1071.1 L876.5,1071.1 L878.9,1071.0 L881.3,1070.8 L883.6,1070.4 L885.7,1069.8 L887.8,1069.1 L889.9,1068.2 L891.9,1067.2 L893.8,1066.1 L895.6,1064.8 L897.4,1063.5 L899.1,1062.0 L900.8,1060.4 L902.5,1058.7 L904.1,1056.9 L905.7,1055.0 L907.2,1053.0 L908.7,1051.0 L910.2,1048.9 L911.7,1046.7 L913.2,1044.5 L914.6,1042.3 L916.0,1040.0 L917.5,1037.7 L918.9,1035.3 L920.4,1032.9 L921.8,1030.6 L923.3,1028.2 L924.8,1025.8 L926.3,1023.5 L927.8,1021.4 L929.4,1019.4 L930.9,1017.6 L932.5,1016.1 L934.1,1014.9 L935.7,1014.1 L937.3,1013.7 L938.9,1013.7 L940.5,1014.2 L942.2,1015.2 L943.8,1016.6 L945.4,1018.3 L947.0,1020.3 L948.5,1022.6 L949.9,1025.0 L951.3,1027.5 L952.6,1030.1 L953.8,1032.7 L954.9,1035.3 L955.9,1037.8 L956.8,1040.1 L957.5,1042.4 L958.2,1044.5 L958.9,1046.7 L959.5,1048.8 L960.1,1050.9 L960.7,1053.0 L961.4,1055.2 L962.1,1057.5 L963.0,1059.9 L963.9,1062.5 L965.0,1065.1 L966.1,1067.8 L967.4,1070.5 L968.8,1073.0 L970.3,1075.3 L971.8,1077.3 L973.4,1078.9 L975.1,1080.0 L976.8,1080.5 L978.5,1080.3 L980.3,1079.5 L982.1,1078.1 L983.8,1076.3 L985.6,1074.3 L987.3,1071.9 L988.9,1069.5 L990.5,1067.1 L992.0,1064.8 L993.4,1062.7 L994.7,1060.8 L995.9,1059.4 L997.1,1058.3 L998.2,1057.6 L999.3,1057.4 L1000.5,1057.6 L1001.7,1058.4 L1002.9,1059.8 L1004.3,1061.7 L1005.7,1064.2 L1007.1,1067.0 L1008.4,1069.8 L1009.5,1072.7 L1010.5,1075.4 L1011.3,1078.0 L1012.0,1080.5 L1012.5,1082.9 L1013.1,1085.2 L1013.6,1087.5 L1014.1,1089.8 L1014.7,1092.0 L1015.4,1094.3 L1016.2,1096.5 L1017.1,1098.8 L1018.3,1101.0 L1019.6,1103.4 L1021.1,1105.6 L1022.7,1107.8 L1024.4,1109.9 L1026.2,1111.7 L1028.1,1113.3 L1029.9,1114.6 L1031.8,1115.6 L1033.7,1116.1 L1035.5,1116.2 L1037.2,1115.8 L1038.8,1115.0 L1040.4,1113.9 L1041.9,1112.3 L1043.3,1110.5 L1044.7,1108.4 L1045.9,1106.1 L1047.1,1103.6 L1048.2,1101.0 L1049.2,1098.3 L1050.1,1095.6 L1050.9,1092.9 L1051.7,1090.2 L1052.3,1087.6 L1052.9,1085.0 L1053.4,1082.5 L1053.8,1080.1 L1054.2,1077.7 L1054.6,1075.3 L1054.9,1073.0 L1055.2,1070.6 L1055.4,1068.3 L1055.7,1066.0 L1056.0,1063.7 L1056.2,1061.4 L1056.5,1059.0 L1056.9,1056.7 L1057.3,1054.3 L1057.7,1051.8 L1058.1,1049.4 L1058.5,1046.9 L1059.0,1044.4 L1059.5,1041.9 L1060.0,1039.4 L1060.5,1036.8 L1061.1,1034.3 L1061.6,1031.7 L1062.1,1029.2 L1062.7,1026.6 L1063.2,1024.1 L1063.7,1021.6 L1064.3,1019.1 L1064.8,1016.5 L1065.3,1014.1 L1065.7,1011.6 L1066.2,1009.1 L1066.6,1006.7 L1067.0,1004.3 L1067.3,1002.0 L1067.7,999.6 L1068.0,997.3 L1068.3,995.0 L1068.6,992.7 L1068.9,990.5 L1069.2,988.1 L1069.6,985.8 L1070.1,983.4 L1070.6,981.0 L1071.2,978.5 L1071.9,975.9 L1072.7,973.3 L1073.6,970.6 L1074.6,967.7 L1075.8,964.9 L1077.1,962.1 L1078.4,959.6 L1079.8,957.3 L1081.2,955.5 L1082.6,954.2 L1084.0,953.5 L1085.3,953.6 L1086.6,954.5 L1087.8,956.0 L1088.9,958.0 L1090.0,960.2 L1091.0,962.5 L1092.0,964.8 L1092.9,967.2 L1093.7,969.5 L1094.5,971.8 L1095.2,974.2 L1095.9,976.6 L1096.6,979.0 L1097.2,981.4 L1097.7,983.8 L1098.2,986.2 L1098.7,988.7 L1099.2,991.1 L1099.6,993.6 L1100.1,996.0 L1100.5,998.5 L1100.8,1001.0 L1101.2,1003.5 L1101.5,1006.0 L1101.9,1008.4 L1102.2,1010.9 L1102.6,1013.4 L1102.9,1015.9 L1103.2,1018.4 L1103.6,1020.9 L1103.9,1023.4 L1104.3,1025.9 L1104.7,1028.4 L1105.1,1030.8 L1105.5,1033.3 L1105.9,1035.8 L1106.3,1038.3 L1106.7,1040.7 L1107.2,1043.2 L1107.6,1045.7 L1108.1,1048.1 L1108.5,1050.6 L1109.0,1053.0 L1109.5,1055.5 L1109.9,1058.0 L1110.4,1060.4 L1110.9,1062.9 L1111.3,1065.3 L1111.8,1067.7 L1112.2,1070.2 L1112.7,1072.6 L1113.1,1075.1 L1113.6,1077.5 L1114.0,1079.9 L1114.4,1082.4 L1114.8,1084.8 L1115.2,1087.3 L1115.6,1089.7 L1116.0,1092.1 L1116.4,1094.6 L1116.7,1097.0 L1117.1,1099.4 L1117.5,1101.9 L1117.9,1104.3 L1118.4,1106.8 L1119.0,1109.3 L1119.6,1111.8 L1120.3,1114.3 L1121.1,1116.8 L1122.1,1119.4 L1123.1,1121.9 L1124.3,1124.3 L1125.5,1126.2 L1126.9,1127.4 L1128.3,1127.7 L1129.8,1127.0 L1131.3,1125.3 L1132.8,1123.2 L1134.1,1120.8 L1135.4,1118.5 L1136.6,1116.1 L1137.7,1113.8 L1138.7,1111.5 L1139.6,1109.2 L1140.6,1107.0 L1141.5,1104.8 L1142.4,1102.5 L1143.4,1100.3 L1144.4,1098.1 L1145.5,1095.9 L1146.6,1093.6 L1147.8,1091.4 L1149.1,1089.2 L1150.4,1086.9 L1151.8,1084.7 L1153.1,1082.4 L1154.4,1080.2 L1155.7,1077.9 L1156.9,1075.7 L1158.1,1073.5 L1159.1,1071.3 L1160.1,1069.1 L1160.9,1066.9 L1161.6,1064.7 L1162.2,1062.5 L1162.7,1060.3 L1163.2,1058.0 L1163.7,1055.8 L1164.1,1053.5 L1164.5,1051.1 L1164.9,1048.7 L1165.3,1046.3 L1165.7,1043.7 L1166.2,1041.1 L1166.7,1038.4 L1167.3,1035.6 L1168.0,1032.8 L1168.7,1029.9 L1169.5,1027.0 L1170.4,1024.3 L1171.3,1021.7 L1172.2,1019.3 L1173.1,1017.2 L1174.1,1015.4 L1175.1,1013.9 L1176.0,1012.9 L1177.0,1012.3 L1178.0,1012.3 L1178.9,1012.8 L1179.8,1013.8 L1180.7,1015.2 L1181.5,1017.0 L1182.4,1019.2 L1183.2,1021.6 L1183.9,1024.2 L1184.6,1026.9 L1185.3,1029.7 L1185.9,1032.5 L1186.5,1035.3 L1187.1,1038.1 L1187.6,1040.7 L1188.0,1043.3 L1188.5,1045.8 L1188.9,1048.2 L1189.3,1050.7 L1189.6,1053.0 L1190.0,1055.4 L1190.3,1057.7 L1190.7,1060.1 L1191.0,1062.4 L1191.4,1064.7 L1191.7,1067.1 L1192.1,1069.5 L1192.5,1071.9 L1192.9,1074.3 L1193.2,1076.7 L1193.7,1079.1 L1194.1,1081.6 L1194.5,1084.1 L1195.0,1086.6 L1195.4,1089.1 L1195.9,1091.6 L1196.4,1094.1 L1196.9,1096.6 L1197.5,1099.2 L1198.0,1101.8 L1198.6,1104.3 L1199.2,1106.9 L1199.8,1109.5 L1200.5,1112.1 L1201.1,1114.7 L1201.8,1117.2 L1202.5,1119.2 L1203.3,1120.4 L1204.2,1120.4 L1205.2,1119.2 L1206.1,1117.1 L1207.0,1114.5 L1207.8,1111.8 L1208.6,1109.2 L1209.2,1106.6 L1209.8,1104.0 L1210.3,1101.5 L1210.8,1099.0 L1211.3,1096.5 L1211.7,1094.1 L1212.1,1091.7 L1212.4,1089.3 L1212.7,1086.9 L1213.0,1084.5 L1213.2,1082.1 L1213.4,1079.7 L1213.6,1077.3 L1213.8,1074.8 L1213.9,1072.3 L1214.1,1069.8 L1214.2,1067.2 L1214.3,1064.6 L1214.4,1062.0 L1214.6,1059.4 L1214.8,1056.8 L1215.1,1054.2 L1215.5,1051.7 L1216.0,1049.2 L1216.6,1046.7 L1217.3,1044.3 L1218.2,1041.9 L1219.2,1039.7 L1220.4,1037.5 L1221.7,1035.6 L1223.2,1033.9 L1224.7,1032.6 L1226.4,1031.8 L1228.0,1031.4 L1229.8,1031.7 L1231.5,1032.6 L1233.2,1034.3 L1234.9,1036.5 L1236.5,1038.2 L1238.0,1038.5 L1239.2,1037.3 L1240.4,1035.2 L1241.6,1032.6 L1242.8,1030.2 L1244.0,1027.8 L1245.1,1025.5 L1246.2,1023.2 L1247.1,1020.8 L1247.9,1018.3 L1248.6,1015.8 L1249.3,1013.2 L1249.8,1010.7 L1250.4,1008.1 L1250.9,1005.5 L1251.4,1003.0 L1251.9,1000.5 L1252.4,998.0 L1253.0,995.6 L1253.7,993.3 L1254.4,991.1 L1255.3,989.0 L1256.2,987.1 L1257.2,985.7 L1258.2,984.7 L1259.2,984.4 L1260.1,984.8 L1261.1,986.2 L1261.9,988.3 L1262.8,991.1 L1263.5,994.0 L1264.2,996.9 L1264.8,999.6 L1265.3,1002.4 L1265.8,1005.0 L1266.3,1007.6 L1266.7,1010.1 L1267.0,1012.6 L1267.3,1015.1 L1267.6,1017.5 L1267.9,1019.9 L1268.2,1022.3 L1268.4,1024.7 L1268.7,1027.2 L1268.9,1029.6 L1269.1,1032.0 L1269.4,1034.4 L1269.6,1036.9 L1269.8,1039.3 L1270.0,1041.8 L1270.2,1044.2 L1270.5,1046.7 L1270.7,1049.1 L1270.9,1051.6 L1271.1,1054.1 L1271.3,1056.6 L1271.5,1059.1 L1271.7,1061.5 L1271.9,1064.0 L1272.1,1066.5 L1272.4,1069.0 L1272.6,1071.5 L1272.8,1074.0 L1273.0,1076.5 L1273.2,1079.0 L1273.4,1081.5 L1273.6,1084.0 L1273.8,1086.6 L1274.0,1089.1 L1274.3,1091.6 L1274.5,1094.1 L1274.7,1096.6 L1274.9,1099.1 L1275.1,1101.6 L1275.4,1104.1 L1275.6,1106.6 L1275.8,1109.1 L1276.1,1111.6 L1276.3,1114.1 L1276.6,1116.6 L1276.8,1119.1 L1277.1,1121.6 L1277.3,1124.1 L1277.6,1126.6 L1277.8,1129.0 L1278.1,1131.5 L1278.4,1134.0 L1278.7,1136.4 L1279.0,1138.9 L1279.3,1141.3 L1279.6,1143.8 L1279.9,1146.2 L1280.2,1148.6 L1280.5,1151.1 L1280.8,1153.5 L1281.1,1155.9 L1281.5,1158.3 L1281.8,1160.8 L1282.2,1163.2 L1282.5,1165.7 L1282.8,1168.2 L1283.2,1170.7 L1283.5,1173.3 L1283.9,1176.0 L1284.2,1178.7 L1284.5,1181.5 L1284.8,1184.4 L1285.1,1187.2 L1285.5,1189.7 L1285.9,1191.4 L1286.5,1191.9 L1287.1,1191.0 L1287.9,1189.1 L1288.7,1186.7 L1289.6,1184.0 L1290.4,1181.5 L1291.2,1179.0 L1291.9,1176.6 L1292.6,1174.1 L1293.2,1171.7 L1293.8,1169.2 L1294.3,1166.7 L1294.8,1164.3 L1295.2,1161.8 L1295.6,1159.3 L1296.0,1156.9 L1296.3,1154.4 L1296.6,1151.9 L1296.9,1149.4 L1297.1,1147.0 L1297.3,1144.5 L1297.6,1142.0 L1297.8,1139.5 L1297.9,1137.0 L1298.1,1134.6 L1298.3,1132.1 L1298.5,1129.6 L1298.7,1127.1 L1298.9,1124.6 L1299.1,1122.2 L1299.3,1119.7 L1299.6,1117.2 L1299.8,1114.7 L1300.1,1112.2 L1300.3,1109.7 L1300.6,1107.3 L1300.9,1104.8 L1301.2,1102.3 L1301.4,1099.8 L1301.7,1097.3 L1302.0,1094.9 L1302.3,1092.4 L1302.6,1089.9 L1302.9,1087.4 L1303.2,1084.9 L1303.5,1082.5 L1303.8,1080.0 L1304.1,1077.5 L1304.4,1075.0 L1304.7,1072.5 L1305.0,1070.0 L1305.3,1067.5 L1305.5,1065.1 L1305.8,1062.6 L1306.1,1060.1 L1306.4,1057.6 L1306.6,1055.1 L1306.9,1052.6 L1307.1,1050.1 L1307.4,1047.6 L1307.7,1045.1 L1308.0,1042.7 L1308.3,1040.2 L1308.6,1037.7 L1308.9,1035.3 L1309.2,1032.8 L1309.6,1030.4 L1310.0,1027.9 L1310.4,1025.5 L1310.8,1023.1 L1311.3,1020.7 L1311.9,1018.3 L1312.5,1015.9 L1313.2,1013.5 L1314.0,1011.1 L1315.0,1008.7 L1316.0,1006.3 L1317.2,1003.9 L1318.5,1001.5 L1320.0,999.4 L1321.5,997.7 L1323.0,996.7 L1324.6,996.5 L1326.2,997.1 L1327.8,998.4 L1329.3,1000.3 L1330.8,1002.6 L1332.3,1005.2 L1333.6,1007.9 L1334.9,1010.5 L1336.2,1012.9 L1337.3,1015.2 L1338.4,1017.3 L1339.4,1019.4 L1340.4,1021.4 L1341.3,1023.6 L1342.3,1025.7 L1343.2,1028.0 L1344.1,1030.2 L1345.0,1032.6 L1345.9,1034.9 L1346.8,1037.3 L1347.6,1039.7 L1348.5,1042.1 L1349.3,1044.5 L1350.1,1046.9 L1350.9,1049.3 L1351.7,1051.7 L1352.4,1054.1 L1353.2,1056.5 L1353.9,1058.9 L1354.7,1061.3 L1355.4,1063.7 L1356.1,1066.1 L1356.8,1068.4 L1357.6,1070.8 L1358.3,1073.2 L1359.0,1075.5 L1359.7,1077.9 L1360.5,1080.2 L1361.2,1082.6 L1362.0,1085.0 L1362.7,1087.3 L1363.5,1089.7 L1364.3,1092.0 L1365.1,1094.4 L1366.0,1096.8 L1366.8,1099.2 L1367.7,1101.5 L1368.6,1103.9 L1369.5,1106.3 L1370.5,1108.7 L1371.5,1111.0 L1372.5,1113.4 L1373.6,1115.8 L1374.7,1118.1 L1375.9,1120.5 L1377.0,1122.6 L1378.2,1124.4 L1379.4,1125.6 L1380.6,1126.0 L1381.8,1125.6 L1382.9,1124.5 L1383.9,1122.7 L1384.9,1120.4 L1385.8,1117.7 L1386.7,1114.8 L1387.5,1111.8 L1388.2,1108.8 L1388.8,1105.9 L1389.4,1103.2 L1389.8,1100.6 L1390.2,1098.1 L1390.6,1095.7 L1391.0,1093.3 L1391.3,1091.0 L1391.7,1088.6 L1392.0,1086.3 L1392.4,1083.9 L1392.7,1081.6 L1393.1,1079.2 L1393.4,1076.9 L1393.7,1074.6 L1394.1,1072.2 L1394.4,1069.9 L1394.8,1067.5 L1395.2,1065.1 L1395.5,1062.7 L1395.9,1060.3 L1396.3,1057.9 L1396.7,1055.4 L1397.2,1052.9 L1397.6,1050.4 L1398.1,1047.9 L1398.6,1045.3 L1399.1,1042.7 L1399.6,1040.0 L1400.2,1037.3 L1400.8,1034.5 L1401.4,1031.8 L1402.1,1028.9 L1402.8,1026.1 L1403.5,1023.5 L1404.3,1021.1 L1405.2,1019.0 L1406.2,1017.4 L1407.2,1016.4 L1408.4,1016.0 L1409.7,1016.3 L1411.0,1017.4 L1412.4,1018.8 L1413.8,1020.6 L1415.1,1022.6 L1416.3,1024.6 L1417.5,1026.7 L1418.6,1028.8 L1419.7,1031.1 L1420.7,1033.3 L1421.6,1035.7 L1422.5,1038.1 L1423.3,1040.5 L1424.1,1042.9 L1424.9,1045.4 L1425.6,1047.9 L1426.3,1050.4 L1427.0,1052.9 L1427.6,1055.4 L1428.3,1057.9 L1429.0,1060.4 L1429.7,1062.8 L1430.5,1065.2 L1431.3,1067.6 L1432.2,1069.9 L1433.2,1072.1 L1434.2,1074.3 L1435.4,1076.3 L1436.7,1078.3 L1438.1,1080.2 L1439.6,1082.0 L1441.3,1083.6 L1443.2,1085.2 L1445.2,1086.5 L1447.4,1087.8 L1449.8,1088.9" fill="none" stroke="#008080" stroke-width="4.2" stroke-linejoin="round" stroke-linecap="round" />
<path d="M826.8,1059.2 L829.1,1060.5 L831.5,1061.8 L833.9,1063.0 L836.2,1064.2 L838.6,1065.3 L841.1,1066.3 L843.5,1067.3 L845.9,1068.1 L848.3,1068.9 L850.7,1069.7 L853.2,1070.3 L855.6,1070.9 L858.0,1071.4 L860.5,1071.9 L862.9,1072.2 L865.3,1072.5 L867.7,1072.7 L870.1,1072.8 L872.5,1072.9 L874.9,1072.8 L877.2,1072.7 L879.6,1072.5 L881.9,1072.2 L884.2,1071.8 L886.5,1071.3 L888.8,1070.7 L891.1,1070.1 L893.3,1069.3 L895.5,1068.5 L897.7,1067.5 L899.8,1066.5 L902.0,1065.4 L904.1,1064.1 L906.1,1062.8 L908.2,1061.4 L910.2,1059.9 L912.1,1058.2 L914.0,1056.5 L915.9,1054.7 L917.8,1052.8 L919.6,1050.8 L921.4,1048.7 L923.2,1046.7 L925.0,1044.7 L926.8,1042.7 L928.6,1040.8 L930.4,1039.1 L932.3,1037.5 L934.2,1036.1 L936.2,1034.9 L938.3,1034.0 L940.4,1033.4 L942.6,1033.1 L945.0,1033.1 L947.4,1033.4 L949.8,1034.0 L952.4,1034.7 L954.9,1035.6 L957.5,1036.5 L960.1,1037.5 L962.7,1038.4 L965.3,1039.2 L967.8,1039.9 L970.3,1040.4 L972.8,1040.6 L975.1,1040.5 L977.4,1040.2 L979.7,1039.5 L981.8,1038.7 L984.0,1037.7 L986.1,1036.5 L988.1,1035.2 L990.1,1033.8 L992.1,1032.3 L994.1,1030.9 L996.1,1029.4 L998.1,1028.0 L1000.1,1026.6 L1002.1,1025.5 L1004.1,1024.8 L1005.9,1024.9 L1007.7,1025.8 L1009.3,1027.2 L1010.9,1028.9 L1012.3,1030.8 L1013.7,1032.9 L1015.1,1035.0 L1016.3,1037.3 L1017.6,1039.6 L1018.7,1041.9 L1019.9,1044.3 L1021.0,1046.7 L1022.0,1049.1 L1023.1,1051.4 L1024.1,1053.8 L1025.1,1056.1 L1026.1,1058.4 L1027.0,1060.7 L1028.0,1063.0 L1028.9,1065.3 L1029.8,1067.6 L1030.7,1069.9 L1031.6,1072.2 L1032.4,1074.5 L1033.3,1076.7 L1034.1,1079.0 L1035.0,1081.3 L1035.8,1083.6 L1036.7,1085.9 L1037.5,1088.2 L1038.4,1090.5 L1039.2,1092.8 L1040.1,1095.1 L1040.9,1097.4 L1041.8,1099.8 L1042.7,1102.2 L1043.6,1104.6 L1044.5,1107.0 L1045.4,1109.4 L1046.4,1111.8 L1047.3,1114.3 L1048.3,1116.8 L1049.3,1119.3 L1050.4,1121.8 L1051.5,1124.2 L1052.6,1126.4 L1053.8,1128.4 L1055.2,1130.2 L1056.6,1131.7 L1058.1,1132.7 L1059.7,1133.4 L1061.5,1133.5 L1063.4,1133.1 L1065.4,1132.2 L1067.5,1131.0 L1069.5,1129.4 L1071.6,1127.5 L1073.5,1125.5 L1075.4,1123.4 L1077.0,1121.3 L1078.6,1119.2 L1080.0,1117.0 L1081.3,1114.8 L1082.4,1112.6 L1083.5,1110.4 L1084.5,1108.1 L1085.4,1105.8 L1086.2,1103.5 L1087.0,1101.2 L1087.7,1098.8 L1088.4,1096.5 L1089.0,1094.1 L1089.7,1091.7 L1090.3,1089.3 L1090.9,1086.9 L1091.5,1084.5 L1092.2,1082.1 L1092.9,1079.7 L1093.6,1077.3 L1094.3,1074.9 L1095.0,1072.5 L1095.7,1070.1 L1096.5,1067.7 L1097.2,1065.3 L1098.0,1062.9 L1098.8,1060.5 L1099.5,1058.0 L1100.3,1055.6 L1101.0,1053.2 L1101.8,1050.8 L1102.5,1048.4 L1103.2,1046.0 L1103.9,1043.6 L1104.6,1041.2 L1105.2,1038.8 L1105.8,1036.4 L1106.5,1034.0 L1107.1,1031.7 L1107.7,1029.3 L1108.3,1026.9 L1108.9,1024.5 L1109.6,1022.1 L1110.3,1019.8 L1111.0,1017.4 L1111.7,1015.0 L1112.6,1012.6 L1113.4,1010.2 L1114.4,1007.9 L1115.4,1005.5 L1116.5,1003.1 L1117.7,1000.7 L1119.0,998.4 L1120.4,996.1 L1121.8,994.2 L1123.4,992.5 L1125.0,991.4 L1126.7,990.8 L1128.4,990.9 L1130.2,991.6 L1132.0,992.9 L1133.8,994.7 L1135.5,996.7 L1137.2,999.0 L1138.7,1001.3 L1140.2,1003.7 L1141.5,1006.1 L1142.8,1008.4 L1144.2,1010.5 L1145.6,1012.5 L1147.1,1014.3 L1148.7,1015.9 L1150.6,1017.2 L1152.6,1018.2 L1154.9,1019.0 L1157.2,1019.6 L1159.7,1020.2 L1162.1,1020.9 L1164.5,1021.7 L1166.7,1022.8 L1168.9,1024.2 L1170.9,1025.7 L1172.9,1027.3 L1174.8,1029.0 L1176.7,1030.8 L1178.6,1032.5 L1180.4,1034.2 L1182.3,1035.7 L1184.3,1037.1 L1186.3,1038.2 L1188.4,1039.0 L1190.6,1039.5 L1192.9,1039.8 L1195.2,1039.9 L1197.5,1040.1 L1199.6,1040.4 L1201.4,1041.1 L1203.1,1042.3 L1204.5,1043.8 L1205.7,1045.6 L1206.8,1047.6 L1207.8,1049.9 L1208.6,1052.3 L1209.3,1054.8 L1210.0,1057.4 L1210.6,1060.0 L1211.2,1062.6 L1211.7,1065.1 L1212.2,1067.7 L1212.7,1070.2 L1213.2,1072.8 L1213.6,1075.3 L1214.0,1077.8 L1214.4,1080.3 L1214.8,1082.8 L1215.2,1085.3 L1215.5,1087.8 L1215.9,1090.2 L1216.2,1092.7 L1216.5,1095.1 L1216.8,1097.6 L1217.1,1100.0 L1217.4,1102.5 L1217.8,1104.9 L1218.1,1107.4 L1218.4,1109.8 L1218.7,1112.2 L1219.0,1114.7 L1219.3,1117.1 L1219.7,1119.5 L1220.0,1122.0 L1220.4,1124.4 L1220.7,1126.9 L1221.1,1129.3 L1221.6,1131.8 L1222.0,1134.2 L1222.4,1136.7 L1222.9,1139.1 L1223.4,1141.6 L1224.0,1144.1 L1224.6,1146.6 L1225.2,1149.1 L1225.8,1151.6 L1226.5,1154.1 L1227.2,1156.6 L1227.9,1159.1 L1228.7,1161.6 L1229.6,1164.0 L1230.5,1166.4 L1231.5,1168.8 L1232.5,1171.0 L1233.5,1172.9 L1234.6,1174.0 L1235.7,1174.2 L1236.7,1173.3 L1237.7,1171.6 L1238.7,1169.3 L1239.7,1166.8 L1240.6,1164.3 L1241.4,1161.8 L1242.2,1159.3 L1242.9,1156.8 L1243.6,1154.3 L1244.3,1151.9 L1244.9,1149.4 L1245.5,1147.0 L1246.1,1144.5 L1246.6,1142.1 L1247.1,1139.7 L1247.6,1137.2 L1248.0,1134.8 L1248.5,1132.4 L1248.9,1129.9 L1249.3,1127.5 L1249.7,1125.0 L1250.1,1122.6 L1250.5,1120.1 L1250.9,1117.7 L1251.3,1115.2 L1251.7,1112.7 L1252.1,1110.2 L1252.4,1107.8 L1252.8,1105.3 L1253.2,1102.8 L1253.6,1100.3 L1253.9,1097.8 L1254.3,1095.4 L1254.7,1092.9 L1255.1,1090.4 L1255.4,1087.9 L1255.8,1085.4 L1256.2,1082.9 L1256.6,1080.5 L1257.0,1078.0 L1257.4,1075.5 L1257.8,1073.0 L1258.2,1070.6 L1258.6,1068.1 L1259.0,1065.6 L1259.5,1063.2 L1259.9,1060.7 L1260.4,1058.3 L1260.8,1055.8 L1261.3,1053.4 L1261.8,1051.0 L1262.2,1048.5 L1262.7,1046.1 L1263.3,1043.7 L1263.8,1041.3 L1264.3,1038.9 L1264.9,1036.6 L1265.5,1034.2 L1266.0,1031.8 L1266.7,1029.4 L1267.3,1026.9 L1268.0,1024.4 L1268.7,1021.9 L1269.5,1019.3 L1270.2,1016.7 L1271.1,1014.1 L1272.0,1011.6 L1273.0,1009.2 L1274.1,1007.1 L1275.3,1005.2 L1276.6,1003.7 L1278.1,1002.6 L1279.7,1002.0 L1281.4,1001.8 L1283.3,1002.1 L1285.3,1002.8 L1287.3,1003.8 L1289.3,1005.2 L1291.4,1006.8 L1293.5,1008.6 L1295.5,1010.5 L1297.5,1012.6 L1299.3,1014.8 L1301.1,1017.0 L1302.7,1019.2 L1304.1,1021.3 L1305.3,1023.3 L1306.4,1025.3 L1307.4,1027.2 L1308.2,1029.2 L1309.0,1031.2 L1309.8,1033.3 L1310.6,1035.6 L1311.5,1038.1 L1312.4,1040.7 L1313.4,1043.4 L1314.5,1046.2 L1315.5,1048.8 L1316.6,1051.4 L1317.8,1053.8 L1318.9,1056.0 L1320.1,1057.8 L1321.3,1059.3 L1322.5,1060.5 L1323.8,1061.1 L1325.1,1061.3 L1326.5,1061.0 L1328.0,1060.1 L1329.5,1058.6 L1331.2,1056.4 L1332.9,1053.9 L1334.7,1051.2 L1336.5,1048.5 L1338.4,1046.1 L1340.3,1044.2 L1342.2,1043.0 L1344.1,1042.6 L1345.9,1042.9 L1347.7,1043.8 L1349.4,1045.1 L1351.0,1046.8 L1352.4,1048.7 L1353.6,1050.7 L1354.7,1052.8 L1355.7,1054.9 L1356.5,1057.1 L1357.3,1059.4 L1358.1,1061.7 L1358.8,1064.1 L1359.6,1066.6 L1360.5,1069.2 L1361.4,1071.8 L1362.4,1074.4 L1363.5,1076.9 L1364.6,1079.5 L1365.8,1081.9 L1367.1,1084.2 L1368.5,1086.3 L1370.0,1088.2 L1371.5,1089.9 L1373.1,1091.3 L1374.8,1092.4 L1376.5,1093.1 L1378.4,1093.5 L1380.2,1093.4 L1382.2,1093.1 L1384.1,1092.3 L1386.1,1091.3 L1388.0,1090.0 L1390.0,1088.5 L1391.8,1086.7 L1393.6,1084.8 L1395.3,1082.7 L1396.8,1080.4 L1398.3,1078.0 L1399.5,1075.5 L1400.6,1073.0 L1401.6,1070.4 L1402.4,1067.8 L1403.1,1065.2 L1403.8,1062.6 L1404.3,1060.0 L1404.9,1057.4 L1405.4,1054.9 L1406.0,1052.4 L1406.6,1050.0 L1407.3,1047.7 L1408.1,1045.5 L1409.1,1043.5 L1410.1,1041.6 L1411.4,1039.8 L1412.8,1038.3 L1414.5,1036.9 L1416.4,1035.7 L1418.5,1034.8 L1420.7,1034.3 L1422.8,1034.2 L1424.9,1034.6 L1426.7,1035.6 L1428.4,1037.2 L1429.9,1039.2 L1431.3,1041.5 L1432.6,1044.1 L1433.7,1046.7 L1434.8,1049.3 L1435.9,1051.9 L1437.0,1054.3 L1438.0,1056.7 L1439.0,1058.9 L1440.0,1061.1 L1440.9,1063.3 L1441.9,1065.4 L1442.8,1067.6 L1443.7,1069.7 L1444.6,1071.9 L1445.5,1074.1 L1446.4,1076.4 L1447.3,1078.7 L1448.2,1081.1 L1449.1,1083.7 L1450.0,1086.4" fill="none" stroke="#ff00ff" stroke-width="4.2" stroke-linejoin="round" stroke-linecap="round" />
<path d="M827.4,1060.0 L829.4,1061.1 L831.4,1062.1 L833.5,1063.1 L835.7,1064.2 L837.9,1065.2 L840.2,1066.1 L842.5,1067.1 L844.9,1068.0 L847.3,1068.9 L849.7,1069.7 L852.1,1070.5 L854.6,1071.3 L857.1,1072.0 L859.6,1072.6 L862.1,1073.2 L864.7,1073.7 L867.2,1074.1 L869.7,1074.4 L872.3,1074.7 L874.8,1074.9 L877.3,1075.0 L879.7,1075.0 L882.2,1074.9 L884.6,1074.7 L887.0,1074.3 L889.4,1073.9 L891.7,1073.4 L893.9,1072.7 L896.2,1071.9 L898.3,1071.0 L900.5,1070.0 L902.6,1068.9 L904.6,1067.7 L906.7,1066.4 L908.6,1065.0 L910.6,1063.6 L912.5,1062.1 L914.5,1060.5 L916.3,1058.8 L918.2,1057.1 L920.0,1055.4 L921.9,1053.6 L923.7,1051.7 L925.5,1049.8 L927.3,1047.9 L929.0,1046.0 L930.8,1044.1 L932.6,1042.1 L934.3,1040.2 L936.1,1038.2 L937.8,1036.3 L939.6,1034.4 L941.3,1032.5 L943.1,1030.7 L944.9,1029.0 L946.7,1027.7 L948.5,1026.6 L950.4,1026.0 L952.2,1025.8 L954.2,1026.2 L956.1,1027.1 L958.1,1028.4 L960.0,1029.9 L962.0,1031.7 L963.9,1033.6 L965.8,1035.6 L967.7,1037.5 L969.5,1039.3 L971.4,1041.0 L973.3,1042.4 L975.3,1043.6 L977.3,1044.5 L979.3,1045.1 L981.5,1045.2 L983.8,1045.0 L986.1,1044.7 L988.5,1044.3 L990.9,1044.1 L993.3,1044.0 L995.7,1043.9 L998.1,1044.1 L1000.4,1044.4 L1002.6,1044.9 L1004.8,1045.7 L1006.9,1046.7 L1008.8,1047.9 L1010.6,1049.5 L1012.3,1051.3 L1013.9,1053.2 L1015.4,1055.4 L1016.8,1057.6 L1018.2,1060.0 L1019.5,1062.3 L1020.7,1064.7 L1021.9,1067.1 L1023.1,1069.4 L1024.2,1071.6 L1025.3,1073.8 L1026.4,1075.9 L1027.5,1078.0 L1028.6,1080.1 L1029.7,1082.2 L1030.8,1084.3 L1032.0,1086.4 L1033.2,1088.5 L1034.4,1090.6 L1035.6,1092.8 L1036.9,1095.0 L1038.2,1097.2 L1039.6,1099.6 L1041.1,1101.9 L1042.6,1104.3 L1044.2,1106.5 L1045.8,1108.6 L1047.5,1110.4 L1049.2,1111.9 L1050.9,1113.1 L1052.6,1113.8 L1054.3,1113.9 L1056.0,1113.5 L1057.7,1112.6 L1059.4,1111.3 L1061.1,1109.6 L1062.7,1107.7 L1064.3,1105.5 L1065.8,1103.2 L1067.3,1100.8 L1068.7,1098.4 L1070.1,1096.1 L1071.4,1093.8 L1072.6,1091.5 L1073.8,1089.3 L1075.0,1087.1 L1076.1,1084.9 L1077.2,1082.8 L1078.3,1080.6 L1079.4,1078.5 L1080.5,1076.4 L1081.7,1074.3 L1082.9,1072.2 L1084.1,1070.1 L1085.4,1068.0 L1086.6,1065.9 L1088.0,1063.8 L1089.3,1061.7 L1090.7,1059.6 L1092.2,1057.6 L1093.6,1055.5 L1095.1,1053.4 L1096.6,1051.4 L1098.2,1049.3 L1099.8,1047.3 L1101.4,1045.3 L1103.0,1043.3 L1104.7,1041.4 L1106.4,1039.4 L1108.1,1037.5 L1109.8,1035.7 L1111.6,1033.9 L1113.4,1032.3 L1115.3,1030.9 L1117.2,1029.8 L1119.2,1028.9 L1121.3,1028.4 L1123.4,1028.3 L1125.6,1028.4 L1128.0,1028.8 L1130.3,1029.2 L1132.8,1029.7 L1135.3,1030.2 L1137.8,1030.8 L1140.4,1031.5 L1142.9,1032.2 L1145.4,1032.9 L1147.9,1033.7 L1150.3,1034.5 L1152.7,1035.4 L1154.9,1036.4 L1157.1,1037.4 L1159.3,1038.5 L1161.3,1039.6 L1163.3,1040.8 L1165.2,1042.2 L1167.1,1043.6 L1168.9,1045.1 L1170.7,1046.7 L1172.4,1048.4 L1174.0,1050.2 L1175.6,1052.1 L1177.2,1054.0 L1178.8,1056.0 L1180.4,1058.0 L1181.9,1060.0 L1183.5,1061.9 L1185.2,1063.8 L1186.9,1065.7 L1188.6,1067.4 L1190.4,1069.0 L1192.2,1070.5 L1194.2,1071.9 L1196.2,1073.1 L1198.4,1074.1 L1200.6,1075.0 L1202.9,1075.8 L1205.2,1076.5 L1207.5,1077.3 L1209.8,1078.1 L1212.1,1079.0 L1214.2,1080.1 L1216.3,1081.4 L1218.2,1083.0 L1220.0,1084.8 L1221.7,1086.9 L1223.2,1089.3 L1224.6,1091.7 L1226.0,1094.2 L1227.5,1096.5 L1229.0,1098.5 L1230.6,1100.2 L1232.4,1101.5 L1234.2,1102.2 L1236.1,1102.5 L1237.8,1102.4 L1239.5,1101.7 L1241.2,1100.7 L1242.7,1099.3 L1244.2,1097.6 L1245.6,1095.6 L1246.9,1093.4 L1248.2,1091.1 L1249.4,1088.6 L1250.5,1086.0 L1251.6,1083.4 L1252.7,1080.8 L1253.7,1078.2 L1254.6,1075.7 L1255.6,1073.3 L1256.5,1071.0 L1257.3,1068.7 L1258.2,1066.4 L1259.0,1064.2 L1259.8,1062.0 L1260.6,1059.8 L1261.5,1057.6 L1262.3,1055.4 L1263.1,1053.2 L1263.9,1051.0 L1264.7,1048.8 L1265.6,1046.5 L1266.5,1044.2 L1267.4,1041.9 L1268.3,1039.5 L1269.3,1037.0 L1270.3,1034.5 L1271.3,1032.0 L1272.4,1029.4 L1273.6,1027.0 L1274.9,1024.6 L1276.2,1022.4 L1277.6,1020.3 L1279.1,1018.4 L1280.7,1016.7 L1282.4,1015.3 L1284.1,1014.3 L1285.7,1013.7 L1287.4,1013.7 L1288.9,1014.1 L1290.4,1015.1 L1291.7,1016.5 L1293.1,1018.2 L1294.3,1020.3 L1295.5,1022.6 L1296.7,1025.1 L1297.8,1027.7 L1298.8,1030.4 L1299.8,1033.1 L1300.8,1035.7 L1301.7,1038.3 L1302.6,1040.7 L1303.4,1043.1 L1304.3,1045.3 L1305.1,1047.5 L1306.0,1049.7 L1306.8,1051.8 L1307.7,1053.9 L1308.6,1056.0 L1309.5,1058.2 L1310.5,1060.4 L1311.5,1062.7 L1312.6,1065.0 L1313.8,1067.5 L1315.0,1070.1 L1316.3,1072.7 L1317.6,1075.1 L1319.0,1077.3 L1320.5,1079.1 L1322.0,1080.5 L1323.5,1081.1 L1325.1,1081.1 L1326.7,1080.3 L1328.3,1079.0 L1330.0,1077.4 L1331.7,1075.4 L1333.6,1073.4 L1335.5,1071.5 L1337.4,1069.8 L1339.5,1068.4 L1341.6,1067.2 L1343.7,1066.4 L1345.9,1065.9 L1348.1,1065.7 L1350.3,1065.9 L1352.5,1066.4 L1354.6,1067.3 L1356.7,1068.6 L1358.8,1070.1 L1360.8,1071.8 L1362.8,1073.5 L1364.8,1075.1 L1366.7,1076.5 L1368.6,1077.6 L1370.4,1078.4 L1372.2,1078.6 L1374.0,1078.3 L1375.8,1077.5 L1377.5,1076.2 L1379.1,1074.6 L1380.7,1072.6 L1382.3,1070.5 L1383.8,1068.1 L1385.3,1065.6 L1386.7,1063.0 L1388.0,1060.5 L1389.3,1058.0 L1390.6,1055.6 L1391.7,1053.3 L1392.9,1051.2 L1394.0,1049.1 L1395.2,1047.1 L1396.4,1045.1 L1397.6,1043.1 L1399.0,1041.0 L1400.4,1039.0 L1401.8,1036.9 L1403.4,1034.8 L1405.1,1032.9 L1406.8,1031.2 L1408.5,1029.8 L1410.2,1028.8 L1411.9,1028.2 L1413.6,1028.2 L1415.2,1028.9 L1416.8,1030.1 L1418.4,1031.8 L1419.8,1033.9 L1421.2,1036.2 L1422.5,1038.9 L1423.7,1041.6 L1424.8,1044.3 L1425.9,1047.0 L1426.8,1049.6 L1427.6,1052.0 L1428.3,1054.3 L1429.0,1056.6 L1429.7,1058.9 L1430.4,1061.1 L1431.1,1063.4 L1431.8,1065.8 L1432.6,1068.1 L1433.3,1070.4 L1434.1,1072.8 L1434.9,1075.1 L1435.8,1077.5 L1436.6,1079.8 L1437.5,1082.1 L1438.5,1084.4 L1439.4,1086.8 L1440.4,1089.1 L1441.5,1091.3 L1442.6,1093.6 L1443.7,1095.8 L1444.9,1098.0 L1446.1,1100.2 L1447.4,1102.3 L1448.8,1104.4 L1450.2,1106.5" fill="none" stroke="#808000" stroke-width="4.2" stroke-linejoin="round" stroke-linecap="round" />
</g>
<path d="M1295.5,749.8 L1350.5,749.8" fill="none" stroke="#000000" stroke-width="4.3" stroke-linejoin="round" stroke-linecap="round" />
<text transform="translate(1357.40,757.30) scale(1.0,1)" font-size="30.5" text-anchor="start" font-weight="bold" >MWA</text>
<path d="M1295.5,787.9 L1350.5,787.9" fill="none" stroke="#ff0000" stroke-width="4.3" stroke-linejoin="round" stroke-linecap="round" />
<text transform="translate(1357.40,795.50) scale(1.0,1)" font-size="30.5" text-anchor="start" font-weight="bold" >MWB</text>
<path d="M1295.5,825.1 L1350.5,825.1" fill="none" stroke="#0000ff" stroke-width="4.3" stroke-linejoin="round" stroke-linecap="round" />
<text transform="translate(1357.40,833.00) scale(1.0,1)" font-size="30.5" text-anchor="start" font-weight="bold" >Mn<tspan font-size='19.5' dy='8.8'>2</tspan><tspan dy='-8.8' dx='-1.2'>O</tspan><tspan font-size='19.5' dy='8.8' dx='-0.8'>3</tspan></text>
<path d="M1295.5,871.1999999999999 L1350.5,871.1999999999999" fill="none" stroke="#008080" stroke-width="4.3" stroke-linejoin="round" stroke-linecap="round" />
<text transform="translate(1357.40,879.10) scale(1.0,1)" font-size="30.5" text-anchor="start" font-weight="bold" >MnO</text>
<path d="M1295.5,908.6999999999999 L1350.5,908.6999999999999" fill="none" stroke="#ff00ff" stroke-width="4.3" stroke-linejoin="round" stroke-linecap="round" />
<text transform="translate(1357.40,916.60) scale(1.0,1)" font-size="30.5" text-anchor="start" font-weight="bold" >MnO<tspan font-size='19.5' dy='8.8' dx='-0.8'>2</tspan></text>
<path d="M1295.5,954.4 L1350.5,954.4" fill="none" stroke="#808000" stroke-width="4.3" stroke-linejoin="round" stroke-linecap="round" />
<text transform="translate(1357.40,962.30) scale(1.0,1)" font-size="30.5" text-anchor="start" font-weight="bold" >Mn<tspan font-size='19.5' dy='8.8'>3</tspan><tspan dy='-8.8' dx='-1.2'>O</tspan><tspan font-size='19.5' dy='8.8' dx='-0.8'>4</tspan></text>
</svg>
</body></html>
